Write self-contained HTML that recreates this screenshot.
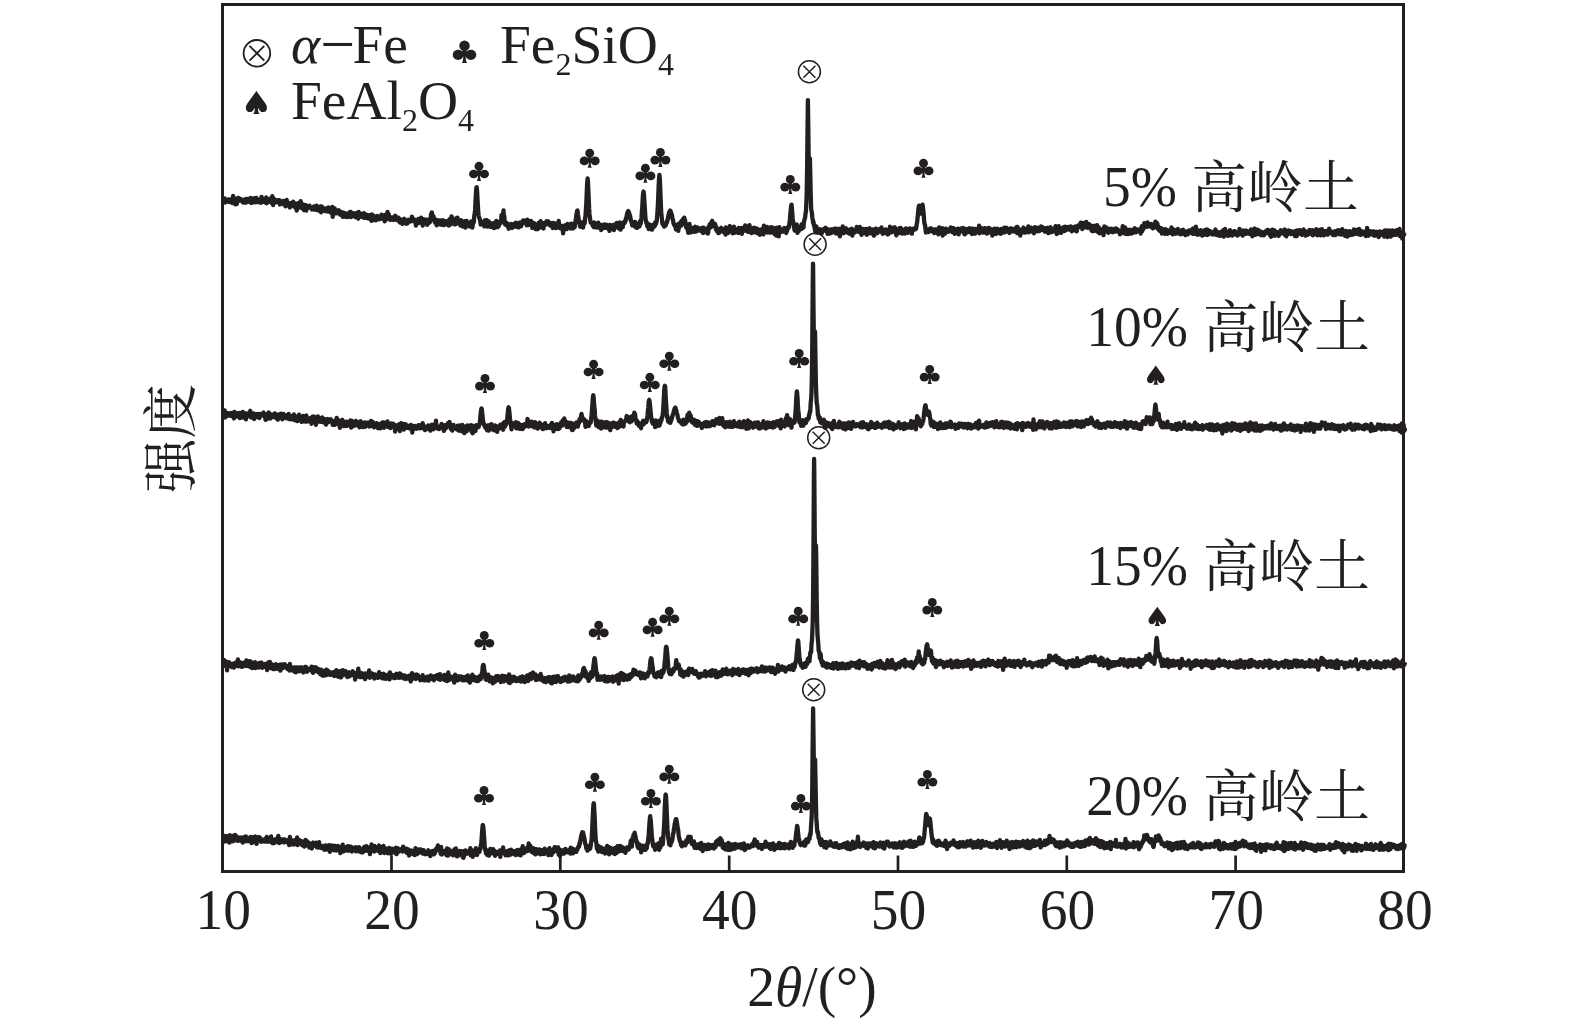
<!DOCTYPE html><html><head><meta charset="utf-8"><style>html,body{margin:0;padding:0;background:#fff;}svg{display:block;will-change:transform;}text{font-family:"Liberation Serif", "Noto Serif CJK SC", serif;fill:#231f20;}</style></head><body>
<svg width="1575" height="1029" viewBox="0 0 1575 1029">
<rect width="1575" height="1029" fill="#fff"/>
<g fill="none" stroke="#231f20" stroke-width="4.3" stroke-linejoin="round" stroke-linecap="butt">
<polyline points="223.5,201.3 223.9,202.1 224.3,201.3 224.7,198.5 225.1,202.5 225.5,201.7 225.9,199.9 226.3,201.7 226.7,201.2 227.1,201.1 227.5,200.7 227.9,201.6 228.3,199.4 228.7,200.4 229.1,199.9 229.5,202.0 229.9,201.0 230.3,200.5 230.7,199.4 231.1,200.3 231.5,200.7 231.9,200.3 232.3,203.0 232.7,202.4 233.1,195.8 233.5,197.3 233.9,200.4 234.3,200.0 234.7,201.0 235.1,201.1 235.5,204.4 235.9,198.8 236.3,200.0 236.7,204.2 237.1,201.6 237.5,201.8 237.9,199.7 238.3,197.8 238.7,200.9 239.1,200.6 239.5,198.3 239.9,199.3 240.3,200.5 240.7,199.0 241.1,200.5 241.5,200.6 241.9,200.7 242.3,199.9 242.7,202.0 243.1,202.6 243.5,201.6 243.9,199.6 244.3,202.4 244.7,200.3 245.1,202.7 245.5,199.2 245.9,202.7 246.3,201.0 246.7,198.8 247.1,200.4 247.5,201.0 247.9,201.4 248.3,199.0 248.7,198.9 249.1,201.1 249.5,199.9 249.9,201.1 250.3,202.3 250.7,197.9 251.1,201.2 251.5,203.0 251.9,200.3 252.3,199.5 252.7,202.1 253.1,201.3 253.5,202.4 253.9,200.1 254.3,198.2 254.7,200.7 255.1,200.1 255.5,202.2 255.9,201.1 256.3,197.9 256.7,198.5 257.1,202.2 257.5,201.9 257.9,199.3 258.3,200.4 258.7,201.3 259.1,201.5 259.5,202.2 259.9,201.2 260.3,200.6 260.7,200.3 261.1,202.8 261.5,196.9 261.9,200.5 262.3,200.9 262.7,198.3 263.1,201.2 263.5,199.3 263.9,201.8 264.3,199.9 264.7,201.4 265.1,202.4 265.5,200.7 265.9,198.5 266.3,197.5 266.7,203.3 267.1,200.1 267.5,199.2 267.9,200.7 268.3,200.0 268.7,201.7 269.1,200.4 269.5,200.2 269.9,198.9 270.3,200.9 270.7,198.3 271.1,201.4 271.5,203.1 271.9,197.8 272.3,196.1 272.7,201.6 273.1,205.0 273.5,199.0 273.9,198.7 274.3,201.9 274.7,199.4 275.1,200.1 275.5,200.6 275.9,202.3 276.3,201.0 276.7,202.2 277.1,201.4 277.5,200.4 277.9,201.4 278.3,200.4 278.7,202.2 279.1,200.2 279.5,200.2 279.9,204.5 280.3,202.1 280.7,202.2 281.1,203.2 281.5,201.6 281.9,202.1 282.3,203.3 282.7,203.1 283.1,200.8 283.5,204.3 283.9,201.9 284.3,201.3 284.7,201.7 285.1,202.6 285.5,206.3 285.9,201.3 286.3,203.7 286.7,199.9 287.1,203.8 287.5,205.2 287.9,203.3 288.3,202.6 288.7,204.3 289.1,205.2 289.5,205.3 289.9,207.5 290.3,204.4 290.7,203.2 291.1,204.1 291.5,204.4 291.9,204.6 292.3,204.4 292.7,204.7 293.1,201.6 293.5,206.2 293.9,203.7 294.3,202.9 294.7,206.1 295.1,207.4 295.5,206.2 295.9,205.8 296.3,204.0 296.7,210.7 297.1,207.2 297.5,203.5 297.9,204.2 298.3,205.8 298.7,202.8 299.1,205.7 299.5,204.6 299.9,207.5 300.3,207.2 300.7,201.2 301.1,206.0 301.5,203.3 301.9,208.1 302.3,206.6 302.7,207.4 303.1,204.7 303.5,209.7 303.9,210.1 304.3,204.8 304.7,207.4 305.1,205.8 305.5,207.1 305.9,205.1 306.3,210.6 306.7,205.8 307.1,206.9 307.5,208.4 307.9,206.3 308.3,207.2 308.7,206.6 309.1,207.3 309.5,205.7 309.9,207.0 310.3,207.6 310.7,207.4 311.1,208.2 311.5,207.6 311.9,209.5 312.3,207.8 312.7,208.1 313.1,207.3 313.5,207.6 313.9,206.4 314.3,209.7 314.7,206.9 315.1,207.7 315.5,209.5 315.9,209.7 316.3,208.2 316.7,205.6 317.1,210.0 317.5,209.6 317.9,206.6 318.3,210.5 318.7,208.0 319.1,207.3 319.5,209.5 319.9,208.8 320.3,209.5 320.7,206.4 321.1,212.4 321.5,208.1 321.9,206.5 322.3,210.4 322.7,208.7 323.1,209.9 323.5,208.9 323.9,209.4 324.3,210.1 324.7,208.5 325.1,211.2 325.5,209.2 325.9,208.6 326.3,210.3 326.7,211.0 327.1,210.0 327.5,208.9 327.9,211.5 328.3,207.3 328.7,208.8 329.1,210.7 329.5,208.2 329.9,210.7 330.3,210.7 330.7,212.5 331.1,209.4 331.5,210.2 331.9,211.9 332.3,207.0 332.7,216.8 333.1,210.2 333.5,210.2 333.9,213.0 334.3,211.5 334.7,208.5 335.1,212.8 335.5,213.3 335.9,211.4 336.3,211.9 336.7,213.3 337.1,210.8 337.5,213.1 337.9,212.7 338.3,211.3 338.7,210.2 339.1,212.2 339.5,211.1 339.9,214.5 340.3,213.2 340.7,214.4 341.1,213.4 341.5,213.8 341.9,212.1 342.3,214.7 342.7,216.9 343.1,213.5 343.5,213.1 343.9,214.0 344.3,213.4 344.7,213.1 345.1,214.7 345.5,214.1 345.9,216.9 346.3,214.3 346.7,215.1 347.1,216.3 347.5,214.0 347.9,217.0 348.3,213.3 348.7,213.0 349.1,213.9 349.5,214.4 349.9,212.0 350.3,214.5 350.7,211.9 351.1,217.2 351.5,214.8 351.9,213.9 352.3,213.3 352.7,214.4 353.1,214.9 353.5,213.2 353.9,213.4 354.3,214.8 354.7,214.2 355.1,216.8 355.5,217.2 355.9,215.2 356.3,215.9 356.7,213.0 357.1,216.6 357.5,215.7 357.9,216.6 358.3,218.7 358.7,212.0 359.1,216.4 359.5,213.9 359.9,216.9 360.3,213.5 360.7,214.7 361.1,215.9 361.5,216.6 361.9,215.7 362.3,214.4 362.7,215.0 363.1,217.5 363.5,216.0 363.9,213.2 364.3,217.7 364.7,217.1 365.1,217.8 365.5,215.7 365.9,217.8 366.3,214.6 366.7,217.4 367.1,215.6 367.5,217.7 367.9,218.3 368.3,215.3 368.7,216.7 369.1,216.9 369.5,218.9 369.9,218.2 370.3,214.8 370.7,217.9 371.1,218.4 371.5,220.9 371.9,214.4 372.3,216.6 372.7,219.8 373.1,215.3 373.5,215.7 373.9,218.7 374.3,220.0 374.7,216.9 375.1,219.0 375.5,218.0 375.9,220.3 376.3,217.6 376.7,219.3 377.1,216.0 377.5,217.1 377.9,217.1 378.3,219.3 378.7,218.5 379.1,216.5 379.5,219.0 379.9,219.1 380.3,217.5 380.7,217.2 381.1,217.4 381.5,214.7 381.9,218.1 382.3,218.0 382.7,216.0 383.1,218.9 383.5,215.3 383.9,216.8 384.3,217.0 384.7,221.4 385.1,214.9 385.5,218.7 385.9,219.4 386.3,218.3 386.7,219.3 387.1,214.9 387.5,211.9 387.9,216.7 388.1,213.3 388.3,215.1 388.7,214.0 389.1,218.7 389.5,219.1 389.9,216.7 390.3,219.9 390.7,218.8 391.1,218.4 391.5,218.6 391.9,218.3 392.3,219.5 392.7,219.0 393.1,217.8 393.5,220.0 393.9,216.8 394.3,217.6 394.7,217.4 395.1,218.9 395.2,215.6 395.5,219.7 395.9,217.7 396.3,217.7 396.7,217.4 397.1,220.1 397.5,219.3 397.9,217.5 398.3,217.6 398.7,218.7 399.1,218.6 399.5,221.9 399.9,222.4 400.3,221.6 400.7,220.8 401.1,219.6 401.5,220.4 401.9,221.7 402.3,224.0 402.7,221.7 403.1,219.7 403.5,220.1 403.9,219.3 404.3,218.9 404.7,220.0 405.1,220.7 405.5,223.4 405.9,220.3 406.3,222.5 406.7,223.7 407.1,220.7 407.5,223.4 407.9,221.8 408.3,219.8 408.7,221.3 409.1,220.9 409.5,220.6 409.9,220.5 410.3,221.0 410.7,221.4 411.1,218.8 411.5,219.9 411.9,216.6 412.3,219.4 412.4,220.0 412.7,219.2 413.1,219.9 413.5,220.8 413.9,219.0 414.3,220.0 414.7,221.6 415.1,222.5 415.5,221.6 415.9,225.5 416.3,220.9 416.7,223.1 417.1,223.5 417.5,221.0 417.9,219.7 418.3,218.9 418.7,221.2 419.1,223.0 419.5,221.6 419.9,221.5 420.3,220.6 420.7,222.4 421.1,217.7 421.5,222.0 421.9,221.8 422.3,219.4 422.7,225.5 423.1,219.1 423.5,219.6 423.9,219.4 424.3,223.5 424.7,220.1 425.1,222.8 425.5,222.6 425.9,222.0 426.3,219.7 426.7,220.8 427.1,224.8 427.5,219.8 427.9,220.5 428.3,221.6 428.7,223.1 429.1,222.1 429.5,222.4 429.9,218.9 430.3,221.5 430.7,219.4 431.1,213.8 431.5,217.2 431.9,217.9 431.9,212.5 432.3,214.9 432.7,219.0 433.1,215.9 433.5,216.3 433.9,218.4 434.3,220.3 434.7,220.4 435.1,222.8 435.5,222.3 435.9,219.6 436.3,222.9 436.7,225.3 437.1,224.2 437.5,223.9 437.9,222.0 438.3,223.7 438.7,220.5 439.1,223.7 439.5,222.2 439.9,224.4 440.3,223.3 440.7,220.5 441.1,223.0 441.5,224.9 441.9,220.8 442.3,221.8 442.7,221.6 443.1,220.2 443.5,224.4 443.9,225.1 444.3,224.1 444.7,223.0 445.1,222.5 445.5,223.0 445.9,221.2 446.3,224.0 446.7,224.4 447.1,224.2 447.5,221.8 447.9,222.8 448.3,222.3 448.7,225.6 449.1,222.7 449.5,219.1 449.9,222.8 450.3,224.7 450.7,221.8 451.1,221.5 451.4,219.9 451.5,216.3 451.9,217.1 452.3,218.8 452.7,221.4 453.1,222.7 453.5,223.4 453.9,221.9 454.3,224.3 454.7,222.3 455.1,221.6 455.5,224.3 455.9,221.2 456.3,218.2 456.7,221.2 457.1,223.3 457.5,217.7 457.9,222.5 458.3,222.6 458.7,220.7 459.1,220.7 459.5,222.5 459.9,222.3 460.3,225.4 460.7,223.8 461.1,220.2 461.5,221.4 461.9,224.2 462.3,226.4 462.7,223.7 463.1,223.8 463.5,226.6 463.9,223.5 464.3,223.2 464.7,221.2 465.1,222.9 465.5,227.6 465.9,221.3 466.3,223.7 466.7,221.0 467.1,223.7 467.5,225.0 467.9,223.1 468.3,224.6 468.7,224.6 469.1,224.0 469.5,226.5 469.9,224.8 470.3,222.9 470.7,222.2 471.1,221.6 471.5,224.0 471.9,222.3 472.3,227.5 472.7,225.4 473.1,221.5 473.5,220.6 473.9,222.1 474.3,215.4 474.7,213.6 475.1,209.7 475.5,201.4 475.9,194.2 476.3,188.3 476.6,187.1 476.7,187.1 477.1,191.3 477.5,198.7 477.9,205.9 478.3,213.0 478.7,215.6 479.1,217.4 479.5,218.3 479.9,219.4 480.3,221.5 480.7,224.5 481.1,223.3 481.5,222.4 481.9,221.7 482.3,222.9 482.7,223.2 483.1,223.1 483.5,221.8 483.9,223.7 484.3,226.3 484.7,220.5 485.1,223.8 485.5,220.4 485.9,224.3 486.3,222.6 486.7,220.0 487.1,223.6 487.1,226.7 487.5,224.0 487.9,226.3 488.3,224.7 488.7,221.3 489.1,225.9 489.5,224.5 489.9,222.8 490.3,226.8 490.7,225.8 491.1,224.4 491.5,226.8 491.9,223.6 492.3,226.3 492.7,223.5 493.1,226.1 493.5,223.2 493.9,228.0 494.3,225.9 494.7,227.9 495.1,224.0 495.5,224.5 495.9,226.8 496.3,220.8 496.7,223.8 497.1,227.1 497.5,226.0 497.9,227.0 498.3,224.9 498.7,226.2 499.1,223.9 499.5,222.6 499.9,221.6 500.3,223.5 500.7,223.0 501.1,221.9 501.5,215.2 501.9,216.3 502.3,216.7 502.7,216.1 503.1,213.3 503.3,212.6 503.5,210.4 503.9,219.2 504.3,215.9 504.7,222.8 505.1,224.5 505.5,223.6 505.9,222.9 506.3,224.7 506.7,222.8 507.1,225.6 507.5,225.3 507.9,226.5 508.3,227.2 508.7,228.7 509.1,225.0 509.5,227.6 509.9,224.4 510.3,224.2 510.7,224.7 511.1,224.0 511.5,227.4 511.9,227.3 512.3,228.0 512.7,225.7 513.1,226.4 513.5,224.9 513.9,223.9 514.3,226.5 514.7,226.2 515.1,223.8 515.5,226.6 515.9,222.6 516.3,225.2 516.7,224.4 517.1,224.5 517.5,223.6 517.9,227.2 518.3,226.6 518.7,227.4 519.1,225.4 519.5,222.6 519.9,224.0 520.3,222.5 520.7,225.1 521.1,226.2 521.5,224.4 521.9,222.6 522.3,222.8 522.7,223.6 523.1,220.3 523.5,222.9 523.9,222.6 524.3,221.2 524.7,221.1 525.1,222.2 525.4,220.5 525.5,220.5 525.9,223.4 526.3,222.5 526.7,225.3 527.1,220.8 527.5,219.7 527.9,224.7 528.3,225.0 528.7,222.3 529.1,221.5 529.5,224.2 529.9,221.4 530.3,224.1 530.7,221.0 531.1,224.7 531.5,221.5 531.9,224.9 532.3,227.9 532.7,224.9 533.1,226.8 533.5,224.5 533.9,224.3 534.3,223.2 534.7,227.7 535.1,225.9 535.5,229.1 535.9,224.3 536.3,225.9 536.7,226.4 537.1,228.7 537.5,229.3 537.9,225.1 538.3,224.1 538.7,222.8 539.1,228.1 539.5,225.7 539.9,224.7 540.3,225.7 540.7,221.1 541.1,222.5 541.5,227.1 541.9,226.3 542.3,226.0 542.7,223.7 543.1,226.4 543.5,228.5 543.9,223.2 544.3,225.0 544.7,224.0 545.1,225.0 545.5,223.9 545.9,223.2 546.3,221.5 546.7,222.6 547.1,221.3 547.5,222.0 547.9,222.1 548.0,223.5 548.3,221.3 548.7,222.1 549.1,224.7 549.5,222.8 549.9,223.2 550.3,225.6 550.7,224.9 551.1,224.9 551.5,225.4 551.9,223.2 552.3,226.5 552.7,228.1 553.1,226.8 553.5,223.0 553.9,226.2 554.3,224.1 554.7,225.3 555.1,225.9 555.5,223.6 555.9,228.1 556.3,225.6 556.7,227.2 557.1,226.6 557.5,227.5 557.9,227.0 558.3,222.2 558.4,224.8 558.7,221.0 559.1,224.3 559.5,226.6 559.9,227.3 560.3,228.4 560.7,225.7 561.1,227.0 561.5,226.8 561.9,228.9 562.3,229.4 562.7,226.0 563.1,233.3 563.5,226.5 563.9,226.0 564.3,227.5 564.7,227.8 565.1,227.3 565.5,225.3 565.9,229.0 566.3,226.4 566.7,229.0 567.1,228.8 567.5,224.0 567.9,224.5 568.3,224.5 568.7,226.5 569.1,226.0 569.5,226.4 569.9,224.7 570.3,226.6 570.7,228.5 571.1,223.6 571.5,225.5 571.9,226.3 572.3,225.5 572.7,225.4 573.1,228.4 573.5,227.4 573.9,226.4 574.3,223.6 574.7,227.2 575.1,223.6 575.5,220.8 575.9,218.6 576.3,215.4 576.7,213.5 577.1,210.8 577.2,210.7 577.5,210.5 577.9,214.3 578.3,216.5 578.7,219.2 579.1,222.9 579.5,222.6 579.9,225.7 580.3,226.8 580.7,222.4 581.1,225.1 581.5,222.5 581.9,224.8 582.3,226.4 582.7,222.3 583.1,227.5 583.5,223.4 583.9,221.8 584.3,222.8 584.7,223.1 585.1,218.1 585.5,216.2 585.9,209.5 586.3,203.8 586.7,193.6 587.1,184.2 587.5,179.5 587.6,178.5 587.9,180.9 588.3,189.6 588.7,198.3 589.1,208.2 589.5,213.9 589.9,217.4 590.3,220.6 590.7,222.7 591.1,222.9 591.5,222.8 591.9,223.2 592.3,222.4 592.7,225.5 593.1,226.1 593.5,226.9 593.9,222.5 594.3,227.1 594.7,225.8 595.1,223.2 595.5,226.1 595.9,227.4 596.3,226.9 596.7,227.1 597.1,227.5 597.5,227.6 597.9,226.0 598.3,222.7 598.7,224.9 599.1,227.0 599.5,225.7 599.9,227.8 600.3,228.2 600.7,226.8 601.1,230.1 601.5,224.9 601.9,228.2 602.3,225.8 602.7,225.2 603.1,227.5 603.5,225.4 603.9,228.0 604.3,224.5 604.7,226.6 605.1,225.1 605.5,226.1 605.9,226.0 606.3,224.7 606.7,228.0 607.1,224.8 607.5,225.3 607.9,228.6 608.3,228.8 608.7,228.2 609.1,227.6 609.5,230.9 609.9,224.9 610.3,225.6 610.7,225.2 611.1,228.6 611.5,227.5 611.9,228.8 612.3,228.4 612.7,226.2 613.1,225.1 613.5,224.7 613.9,230.1 614.3,228.1 614.7,227.4 615.1,225.9 615.5,226.3 615.9,226.3 616.3,226.3 616.7,222.8 617.1,226.8 617.5,226.3 617.9,227.6 618.3,227.5 618.7,228.4 619.1,226.8 619.5,228.1 619.9,222.4 620.3,225.0 620.7,229.7 621.1,224.7 621.5,226.0 621.9,227.5 622.3,224.9 622.7,227.2 623.1,223.7 623.5,222.6 623.9,222.8 624.3,221.9 624.7,222.9 625.1,221.6 625.5,220.9 625.9,218.2 626.3,218.8 626.7,215.6 627.1,214.0 627.5,212.8 627.9,211.5 628.3,211.1 628.3,211.3 628.7,212.0 629.1,212.8 629.5,214.4 629.9,215.3 630.3,216.8 630.7,220.4 631.1,220.3 631.5,222.2 631.9,223.7 632.3,225.5 632.7,223.0 633.1,224.7 633.5,225.2 633.9,225.6 634.3,222.5 634.7,226.3 635.1,221.9 635.5,227.1 635.9,227.5 636.3,227.5 636.7,224.3 637.1,227.9 637.5,224.7 637.9,223.9 638.3,224.1 638.7,224.2 639.1,225.6 639.5,226.4 639.9,221.3 640.3,223.0 640.7,223.8 641.1,220.6 641.5,217.7 641.9,211.2 642.3,207.0 642.7,198.7 643.1,193.5 643.5,191.5 643.5,191.7 643.9,193.7 644.3,200.0 644.7,206.2 645.1,212.3 645.5,218.6 645.9,220.8 646.3,222.8 646.7,222.1 647.1,225.2 647.5,226.6 647.9,224.5 648.3,225.2 648.7,229.0 649.1,226.6 649.5,225.8 649.9,224.5 650.3,225.4 650.7,226.1 651.1,229.0 651.5,225.6 651.9,229.7 652.3,225.1 652.7,226.0 653.1,227.9 653.5,226.0 653.9,224.8 654.3,225.7 654.7,226.4 655.1,222.5 655.5,224.4 655.9,223.9 656.3,222.3 656.7,221.7 657.1,216.6 657.5,211.6 657.9,204.5 658.3,195.4 658.7,184.8 659.1,177.7 659.4,174.8 659.5,175.8 659.9,180.2 660.3,189.8 660.7,200.1 661.1,210.3 661.5,215.8 661.9,218.7 662.3,223.6 662.7,223.1 663.1,223.1 663.5,225.7 663.9,225.1 664.3,226.6 664.7,224.3 665.1,225.5 665.5,225.6 665.9,224.6 666.3,223.5 666.7,221.8 667.1,222.1 667.5,220.0 667.9,218.6 668.3,216.3 668.7,214.6 669.1,212.5 669.5,211.6 669.9,211.0 670.2,210.6 670.3,210.9 670.7,211.3 671.1,213.0 671.5,213.9 671.9,214.9 672.3,218.0 672.7,219.4 673.1,220.4 673.5,223.4 673.9,224.2 674.3,225.3 674.7,225.1 675.1,226.4 675.5,227.0 675.9,229.5 676.3,226.1 676.7,227.1 677.1,227.9 677.5,224.4 677.9,224.6 678.3,230.9 678.7,224.1 679.1,227.9 679.5,225.1 679.9,224.9 680.3,222.3 680.7,223.6 681.1,225.7 681.5,220.9 681.9,223.2 682.3,222.0 682.7,224.0 683.1,218.9 683.5,221.8 683.5,221.0 683.9,219.3 684.3,217.6 684.7,224.2 685.1,220.1 685.5,222.8 685.9,226.3 686.3,227.7 686.7,225.2 687.1,227.3 687.5,227.4 687.9,230.4 688.3,232.9 688.7,225.7 689.1,230.7 689.5,224.0 689.9,229.1 690.3,227.1 690.7,232.5 691.1,229.1 691.5,227.7 691.9,228.0 692.3,228.0 692.7,229.4 693.1,228.8 693.5,230.3 693.9,231.9 694.3,230.6 694.7,227.2 695.1,226.8 695.5,228.4 695.9,231.7 696.3,229.2 696.7,228.7 697.1,230.2 697.5,227.4 697.9,227.9 698.3,230.6 698.7,229.1 699.1,228.8 699.5,230.2 699.9,228.8 700.3,228.7 700.7,229.2 701.1,231.0 701.5,230.0 701.9,227.8 702.3,229.4 702.7,231.1 703.1,233.0 703.5,227.7 703.9,230.3 704.3,229.1 704.7,231.0 705.1,230.5 705.5,232.2 705.9,230.5 706.3,228.7 706.7,228.7 707.1,230.3 707.5,230.2 707.9,233.6 708.3,231.9 708.7,226.6 709.1,228.8 709.5,225.2 709.9,224.2 710.3,227.6 710.7,226.5 711.1,222.9 711.5,226.8 711.9,221.6 712.3,220.8 712.6,224.0 712.7,223.2 713.1,222.9 713.5,223.6 713.9,224.9 714.3,225.2 714.7,226.1 715.1,223.9 715.5,225.6 715.9,229.4 716.3,227.4 716.7,230.0 717.1,231.4 717.5,228.6 717.9,229.8 718.3,233.1 718.7,230.7 719.1,232.8 719.5,232.3 719.9,231.1 720.3,229.4 720.7,228.3 721.1,227.9 721.5,230.6 721.9,230.6 722.3,229.5 722.7,231.4 723.1,229.0 723.5,232.0 723.9,230.2 724.3,230.0 724.7,230.2 725.1,230.0 725.5,234.6 725.9,227.3 726.3,230.2 726.7,232.2 727.1,231.3 727.5,229.6 727.9,233.2 728.3,228.2 728.7,227.8 729.1,231.1 729.5,227.6 729.9,226.0 730.3,231.7 730.7,231.4 731.1,231.4 731.5,229.3 731.9,230.5 732.3,228.6 732.7,233.3 733.1,231.6 733.5,231.5 733.9,226.7 734.3,231.5 734.7,232.7 735.1,232.2 735.5,231.4 735.9,230.1 736.3,229.4 736.7,231.1 737.1,230.8 737.5,230.6 737.9,229.5 738.3,233.0 738.7,227.9 739.1,229.9 739.5,228.9 739.9,231.9 740.3,232.5 740.7,232.1 741.1,231.5 741.5,227.8 741.9,233.9 742.3,231.2 742.7,230.0 743.1,230.1 743.5,229.5 743.9,230.8 744.3,230.4 744.7,229.2 745.1,225.4 745.5,229.8 745.9,230.7 746.3,230.8 746.7,229.5 747.1,230.5 747.5,231.4 747.9,228.7 748.3,231.9 748.7,225.8 749.0,227.1 749.1,227.7 749.5,225.2 749.9,227.9 750.3,232.0 750.7,232.0 751.1,230.1 751.5,233.1 751.9,230.5 752.3,229.2 752.7,230.5 753.1,229.9 753.5,231.5 753.9,227.7 754.3,232.3 754.7,229.9 755.1,232.3 755.5,228.2 755.9,230.0 756.3,230.9 756.7,232.2 757.1,228.6 757.5,233.4 757.9,231.3 758.3,229.4 758.7,232.5 759.1,230.7 759.5,232.6 759.9,234.8 760.3,231.9 760.7,229.6 761.1,229.8 761.5,231.4 761.9,231.0 762.3,228.9 762.7,229.0 763.1,231.4 763.5,234.3 763.9,225.6 764.3,231.3 764.7,229.8 765.1,231.5 765.5,231.7 765.9,230.4 766.3,228.4 766.7,227.9 767.1,226.9 767.5,232.5 767.9,229.8 768.3,229.2 768.7,229.6 769.1,227.7 769.5,230.7 769.9,232.5 770.3,232.2 770.7,227.5 771.1,232.7 771.5,229.1 771.9,227.3 772.3,228.5 772.7,229.0 773.1,230.7 773.5,228.9 773.9,228.1 774.3,230.6 774.7,234.3 775.1,229.6 775.5,231.6 775.9,231.0 776.3,235.5 776.7,227.6 777.1,232.6 777.5,228.4 777.9,229.6 778.3,230.4 778.7,236.3 779.1,229.2 779.5,227.2 779.9,232.8 780.3,229.1 780.7,230.1 781.1,230.5 781.5,230.7 781.9,230.0 782.3,230.7 782.7,230.9 783.1,231.6 783.5,229.4 783.9,228.9 784.3,228.1 784.7,231.2 785.1,230.1 785.5,231.1 785.9,231.0 786.3,233.0 786.7,230.2 787.1,230.8 787.5,227.3 787.9,227.2 788.3,228.0 788.7,225.9 789.1,227.1 789.5,222.4 789.9,220.5 790.3,214.2 790.7,210.1 791.1,206.2 791.4,205.1 791.5,204.6 791.9,208.2 792.3,213.6 792.7,218.5 793.1,221.4 793.5,224.2 793.9,225.1 794.3,228.7 794.7,230.5 795.1,227.7 795.5,225.9 795.9,229.3 796.3,230.5 796.7,224.5 797.1,229.5 797.5,232.9 797.9,230.8 798.3,230.1 798.7,229.8 799.1,230.8 799.5,227.0 799.9,227.1 800.3,229.3 800.7,227.3 801.1,228.6 801.5,224.4 801.9,228.7 802.3,228.4 802.7,226.4 803.1,225.9 803.5,227.5 803.9,221.8 804.3,220.6 804.7,218.7 805.1,217.7 805.5,213.8 805.9,211.7 806.3,204.6 806.7,192.8 807.1,170.7 807.5,132.3 807.9,100.2 807.9,100.1 808.3,127.4 808.7,161.6 809.1,174.2 809.5,166.7 809.9,158.4 809.9,158.4 810.3,174.6 810.7,193.7 811.1,208.1 811.5,210.9 811.9,212.7 812.3,217.3 812.7,219.3 813.1,222.8 813.5,221.8 813.9,225.5 814.3,226.0 814.7,228.3 815.1,230.5 815.5,232.2 815.9,230.2 816.3,226.3 816.7,228.1 817.1,229.3 817.5,232.7 817.9,230.5 818.3,231.6 818.7,229.4 819.1,230.9 819.5,231.1 819.9,229.1 820.3,231.5 820.7,232.0 821.1,229.9 821.5,232.0 821.9,233.2 822.3,230.3 822.7,230.2 823.1,229.7 823.5,229.2 823.9,230.6 824.3,229.5 824.7,229.8 825.1,229.0 825.5,227.7 825.9,228.8 826.3,231.0 826.7,228.5 827.1,229.7 827.5,233.8 827.9,232.9 828.3,229.5 828.7,231.8 829.1,229.7 829.5,233.7 829.9,229.9 830.3,230.9 830.7,233.1 831.1,229.3 831.5,233.1 831.9,229.3 832.3,231.0 832.7,229.9 833.1,230.3 833.5,230.8 833.9,230.4 834.3,228.7 834.7,232.1 835.1,231.9 835.5,233.1 835.9,233.5 836.3,228.6 836.7,233.3 837.1,233.3 837.5,230.3 837.9,232.9 838.3,233.7 838.7,230.2 839.1,228.8 839.5,230.7 839.9,236.4 840.3,231.9 840.7,229.2 841.1,230.8 841.5,229.6 841.9,230.4 842.3,231.3 842.7,226.4 843.1,231.4 843.5,233.2 843.9,230.3 844.3,230.1 844.7,232.5 845.1,228.5 845.5,228.4 845.9,228.3 846.3,230.6 846.7,231.6 847.1,231.0 847.5,232.2 847.9,232.8 848.3,232.2 848.7,230.1 849.1,231.0 849.5,233.7 849.9,229.5 850.3,230.8 850.7,230.3 851.1,230.8 851.5,229.3 851.9,228.7 852.3,235.6 852.7,232.7 853.1,229.9 853.5,231.0 853.9,232.5 854.3,230.8 854.7,232.5 855.1,230.4 855.5,230.8 855.9,231.1 856.3,230.3 856.7,227.0 857.1,231.2 857.5,231.5 857.9,231.7 858.3,228.9 858.7,231.3 859.1,231.2 859.5,227.7 859.9,226.9 860.3,231.8 860.7,229.4 861.1,232.9 861.5,234.8 861.9,230.1 862.3,230.1 862.7,231.3 863.1,232.4 863.5,228.9 863.9,233.1 864.3,232.7 864.7,232.1 865.1,230.0 865.5,232.4 865.9,232.3 866.3,228.9 866.7,234.9 867.1,230.6 867.5,231.7 867.9,230.2 868.3,231.9 868.7,233.4 869.1,229.9 869.5,228.3 869.9,230.5 870.3,229.0 870.7,230.0 871.1,231.1 871.5,231.2 871.9,233.6 872.3,229.5 872.7,232.0 873.1,230.5 873.5,233.7 873.9,235.7 874.3,232.0 874.7,234.5 875.1,230.6 875.5,228.8 875.9,229.3 876.3,228.7 876.7,229.7 877.1,230.9 877.5,233.1 877.9,232.2 878.3,231.6 878.7,229.9 879.1,229.4 879.5,230.8 879.9,231.0 880.3,231.3 880.7,231.6 881.1,230.5 881.5,227.5 881.9,228.9 882.3,229.4 882.7,233.8 883.1,230.2 883.5,232.1 883.9,233.3 884.3,231.6 884.7,230.3 885.1,230.6 885.5,229.4 885.9,231.8 886.3,233.1 886.7,232.0 887.1,232.5 887.5,232.3 887.9,234.5 888.3,229.8 888.7,231.2 889.1,232.1 889.5,233.0 889.9,226.7 890.3,230.1 890.7,230.5 891.1,229.2 891.5,232.4 891.9,231.2 892.3,230.1 892.7,227.9 893.1,228.3 893.5,229.0 893.9,231.5 894.3,228.6 894.7,227.2 895.1,228.3 895.5,229.8 895.9,233.8 896.3,235.3 896.7,230.0 897.1,232.7 897.5,233.6 897.9,233.4 898.3,231.0 898.7,229.0 899.1,230.3 899.5,228.1 899.9,232.0 900.3,232.9 900.7,228.0 901.1,231.3 901.5,231.9 901.9,233.5 902.3,233.6 902.7,232.5 903.1,229.7 903.5,230.2 903.9,233.0 904.3,229.8 904.7,230.7 905.1,233.5 905.5,231.0 905.9,228.3 906.3,230.2 906.7,231.7 907.1,230.3 907.5,232.6 907.9,232.8 908.3,229.3 908.7,229.8 909.1,230.4 909.5,228.4 909.9,231.3 910.3,230.3 910.7,232.1 911.1,229.6 911.5,229.1 911.9,233.7 912.3,229.1 912.7,229.5 913.1,229.0 913.5,229.7 913.9,228.4 914.3,229.8 914.7,228.4 915.1,228.6 915.5,229.2 915.9,228.9 916.3,227.4 916.7,224.2 917.1,222.8 917.5,218.8 917.9,214.7 918.3,209.5 918.7,207.0 919.0,205.6 919.1,206.2 919.5,207.1 919.9,208.9 920.3,210.9 920.7,213.6 921.1,211.3 921.5,210.0 921.9,206.5 922.3,205.4 922.5,204.6 922.7,205.8 923.1,208.9 923.5,212.6 923.9,217.2 924.3,222.6 924.7,224.4 925.1,225.4 925.5,229.5 925.9,232.5 926.3,229.0 926.7,231.6 927.1,229.3 927.5,232.0 927.9,229.3 928.3,232.2 928.7,231.0 929.1,229.8 929.5,230.6 929.9,229.3 930.3,228.4 930.7,228.5 931.1,230.2 931.5,228.5 931.9,231.2 932.3,231.5 932.7,231.5 933.1,229.8 933.5,230.7 933.9,230.6 934.3,233.1 934.7,229.3 935.1,230.0 935.5,230.2 935.9,230.4 936.3,229.4 936.7,229.7 937.1,232.7 937.5,229.7 937.9,232.4 938.3,234.4 938.7,233.2 939.1,227.5 939.5,232.1 939.9,231.5 940.3,231.6 940.7,227.9 941.1,232.0 941.5,228.9 941.9,233.0 942.3,232.9 942.7,235.6 943.1,230.6 943.5,228.5 943.9,233.0 944.3,232.8 944.7,230.5 945.1,233.5 945.5,232.3 945.9,228.7 946.3,230.3 946.7,230.1 947.1,230.6 947.5,231.2 947.9,229.6 948.3,230.4 948.7,231.7 949.1,230.5 949.5,230.1 949.9,230.2 950.3,230.7 950.7,227.4 951.1,231.1 951.5,229.0 951.9,230.9 952.3,228.2 952.7,232.3 953.1,231.0 953.5,228.2 953.9,231.0 954.3,229.3 954.7,233.8 955.1,231.5 955.5,229.3 955.9,231.2 956.3,230.6 956.7,232.9 957.1,231.4 957.5,231.6 957.9,228.7 958.3,232.1 958.7,234.4 959.1,231.9 959.5,230.7 959.9,231.0 960.3,229.0 960.7,230.9 961.1,228.5 961.5,230.5 961.9,229.9 962.3,229.1 962.7,231.6 963.1,228.0 963.5,230.5 963.9,228.4 964.3,234.1 964.7,234.3 965.1,232.2 965.5,233.9 965.9,231.7 966.3,231.6 966.7,229.9 967.1,229.1 967.5,230.8 967.9,229.8 968.3,230.0 968.7,232.2 969.1,230.6 969.5,228.2 969.9,230.6 970.3,229.5 970.7,230.4 971.1,228.9 971.5,233.1 971.9,234.0 972.3,228.6 972.7,231.7 973.1,231.6 973.5,228.8 973.9,230.9 974.3,233.2 974.7,232.0 975.1,233.7 975.5,229.0 975.9,229.9 976.3,231.6 976.7,231.8 977.1,231.1 977.5,230.3 977.9,230.4 978.3,229.9 978.7,231.6 979.1,225.7 979.5,233.4 979.9,229.5 980.3,227.9 980.7,231.3 981.1,227.9 981.5,231.0 981.9,229.7 982.3,231.5 982.7,231.8 983.1,232.6 983.5,229.5 983.9,230.3 984.3,230.6 984.7,228.1 985.1,231.7 985.5,231.0 985.9,228.6 986.3,233.2 986.7,233.5 987.1,228.5 987.5,231.8 987.9,233.1 988.3,232.1 988.7,228.9 989.1,227.9 989.5,230.0 989.9,229.3 990.3,230.1 990.7,230.2 991.1,231.2 991.5,229.4 991.9,229.9 992.3,235.7 992.7,230.3 993.1,231.9 993.5,231.1 993.9,230.7 994.3,228.7 994.7,231.2 995.1,230.3 995.5,231.6 995.9,234.0 996.3,230.6 996.7,231.7 997.1,228.7 997.5,230.7 997.9,233.1 998.3,230.3 998.7,229.4 999.1,230.8 999.5,230.1 999.9,229.9 1000.3,229.6 1000.7,233.8 1001.1,228.8 1001.5,229.6 1001.9,229.2 1002.3,232.4 1002.7,229.8 1003.1,232.5 1003.5,230.6 1003.9,230.2 1004.3,227.6 1004.7,232.3 1005.1,231.1 1005.5,230.9 1005.9,230.0 1006.3,229.4 1006.7,227.8 1007.1,231.6 1007.5,230.5 1007.9,229.5 1008.3,229.1 1008.7,230.3 1009.1,230.0 1009.5,233.0 1009.9,231.6 1010.3,229.2 1010.7,228.4 1011.1,229.7 1011.5,228.5 1011.9,230.3 1012.3,230.8 1012.7,231.3 1013.1,230.9 1013.5,229.8 1013.9,231.2 1014.3,228.8 1014.7,230.2 1015.1,231.6 1015.5,230.6 1015.9,227.8 1016.3,228.0 1016.7,227.1 1017.1,233.0 1017.5,227.0 1017.9,229.5 1018.3,233.0 1018.7,231.8 1019.1,232.3 1019.5,229.3 1019.9,231.4 1020.3,235.6 1020.7,230.2 1021.1,231.0 1021.5,229.6 1021.9,230.0 1022.3,230.6 1022.7,232.5 1023.1,228.4 1023.5,227.6 1023.9,230.0 1024.3,230.4 1024.7,232.7 1025.1,231.5 1025.5,229.1 1025.9,230.9 1026.3,232.1 1026.7,230.6 1027.1,229.6 1027.5,231.4 1027.9,229.2 1028.3,226.5 1028.7,232.3 1029.1,227.7 1029.5,229.2 1029.9,229.2 1030.3,229.3 1030.7,229.4 1031.1,227.6 1031.5,231.1 1031.9,230.2 1032.3,230.4 1032.7,232.1 1033.1,232.1 1033.5,232.3 1033.9,233.3 1034.3,230.8 1034.7,227.2 1035.1,230.0 1035.5,229.5 1035.9,229.6 1036.3,228.6 1036.7,228.0 1037.1,230.9 1037.5,231.2 1037.9,227.6 1038.3,230.8 1038.7,229.7 1039.1,229.3 1039.5,231.0 1039.9,229.8 1040.3,229.0 1040.7,230.0 1041.1,226.3 1041.5,228.7 1041.9,228.9 1042.3,227.1 1042.7,229.9 1043.1,230.0 1043.5,228.5 1043.9,229.3 1044.3,230.9 1044.7,231.5 1045.1,228.2 1045.5,230.2 1045.9,231.6 1046.3,229.9 1046.7,228.5 1047.1,228.3 1047.5,229.1 1047.9,227.8 1048.3,233.2 1048.7,228.8 1049.1,230.2 1049.5,229.7 1049.9,230.6 1050.3,228.9 1050.7,227.3 1051.1,232.4 1051.5,229.4 1051.9,229.7 1052.3,229.9 1052.7,231.7 1053.1,230.9 1053.5,231.4 1053.9,231.0 1054.3,229.7 1054.7,229.8 1055.1,228.1 1055.5,226.2 1055.9,229.2 1056.3,227.5 1056.7,234.0 1057.1,231.9 1057.5,231.2 1057.9,228.3 1058.3,232.8 1058.7,226.2 1059.1,227.0 1059.5,228.0 1059.9,227.7 1060.3,229.7 1060.7,230.0 1061.1,232.9 1061.5,231.4 1061.9,231.8 1062.3,230.4 1062.7,229.4 1063.1,228.6 1063.5,227.3 1063.9,228.4 1064.3,229.2 1064.7,231.0 1065.1,226.7 1065.5,227.2 1065.9,229.9 1066.3,227.5 1066.7,229.8 1067.1,228.6 1067.5,227.9 1067.9,227.0 1068.3,229.2 1068.7,228.0 1069.1,228.2 1069.5,228.2 1069.9,229.7 1070.3,229.5 1070.7,226.5 1071.1,229.0 1071.5,230.0 1071.9,231.2 1072.3,230.7 1072.7,229.6 1073.1,227.1 1073.5,227.5 1073.9,230.2 1074.3,227.2 1074.7,230.1 1075.1,230.4 1075.5,226.3 1075.9,228.8 1076.3,227.7 1076.7,231.4 1077.1,229.1 1077.5,226.6 1077.9,228.0 1078.3,225.4 1078.7,226.6 1079.1,227.0 1079.5,226.6 1079.9,226.8 1080.3,224.5 1080.7,222.6 1081.1,225.0 1081.5,224.0 1081.9,224.2 1082.3,229.1 1082.7,227.5 1083.1,225.0 1083.5,222.9 1083.9,223.2 1084.3,226.2 1084.4,227.3 1084.7,224.9 1085.1,225.7 1085.5,225.8 1085.9,227.3 1086.3,222.0 1086.7,225.7 1087.1,226.3 1087.5,227.7 1087.9,226.8 1088.3,224.4 1088.7,225.5 1089.1,224.1 1089.5,227.5 1089.9,227.7 1090.3,228.4 1090.7,225.8 1091.1,225.7 1091.5,230.4 1091.9,228.2 1092.3,231.1 1092.7,229.0 1093.1,225.9 1093.5,230.0 1093.9,231.1 1094.3,228.3 1094.7,225.9 1095.1,230.6 1095.5,229.4 1095.9,230.2 1096.3,225.3 1096.7,231.0 1097.1,225.2 1097.5,228.6 1097.9,232.0 1098.3,227.3 1098.7,227.2 1099.1,229.6 1099.5,233.3 1099.9,233.0 1100.3,229.3 1100.7,232.1 1101.1,231.2 1101.5,230.6 1101.9,230.8 1102.3,229.1 1102.7,231.7 1103.1,232.3 1103.5,235.1 1103.9,232.2 1104.3,226.3 1104.7,228.6 1105.1,231.4 1105.5,230.8 1105.9,227.2 1106.3,230.3 1106.7,229.9 1107.1,230.3 1107.5,230.1 1107.9,231.8 1108.3,232.7 1108.7,231.6 1109.1,228.6 1109.5,228.8 1109.9,229.3 1110.3,230.4 1110.7,229.8 1111.1,229.9 1111.5,228.7 1111.9,232.1 1112.3,231.9 1112.7,232.3 1113.1,230.5 1113.5,231.4 1113.9,229.0 1114.3,228.9 1114.7,229.8 1115.1,231.6 1115.5,230.2 1115.9,228.4 1116.3,230.8 1116.7,231.3 1117.1,230.8 1117.5,229.4 1117.9,230.7 1118.3,230.0 1118.7,230.4 1119.1,231.0 1119.5,232.3 1119.9,234.3 1120.3,233.9 1120.7,232.3 1121.1,230.6 1121.5,230.7 1121.9,230.6 1122.3,233.0 1122.7,226.2 1123.1,231.4 1123.5,227.6 1123.9,231.1 1124.3,233.4 1124.7,229.7 1125.1,227.4 1125.5,233.5 1125.9,233.9 1126.3,231.9 1126.7,233.2 1127.1,229.6 1127.5,233.1 1127.9,234.0 1128.3,232.0 1128.7,231.4 1129.1,233.1 1129.5,233.0 1129.9,229.7 1130.3,233.5 1130.7,232.4 1131.1,231.2 1131.5,233.6 1131.9,232.8 1132.3,232.5 1132.7,230.5 1133.1,232.9 1133.5,229.5 1133.9,231.2 1134.3,228.5 1134.7,228.3 1135.1,232.2 1135.5,231.4 1135.9,231.5 1136.3,232.2 1136.7,231.7 1137.1,229.5 1137.5,231.1 1137.9,230.8 1138.3,229.8 1138.7,230.4 1139.1,229.9 1139.5,229.4 1139.9,229.7 1140.3,230.5 1140.7,233.5 1141.1,228.0 1141.5,230.1 1141.9,226.1 1142.3,231.0 1142.7,227.0 1143.1,227.3 1143.5,228.7 1143.9,227.9 1144.3,223.2 1144.7,226.2 1145.1,224.5 1145.5,225.7 1145.9,224.8 1146.0,225.9 1146.3,225.1 1146.7,224.4 1147.1,226.8 1147.5,222.5 1147.9,224.8 1148.3,224.1 1148.7,225.9 1149.1,225.7 1149.5,226.3 1149.9,225.8 1150.3,226.0 1150.7,223.9 1151.1,226.6 1151.5,227.1 1151.9,225.4 1152.3,224.9 1152.7,224.6 1153.1,228.4 1153.5,225.5 1153.9,225.5 1154.3,224.1 1154.7,223.6 1155.0,222.9 1155.1,227.2 1155.5,221.6 1155.9,225.3 1156.3,225.0 1156.7,225.0 1157.1,223.1 1157.5,224.3 1157.9,228.8 1158.3,226.5 1158.7,229.9 1159.1,230.1 1159.5,230.4 1159.9,231.0 1160.3,228.0 1160.7,229.4 1161.1,231.6 1161.5,228.3 1161.9,233.6 1162.3,229.7 1162.7,230.8 1163.1,229.3 1163.5,231.8 1163.9,230.2 1164.3,231.1 1164.7,229.7 1165.1,233.9 1165.5,229.2 1165.9,232.9 1166.3,232.6 1166.7,232.8 1167.1,230.1 1167.5,233.8 1167.9,233.5 1168.3,232.0 1168.7,232.2 1169.1,231.5 1169.5,232.8 1169.9,230.5 1170.3,232.9 1170.7,232.7 1171.1,229.6 1171.5,227.4 1171.9,231.8 1172.3,231.8 1172.7,234.3 1173.1,232.2 1173.5,231.2 1173.9,229.6 1174.3,231.9 1174.7,231.0 1175.1,230.1 1175.5,231.8 1175.9,233.7 1176.3,232.0 1176.7,230.1 1177.1,232.4 1177.5,229.9 1177.9,229.0 1178.3,232.6 1178.7,230.7 1179.1,233.6 1179.5,232.4 1179.9,230.5 1180.3,232.4 1180.7,234.4 1181.1,231.9 1181.5,230.5 1181.9,231.2 1182.3,230.9 1182.7,230.1 1183.1,229.8 1183.5,232.9 1183.9,234.0 1184.3,231.4 1184.7,233.4 1185.1,233.6 1185.5,235.1 1185.9,231.7 1186.3,231.5 1186.7,232.8 1187.1,232.3 1187.5,232.7 1187.9,234.3 1188.3,231.4 1188.7,232.6 1189.1,230.4 1189.5,231.8 1189.9,230.7 1190.3,230.4 1190.7,231.3 1191.1,231.2 1191.5,232.6 1191.9,233.3 1192.3,229.4 1192.7,233.9 1193.1,228.4 1193.5,232.9 1193.9,233.7 1194.3,231.2 1194.7,231.9 1195.1,230.8 1195.5,233.8 1195.9,226.7 1196.3,230.6 1196.7,229.0 1197.1,232.8 1197.5,234.7 1197.9,234.5 1198.3,233.7 1198.7,232.9 1199.1,231.1 1199.5,234.4 1199.9,233.4 1200.3,230.9 1200.7,230.2 1201.1,231.5 1201.5,234.5 1201.9,234.9 1202.3,235.6 1202.7,231.5 1203.1,232.2 1203.5,235.2 1203.9,233.1 1204.3,234.0 1204.7,230.2 1205.1,231.7 1205.5,232.3 1205.9,231.7 1206.3,231.6 1206.7,229.4 1207.1,235.2 1207.5,232.7 1207.9,230.0 1208.3,234.4 1208.7,232.7 1209.1,233.7 1209.5,232.2 1209.9,231.2 1210.3,231.1 1210.7,232.9 1211.1,233.6 1211.5,233.3 1211.9,233.5 1212.3,234.4 1212.7,232.8 1213.1,234.0 1213.5,234.2 1213.9,232.9 1214.3,232.2 1214.7,231.4 1215.1,230.3 1215.5,229.6 1215.9,234.7 1216.3,232.5 1216.7,231.5 1217.1,235.2 1217.5,234.2 1217.9,232.9 1218.3,234.5 1218.7,232.4 1219.1,233.4 1219.5,235.8 1219.9,234.5 1220.3,232.2 1220.7,233.7 1221.1,234.5 1221.5,232.2 1221.9,231.6 1222.3,235.7 1222.7,232.0 1223.1,230.3 1223.5,232.8 1223.9,236.7 1224.3,233.7 1224.7,234.3 1225.1,228.9 1225.5,231.7 1225.9,234.9 1226.3,232.1 1226.7,235.1 1227.1,233.7 1227.5,233.7 1227.9,235.9 1228.3,232.2 1228.7,232.2 1229.1,233.0 1229.5,233.4 1229.9,230.1 1230.3,235.2 1230.7,233.4 1231.1,232.9 1231.5,234.2 1231.9,232.6 1232.3,235.5 1232.7,233.3 1233.1,234.3 1233.5,231.5 1233.9,232.5 1234.3,233.4 1234.7,231.1 1235.1,231.5 1235.5,232.6 1235.9,234.7 1236.3,234.1 1236.7,234.3 1237.1,233.1 1237.5,234.2 1237.9,235.5 1238.3,233.1 1238.7,233.5 1239.1,233.7 1239.5,229.0 1239.9,232.6 1240.3,233.6 1240.7,234.0 1241.1,232.0 1241.5,234.3 1241.9,231.7 1242.3,232.3 1242.7,235.7 1243.1,230.3 1243.5,232.6 1243.9,232.6 1244.3,232.7 1244.7,232.0 1245.1,233.8 1245.5,230.9 1245.9,230.6 1246.3,233.8 1246.7,230.9 1247.1,233.4 1247.5,232.9 1247.9,231.5 1248.3,232.2 1248.7,232.6 1249.1,233.7 1249.5,231.7 1249.9,232.5 1250.3,230.6 1250.7,232.5 1251.1,229.4 1251.5,232.6 1251.9,231.9 1252.3,236.3 1252.7,235.0 1253.1,232.3 1253.5,234.1 1253.9,232.9 1254.3,230.7 1254.7,228.5 1255.1,234.8 1255.5,233.4 1255.9,229.4 1256.3,233.9 1256.7,234.3 1257.1,231.7 1257.5,234.2 1257.9,229.7 1258.3,232.3 1258.7,232.7 1259.1,233.8 1259.5,233.2 1259.9,233.0 1260.3,233.4 1260.7,231.4 1261.1,235.3 1261.5,232.1 1261.9,234.2 1262.3,232.8 1262.7,232.5 1263.1,234.0 1263.5,233.8 1263.9,235.4 1264.3,234.8 1264.7,232.0 1265.1,233.8 1265.5,233.0 1265.9,231.3 1266.3,230.7 1266.7,233.0 1267.1,231.4 1267.5,229.9 1267.9,232.1 1268.3,232.8 1268.7,232.6 1269.1,230.3 1269.5,231.5 1269.9,235.1 1270.3,231.5 1270.7,232.3 1271.1,236.8 1271.5,233.5 1271.9,232.0 1272.3,229.7 1272.7,233.5 1273.1,230.5 1273.5,232.9 1273.9,231.4 1274.3,230.2 1274.7,235.9 1275.1,232.9 1275.5,234.5 1275.9,234.2 1276.3,231.6 1276.7,233.0 1277.1,232.2 1277.5,234.6 1277.9,233.8 1278.3,232.4 1278.7,235.9 1279.1,234.0 1279.5,233.8 1279.9,231.6 1280.3,233.5 1280.7,230.2 1281.1,233.5 1281.5,231.0 1281.9,233.1 1282.3,232.3 1282.7,233.2 1283.1,233.4 1283.5,232.8 1283.9,232.8 1284.3,230.3 1284.7,229.6 1285.1,235.1 1285.5,233.9 1285.9,230.4 1286.3,236.3 1286.7,231.7 1287.1,233.9 1287.5,233.7 1287.9,233.2 1288.3,234.1 1288.7,230.5 1289.1,232.8 1289.5,232.5 1289.9,233.0 1290.3,232.3 1290.7,231.6 1291.1,231.3 1291.5,234.1 1291.9,231.3 1292.3,233.4 1292.7,233.3 1293.1,232.4 1293.5,233.6 1293.9,233.7 1294.3,231.9 1294.7,233.4 1295.1,236.1 1295.5,230.9 1295.9,232.2 1296.3,231.5 1296.7,236.2 1297.1,230.5 1297.5,232.9 1297.9,234.5 1298.3,231.1 1298.7,232.3 1299.1,231.3 1299.5,230.1 1299.9,232.4 1300.3,233.2 1300.7,231.8 1301.1,232.8 1301.5,233.9 1301.9,234.9 1302.3,230.6 1302.7,233.8 1303.1,231.5 1303.5,229.4 1303.9,231.3 1304.3,233.8 1304.7,233.2 1305.1,230.9 1305.5,235.7 1305.9,233.6 1306.3,232.9 1306.7,232.0 1307.1,233.7 1307.5,232.3 1307.9,234.8 1308.3,233.3 1308.7,233.9 1309.1,232.2 1309.5,229.9 1309.9,233.5 1310.3,230.8 1310.7,232.4 1311.1,232.7 1311.5,231.3 1311.9,234.1 1312.3,230.1 1312.7,235.4 1313.1,231.8 1313.5,234.4 1313.9,234.8 1314.3,230.8 1314.7,231.1 1315.1,234.1 1315.5,232.7 1315.9,232.4 1316.3,229.2 1316.7,229.4 1317.1,233.5 1317.5,235.3 1317.9,231.6 1318.3,231.4 1318.7,233.4 1319.1,234.0 1319.5,234.2 1319.9,232.5 1320.3,229.6 1320.7,235.3 1321.1,231.9 1321.5,235.0 1321.9,229.2 1322.3,233.3 1322.7,231.7 1323.1,230.8 1323.5,234.6 1323.9,235.3 1324.3,232.0 1324.7,234.1 1325.1,231.2 1325.5,232.0 1325.9,232.7 1326.3,232.4 1326.7,234.1 1327.1,230.9 1327.5,234.7 1327.9,234.6 1328.3,232.5 1328.7,230.8 1329.1,228.7 1329.5,232.8 1329.9,231.6 1330.3,233.1 1330.7,231.2 1331.1,233.3 1331.5,233.2 1331.9,233.4 1332.3,233.9 1332.7,233.8 1333.1,235.0 1333.5,231.8 1333.9,234.2 1334.3,233.2 1334.7,232.2 1335.1,231.2 1335.5,235.2 1335.9,233.1 1336.3,231.9 1336.7,232.9 1337.1,232.9 1337.5,231.8 1337.9,230.2 1338.3,232.8 1338.7,232.3 1339.1,232.2 1339.5,234.4 1339.9,230.4 1340.3,231.1 1340.7,233.2 1341.1,234.4 1341.5,234.1 1341.9,234.4 1342.3,229.2 1342.7,233.9 1343.1,233.7 1343.5,234.1 1343.9,231.8 1344.3,233.8 1344.7,234.7 1345.1,235.9 1345.5,233.6 1345.9,230.9 1346.3,233.3 1346.7,234.4 1347.1,234.1 1347.5,236.6 1347.9,232.9 1348.3,231.4 1348.7,232.0 1349.1,234.2 1349.5,231.6 1349.9,231.2 1350.3,231.5 1350.7,235.0 1351.1,233.4 1351.5,232.3 1351.9,234.4 1352.3,234.1 1352.7,231.5 1353.1,234.5 1353.5,233.5 1353.9,229.5 1354.3,231.0 1354.7,233.5 1355.1,233.8 1355.5,232.6 1355.9,231.1 1356.3,233.4 1356.7,229.9 1357.1,233.9 1357.5,232.8 1357.9,233.1 1358.3,232.0 1358.7,234.4 1359.1,228.9 1359.5,231.4 1359.9,233.7 1360.3,231.3 1360.7,234.9 1361.1,233.1 1361.5,231.0 1361.9,234.3 1362.3,232.5 1362.7,233.6 1363.1,231.9 1363.5,232.0 1363.9,234.3 1364.3,233.2 1364.7,231.8 1365.1,231.6 1365.5,234.1 1365.9,236.1 1366.3,231.4 1366.7,234.0 1367.1,227.8 1367.5,230.4 1367.9,234.0 1368.3,235.7 1368.7,233.1 1369.1,233.8 1369.5,233.4 1369.9,234.8 1370.3,231.2 1370.7,234.2 1371.1,232.4 1371.5,232.4 1371.9,232.9 1372.3,232.7 1372.7,231.7 1373.1,232.6 1373.5,231.4 1373.9,235.6 1374.3,234.1 1374.7,232.2 1375.1,235.6 1375.5,234.9 1375.9,233.5 1376.3,231.8 1376.7,233.3 1377.1,234.0 1377.5,235.3 1377.9,232.6 1378.3,232.0 1378.7,237.0 1379.1,235.5 1379.5,233.5 1379.9,231.3 1380.3,233.6 1380.7,234.8 1381.1,234.2 1381.5,234.4 1381.9,233.1 1382.3,234.9 1382.7,232.0 1383.1,232.3 1383.5,232.3 1383.9,232.2 1384.3,236.7 1384.7,230.3 1385.1,233.7 1385.5,231.7 1385.9,231.2 1386.3,233.5 1386.7,230.5 1387.1,233.0 1387.5,237.0 1387.9,232.8 1388.3,233.9 1388.7,231.6 1389.1,233.9 1389.5,230.5 1389.9,233.3 1390.3,232.7 1390.7,236.7 1391.1,232.7 1391.5,232.0 1391.9,231.6 1392.3,230.4 1392.7,233.8 1393.1,235.1 1393.5,232.0 1393.9,234.0 1394.3,232.2 1394.7,233.8 1395.1,233.8 1395.5,230.6 1395.9,231.8 1396.3,234.9 1396.7,230.1 1397.1,233.4 1397.5,232.8 1397.9,231.8 1398.3,233.6 1398.7,234.0 1399.1,234.4 1399.5,228.9 1399.9,236.2 1400.3,232.4 1400.7,235.0 1401.1,232.9 1401.5,232.1 1401.9,232.9 1402.3,238.6 1402.7,235.7 1403.1,232.4 1403.5,233.4 1403.9,234.9 1404.3,233.9 1404.7,233.0 1405.1,232.7"/>
<polyline points="223.5,415.1 223.9,413.9 224.3,414.1 224.7,410.3 225.1,417.7 225.5,416.4 225.9,413.7 226.3,415.6 226.7,414.7 227.1,413.1 227.5,415.9 227.9,414.0 228.3,413.9 228.7,413.3 229.1,415.6 229.5,414.5 229.9,415.6 230.3,413.7 230.7,414.8 231.1,413.0 231.5,416.0 231.9,414.8 232.3,414.9 232.7,415.3 233.1,413.0 233.5,416.1 233.9,418.5 234.3,412.0 234.7,412.0 235.1,412.4 235.5,416.4 235.9,415.1 236.3,416.6 236.7,415.9 237.1,415.0 237.5,415.1 237.9,414.3 238.3,416.1 238.7,412.8 239.1,414.0 239.5,415.2 239.9,418.1 240.3,413.7 240.7,413.2 241.1,414.0 241.5,416.9 241.9,414.8 242.3,417.7 242.7,412.0 243.1,417.3 243.5,417.2 243.9,413.0 244.3,415.8 244.7,417.5 245.1,415.5 245.5,417.0 245.9,419.4 246.3,415.6 246.7,414.5 247.1,413.4 247.5,415.9 247.9,414.4 248.3,414.5 248.7,414.7 249.1,416.0 249.5,413.0 249.9,412.3 250.3,410.8 250.7,417.2 251.1,415.2 251.5,417.7 251.9,415.2 252.3,414.0 252.7,416.3 253.1,415.5 253.5,413.4 253.9,414.1 254.3,419.0 254.7,416.5 255.1,416.5 255.5,415.3 255.9,414.4 256.3,417.0 256.7,415.3 257.1,414.2 257.5,415.2 257.9,413.9 258.3,415.9 258.7,417.4 259.1,414.1 259.5,418.0 259.9,414.2 260.3,415.6 260.7,414.0 261.1,415.0 261.5,415.4 261.9,414.7 262.3,414.1 262.7,414.2 263.1,414.0 263.5,412.5 263.9,414.8 264.3,416.0 264.7,416.9 265.1,416.6 265.5,419.8 265.9,416.2 266.3,415.0 266.7,419.3 267.1,414.0 267.5,417.6 267.9,414.2 268.3,416.3 268.7,412.3 269.1,417.3 269.5,415.5 269.9,414.0 270.3,418.5 270.7,416.9 271.1,415.7 271.5,414.5 271.9,415.6 272.3,415.4 272.7,416.8 273.1,417.1 273.5,414.7 273.9,414.9 274.3,414.9 274.7,413.4 275.1,414.9 275.5,415.9 275.9,417.3 276.3,418.3 276.7,414.6 277.1,416.9 277.5,415.2 277.9,419.7 278.3,416.1 278.7,417.0 279.1,414.4 279.5,414.7 279.9,416.4 280.3,415.5 280.7,417.0 281.1,413.7 281.5,417.6 281.9,414.7 282.3,419.4 282.7,415.9 283.1,418.3 283.5,413.9 283.9,417.2 284.3,414.8 284.7,415.6 285.1,416.6 285.5,416.1 285.9,417.2 286.3,418.3 286.7,418.3 287.1,417.1 287.5,414.9 287.9,415.9 288.3,417.2 288.7,413.9 289.1,419.0 289.5,417.3 289.9,417.3 290.3,419.4 290.7,419.1 291.1,418.3 291.5,416.2 291.9,418.5 292.3,418.5 292.7,416.3 293.1,419.6 293.5,418.7 293.9,414.4 294.3,418.3 294.7,416.0 295.1,420.3 295.5,419.7 295.9,416.5 296.3,417.0 296.7,418.7 297.1,418.1 297.5,421.1 297.9,419.6 298.3,417.8 298.7,419.4 299.1,414.7 299.5,418.8 299.9,419.7 300.3,418.1 300.7,417.2 301.1,419.6 301.5,422.0 301.9,419.1 302.3,416.9 302.7,421.7 303.1,416.0 303.5,420.0 303.9,418.2 304.3,420.8 304.7,417.9 305.1,421.5 305.5,419.7 305.9,416.0 306.3,415.6 306.7,418.8 307.1,421.6 307.5,419.6 307.9,419.5 308.3,419.3 308.7,421.0 309.1,420.5 309.5,420.3 309.9,418.1 310.3,421.7 310.7,422.2 311.1,417.6 311.5,423.8 311.9,421.1 312.3,418.9 312.7,416.5 313.1,421.0 313.5,420.8 313.9,418.6 314.3,416.6 314.7,421.6 315.1,418.6 315.5,418.9 315.9,424.8 316.3,423.5 316.7,421.6 317.1,419.3 317.5,421.3 317.9,416.5 318.3,420.7 318.7,419.4 319.1,418.5 319.5,418.1 319.9,421.7 320.3,420.8 320.7,420.8 321.1,421.9 321.5,419.0 321.9,418.3 322.3,417.4 322.7,420.0 323.1,422.3 323.5,420.8 323.9,422.2 324.3,419.2 324.7,420.5 325.1,420.0 325.5,419.3 325.9,424.7 326.3,422.9 326.7,420.1 327.1,420.2 327.5,421.4 327.9,419.0 328.3,422.3 328.7,419.3 329.1,421.0 329.5,420.0 329.9,421.1 330.3,419.7 330.7,419.2 331.1,420.4 331.5,421.0 331.9,421.8 332.3,422.3 332.7,424.8 333.1,423.6 333.5,421.8 333.9,423.7 334.3,421.2 334.7,424.9 335.1,423.4 335.5,420.1 335.9,423.9 336.3,424.1 336.7,417.8 337.1,421.3 337.5,421.9 337.9,419.5 338.3,421.1 338.7,421.5 339.1,424.0 339.5,423.5 339.9,427.8 340.3,422.5 340.7,425.2 341.1,423.2 341.5,423.5 341.9,421.1 342.3,419.8 342.7,421.9 343.1,424.5 343.5,426.0 343.9,424.3 344.3,424.1 344.7,421.9 345.1,426.0 345.5,425.7 345.9,422.3 346.3,423.2 346.7,421.6 347.1,425.9 347.5,424.1 347.9,423.2 348.3,424.2 348.7,424.4 349.1,422.9 349.5,421.6 349.9,421.4 350.3,420.6 350.7,424.4 351.1,427.5 351.5,420.7 351.9,423.8 352.3,424.3 352.7,421.9 353.1,423.9 353.5,421.8 353.9,426.0 354.3,422.8 354.7,424.0 355.1,425.0 355.5,423.2 355.9,420.9 356.3,423.2 356.7,425.2 357.1,423.6 357.5,424.4 357.9,422.2 358.3,424.4 358.7,425.4 359.1,424.1 359.5,427.4 359.9,423.7 360.3,422.3 360.7,421.2 361.1,426.1 361.5,423.9 361.9,426.0 362.3,425.2 362.7,427.1 363.1,426.6 363.5,423.9 363.9,425.1 364.3,426.5 364.7,422.3 365.1,426.9 365.5,426.4 365.9,426.2 366.3,424.4 366.7,425.2 367.1,422.7 367.5,424.7 367.9,423.7 368.3,424.7 368.7,423.9 369.1,425.2 369.5,426.5 369.9,422.3 370.3,426.1 370.7,421.0 371.1,420.9 371.5,424.6 371.9,424.7 372.3,425.6 372.7,422.0 373.1,424.8 373.5,425.4 373.9,427.3 374.3,424.9 374.7,426.0 375.1,423.5 375.5,424.8 375.9,424.4 376.3,426.3 376.7,423.1 377.1,423.5 377.5,425.9 377.9,428.1 378.3,425.7 378.7,425.6 379.1,424.5 379.5,427.0 379.9,426.2 380.3,428.3 380.7,425.9 381.1,423.5 381.5,423.9 381.9,423.1 382.3,422.6 382.7,427.0 383.1,426.1 383.5,422.5 383.9,427.9 384.3,425.3 384.7,423.5 385.1,426.0 385.5,425.4 385.9,424.3 386.3,422.4 386.7,426.0 387.1,426.4 387.5,421.4 387.9,426.9 388.3,427.1 388.7,425.1 389.1,426.1 389.5,425.4 389.9,424.4 390.3,425.2 390.7,428.2 391.1,423.3 391.5,426.3 391.9,426.3 392.3,424.9 392.7,425.4 393.1,423.7 393.5,424.6 393.9,426.3 394.3,427.0 394.7,424.8 395.1,431.7 395.5,425.2 395.9,426.5 396.3,425.9 396.7,425.7 397.1,428.8 397.5,425.5 397.9,428.7 398.3,428.1 398.7,424.4 399.1,428.0 399.5,425.1 399.9,431.1 400.3,425.6 400.7,424.7 401.1,423.1 401.5,424.5 401.9,425.9 402.3,425.3 402.7,425.0 403.1,426.0 403.5,426.7 403.9,429.6 404.3,424.0 404.7,425.9 405.1,425.1 405.5,424.2 405.9,424.5 406.3,424.9 406.7,427.8 407.1,426.4 407.5,425.9 407.9,427.9 408.3,427.5 408.7,426.5 409.1,427.7 409.5,425.8 409.9,428.4 410.3,427.9 410.7,426.4 411.1,424.9 411.5,429.7 411.9,427.2 412.3,432.5 412.7,425.9 413.1,428.6 413.5,426.6 413.9,427.7 414.3,428.8 414.7,425.9 415.1,427.0 415.5,427.4 415.9,427.3 416.3,428.2 416.7,428.8 417.1,428.4 417.5,427.4 417.9,426.4 418.3,425.1 418.7,425.8 419.1,426.2 419.5,428.3 419.9,426.5 420.3,425.1 420.7,428.2 421.1,425.7 421.5,425.8 421.9,426.8 422.3,428.1 422.7,423.1 423.1,425.6 423.5,427.9 423.9,427.2 424.3,426.2 424.7,426.7 425.1,430.2 425.5,426.8 425.9,428.8 426.3,428.8 426.7,426.7 427.1,428.2 427.5,426.6 427.9,426.3 428.3,425.4 428.7,429.0 429.1,426.8 429.5,426.6 429.9,425.6 430.3,430.7 430.7,428.8 431.1,427.3 431.5,426.3 431.9,424.8 432.3,427.9 432.7,427.8 433.1,424.7 433.5,429.3 433.9,428.5 434.3,425.2 434.7,425.2 435.1,424.6 435.5,424.7 435.9,423.4 436.0,420.7 436.3,426.2 436.7,425.1 437.1,427.8 437.5,428.5 437.9,426.5 438.3,427.9 438.7,428.8 439.1,429.0 439.5,427.5 439.9,426.7 440.3,427.8 440.7,426.5 441.1,426.8 441.5,424.0 441.9,427.8 442.3,425.7 442.7,426.5 443.1,427.5 443.5,428.2 443.9,430.9 444.3,427.9 444.7,425.1 445.1,427.9 445.5,426.7 445.9,428.4 446.3,426.5 446.7,426.2 447.1,426.4 447.5,425.9 447.9,423.2 448.3,424.3 448.7,424.2 449.1,425.1 449.5,422.0 449.5,421.9 449.9,424.2 450.3,425.6 450.7,428.8 451.1,427.8 451.5,427.3 451.9,430.0 452.3,430.6 452.7,427.2 453.1,428.3 453.5,425.0 453.9,427.3 454.3,426.6 454.7,427.9 455.1,427.4 455.5,427.9 455.9,428.0 456.3,429.1 456.7,428.5 457.1,427.1 457.5,425.7 457.9,430.1 458.3,430.4 458.7,427.1 459.1,428.9 459.5,425.4 459.9,425.5 460.3,427.7 460.7,430.8 461.1,426.5 461.5,426.9 461.9,431.3 462.3,425.0 462.7,429.4 463.1,429.2 463.5,428.1 463.9,428.8 464.3,433.0 464.7,426.6 465.1,428.1 465.5,428.3 465.9,427.5 466.3,426.3 466.7,431.3 467.1,428.8 467.5,425.4 467.9,427.2 468.3,429.1 468.7,429.1 469.1,425.8 469.5,428.1 469.9,428.8 470.3,429.1 470.7,429.2 471.1,425.1 471.5,431.5 471.9,428.7 472.3,431.4 472.7,433.4 473.1,428.0 473.5,425.9 473.9,429.6 474.3,427.9 474.7,427.2 475.1,426.2 475.5,431.0 475.9,427.0 476.3,425.3 476.7,427.0 477.1,425.5 477.5,427.5 477.9,426.4 478.3,425.1 478.7,426.9 479.1,424.4 479.5,424.5 479.9,422.4 480.3,417.5 480.7,413.3 481.1,410.0 481.5,408.7 481.5,408.4 481.9,409.9 482.3,413.5 482.7,417.7 483.1,421.5 483.5,422.6 483.9,424.3 484.3,425.8 484.7,425.2 485.1,426.9 485.5,427.8 485.9,427.0 486.3,426.0 486.7,425.8 487.1,430.3 487.5,428.8 487.9,425.4 488.3,425.8 488.7,430.6 489.1,429.9 489.5,427.5 489.9,429.4 490.3,424.7 490.7,427.4 491.1,428.7 491.5,424.2 491.9,426.2 492.3,429.0 492.7,429.6 493.1,426.7 493.5,428.2 493.9,430.4 494.3,427.0 494.7,425.4 495.1,427.7 495.5,427.0 495.9,430.0 496.3,427.9 496.7,426.3 497.1,431.9 497.5,426.7 497.9,428.4 498.3,428.5 498.7,428.7 499.1,427.5 499.5,428.2 499.9,427.0 500.3,424.6 500.7,426.6 501.1,426.6 501.5,426.7 501.9,427.3 502.3,426.0 502.7,429.3 503.1,429.7 503.5,423.0 503.9,426.8 504.3,425.5 504.7,422.0 505.1,426.7 505.5,424.6 505.9,424.5 506.3,423.2 506.7,423.3 507.1,420.5 507.5,415.9 507.9,412.0 508.3,408.3 508.6,407.5 508.7,407.3 509.1,409.8 509.5,413.3 509.9,417.9 510.3,421.7 510.7,423.5 511.1,426.1 511.5,429.3 511.9,422.6 512.3,426.2 512.7,425.3 513.1,425.3 513.5,423.8 513.9,426.2 514.3,425.7 514.7,424.9 515.1,425.6 515.5,425.2 515.9,422.2 516.3,428.4 516.7,426.0 517.1,425.0 517.5,427.5 517.9,425.9 518.3,423.2 518.7,428.5 519.1,423.8 519.5,426.4 519.9,427.1 520.3,429.0 520.7,428.5 521.1,426.8 521.5,425.1 521.9,425.5 522.3,428.1 522.7,429.1 523.1,426.8 523.5,424.6 523.9,427.4 524.3,424.6 524.7,424.1 525.1,424.2 525.5,425.5 525.9,424.6 526.3,425.6 526.7,426.0 527.1,424.2 527.5,418.9 527.9,420.0 528.3,423.0 528.7,422.4 529.0,426.5 529.1,422.6 529.5,422.3 529.9,424.4 530.3,424.9 530.7,422.7 531.1,424.1 531.5,421.7 531.9,422.2 532.3,426.4 532.7,422.2 533.1,426.6 533.5,426.3 533.9,426.8 534.3,427.3 534.7,426.8 535.1,422.2 535.5,424.3 535.9,425.1 536.3,427.7 536.7,424.2 537.1,425.0 537.5,425.7 537.9,428.7 538.3,424.0 538.7,424.1 539.1,427.4 539.5,422.7 539.9,427.0 540.3,425.8 540.7,423.8 541.1,425.9 541.5,424.7 541.9,426.8 542.3,427.3 542.7,429.1 543.1,426.6 543.5,426.7 543.9,425.6 544.3,426.4 544.7,428.4 545.1,423.2 545.5,427.8 545.9,425.8 546.3,426.8 546.7,427.2 547.1,428.1 547.5,427.0 547.9,425.9 548.3,427.1 548.7,426.6 549.1,426.1 549.5,426.9 549.9,428.0 550.3,426.6 550.7,426.7 551.1,424.2 551.5,426.2 551.9,423.0 552.3,427.6 552.7,424.5 553.1,428.4 553.5,431.3 553.9,425.3 554.3,428.5 554.7,426.9 555.1,425.3 555.5,424.7 555.9,427.4 556.3,428.9 556.7,427.2 557.1,424.1 557.5,424.8 557.9,426.2 558.3,429.0 558.7,427.0 559.1,427.0 559.5,428.4 559.9,425.8 560.3,425.9 560.7,425.5 561.1,422.3 561.5,425.9 561.9,425.3 562.3,425.4 562.7,420.5 563.1,420.1 563.5,422.0 563.9,420.4 564.0,422.3 564.3,418.5 564.7,421.2 565.1,420.8 565.5,423.7 565.9,423.1 566.3,425.5 566.7,426.8 567.1,426.5 567.5,422.3 567.9,427.1 568.3,426.4 568.7,423.8 569.1,424.2 569.5,425.8 569.9,426.8 570.3,424.9 570.7,422.8 571.1,426.4 571.5,425.9 571.9,429.9 572.3,423.4 572.7,430.1 573.1,428.7 573.5,426.1 573.9,428.5 574.3,425.6 574.7,427.3 575.1,424.4 575.5,425.7 575.9,423.6 576.3,422.4 576.7,424.6 577.1,423.8 577.5,425.7 577.9,426.5 578.3,423.5 578.7,423.3 579.1,423.0 579.5,419.1 579.9,421.6 580.3,420.2 580.7,418.9 581.1,416.2 581.5,413.9 581.9,416.5 582.3,417.3 582.3,418.9 582.7,418.7 583.1,419.6 583.5,418.8 583.9,420.9 584.3,419.3 584.7,421.6 585.1,423.0 585.5,426.9 585.9,423.2 586.3,421.2 586.7,426.0 587.1,422.4 587.5,423.8 587.9,423.4 588.3,422.4 588.7,426.1 589.1,424.7 589.5,422.5 589.9,423.3 590.3,422.0 590.7,422.4 591.1,419.3 591.5,415.8 591.9,411.4 592.3,406.0 592.7,400.2 593.1,395.6 593.3,395.3 593.5,396.1 593.9,401.1 594.3,406.6 594.7,409.6 595.1,415.9 595.5,419.3 595.9,422.3 596.3,425.5 596.7,425.0 597.1,420.4 597.5,424.9 597.9,424.8 598.3,425.6 598.7,427.1 599.1,422.9 599.5,426.6 599.9,421.7 600.3,424.8 600.7,425.4 601.1,428.6 601.5,423.4 601.9,421.7 602.3,425.9 602.7,423.5 603.1,427.4 603.5,423.4 603.9,423.1 604.3,427.0 604.7,425.0 605.1,426.6 605.5,422.2 605.9,427.7 606.3,423.9 606.7,426.4 607.1,423.3 607.5,422.2 607.9,424.5 608.3,425.3 608.7,427.8 609.1,425.6 609.5,426.1 609.9,426.1 610.3,430.2 610.7,423.5 611.1,427.0 611.5,424.6 611.9,425.2 612.3,423.7 612.7,426.8 613.1,422.6 613.5,422.6 613.9,424.5 614.3,422.8 614.7,426.1 615.1,426.6 615.5,423.7 615.9,426.4 616.3,423.7 616.7,424.9 617.1,425.0 617.5,428.1 617.9,424.8 618.3,423.1 618.7,423.2 619.1,426.8 619.5,421.8 619.9,423.5 620.3,423.6 620.7,420.0 621.1,423.5 621.5,425.8 621.9,424.4 622.3,422.2 622.7,424.7 623.1,424.4 623.5,426.7 623.9,421.3 624.3,421.3 624.7,421.7 625.1,420.8 625.5,420.5 625.9,419.6 626.3,417.9 626.7,416.0 627.0,417.7 627.1,416.3 627.5,416.7 627.9,417.9 628.3,420.2 628.7,421.4 629.1,418.6 629.5,421.3 629.9,422.2 630.3,420.8 630.7,418.0 631.1,416.7 631.5,421.3 631.9,420.8 632.3,419.0 632.7,415.8 633.1,419.6 633.5,418.5 633.9,416.1 634.0,415.8 634.3,412.7 634.7,417.7 635.1,414.2 635.5,419.2 635.9,420.1 636.3,420.0 636.7,423.4 637.1,420.8 637.5,423.3 637.9,424.2 638.3,423.8 638.7,422.8 639.1,425.9 639.5,424.7 639.9,423.9 640.3,424.1 640.7,424.5 641.1,428.3 641.5,424.3 641.9,423.8 642.3,422.4 642.7,422.1 643.1,420.8 643.5,424.3 643.9,423.8 644.3,421.9 644.7,420.9 645.1,422.7 645.5,422.2 645.9,420.5 646.3,422.1 646.7,420.7 647.1,418.3 647.5,416.0 647.9,410.9 648.3,407.4 648.7,401.8 649.1,400.0 649.2,399.9 649.5,400.5 649.9,404.4 650.3,408.2 650.7,412.3 651.1,416.7 651.5,418.5 651.9,421.8 652.3,422.0 652.7,423.5 653.1,423.3 653.5,423.3 653.9,423.3 654.3,422.7 654.7,422.7 655.1,427.1 655.5,420.5 655.9,423.4 656.3,425.4 656.7,424.4 657.1,426.1 657.5,424.4 657.9,421.2 658.3,422.9 658.7,421.0 659.1,424.8 659.5,425.6 659.9,422.1 660.3,423.4 660.7,421.6 661.1,419.5 661.5,420.3 661.9,417.5 662.3,417.1 662.7,414.9 663.1,410.7 663.5,404.7 663.9,396.3 664.3,389.7 664.7,385.9 664.8,385.8 665.1,386.0 665.5,392.4 665.9,400.5 666.3,406.1 666.7,412.7 667.1,417.3 667.5,416.4 667.9,420.1 668.3,421.7 668.7,422.1 669.1,419.8 669.5,422.5 669.9,421.1 670.3,422.8 670.7,421.7 671.1,419.8 671.5,419.8 671.9,417.8 672.3,416.7 672.7,414.8 673.1,414.1 673.5,413.0 673.9,411.0 674.3,409.6 674.7,408.3 675.1,407.8 675.2,408.2 675.5,407.6 675.9,409.8 676.3,410.2 676.7,412.9 677.1,414.2 677.5,415.0 677.9,417.4 678.3,418.5 678.7,419.9 679.1,421.2 679.5,420.4 679.9,421.0 680.3,421.7 680.7,420.7 681.1,422.5 681.5,423.5 681.9,423.7 682.3,423.7 682.7,422.7 683.1,424.5 683.5,419.6 683.9,422.3 684.3,422.3 684.7,424.1 685.1,423.5 685.5,423.5 685.9,421.6 686.3,422.8 686.7,418.6 687.1,419.6 687.5,414.9 687.9,420.8 688.3,419.9 688.7,415.5 689.1,415.0 689.2,412.7 689.5,413.7 689.9,417.1 690.3,417.2 690.7,415.6 691.1,418.3 691.5,418.9 691.9,421.4 692.3,422.5 692.7,421.6 693.1,422.7 693.5,422.9 693.9,419.7 694.3,423.8 694.7,423.4 695.1,425.0 695.5,420.6 695.9,425.1 696.3,422.7 696.7,424.2 697.1,425.9 697.5,421.2 697.9,421.5 698.3,425.5 698.7,421.9 699.1,422.4 699.5,425.2 699.9,423.8 700.3,425.5 700.7,424.6 701.1,424.1 701.5,425.9 701.9,428.0 702.3,423.9 702.7,426.6 703.1,426.1 703.5,424.4 703.9,425.0 704.3,422.7 704.7,423.1 705.1,424.6 705.5,424.2 705.9,426.5 706.3,422.0 706.7,423.6 707.1,423.1 707.5,424.0 707.9,426.3 708.3,422.3 708.7,425.7 709.1,423.3 709.5,423.8 709.9,426.2 710.3,424.0 710.7,425.6 711.1,424.6 711.5,424.2 711.9,423.6 712.3,421.2 712.7,422.8 713.1,424.3 713.5,424.2 713.9,421.1 714.3,425.3 714.7,424.2 715.1,420.8 715.5,420.9 715.9,423.4 716.3,419.1 716.7,420.5 717.1,421.3 717.5,420.8 717.9,420.7 718.3,421.2 718.7,419.0 719.1,419.3 719.3,423.8 719.5,417.8 719.9,419.9 720.3,421.1 720.7,420.0 721.1,423.6 721.5,422.0 721.9,423.6 722.3,418.1 722.7,425.0 723.1,425.1 723.5,422.1 723.9,425.9 724.3,424.3 724.7,425.6 725.1,427.3 725.5,424.3 725.9,422.5 726.3,424.3 726.7,422.1 727.1,423.0 727.5,423.1 727.9,423.2 728.3,426.5 728.7,425.9 729.1,422.9 729.5,426.5 729.9,421.7 730.3,423.5 730.7,424.5 731.1,426.9 731.5,426.0 731.9,425.4 732.3,426.8 732.7,425.7 733.1,426.7 733.5,422.9 733.9,421.1 734.3,423.3 734.7,425.6 735.1,424.7 735.5,425.9 735.9,425.6 736.3,425.5 736.7,425.9 737.1,423.3 737.5,426.4 737.9,422.8 738.3,424.4 738.7,422.2 739.1,425.4 739.5,421.7 739.9,427.1 740.3,422.3 740.7,425.2 741.1,424.5 741.5,423.2 741.9,426.8 742.3,424.1 742.7,427.3 743.1,422.8 743.5,423.2 743.9,421.1 744.3,425.5 744.7,426.0 745.1,424.8 745.5,424.2 745.9,423.0 746.3,428.8 746.7,426.3 747.1,421.8 747.5,424.4 747.9,420.5 748.3,427.8 748.7,428.3 749.1,427.4 749.5,424.6 749.9,423.4 750.3,422.1 750.7,425.5 751.1,423.2 751.5,424.0 751.9,423.8 752.3,424.2 752.7,426.3 753.1,427.7 753.5,425.0 753.9,424.8 754.3,423.0 754.7,422.6 755.1,422.7 755.5,426.4 755.9,425.2 756.3,426.6 756.7,425.6 757.1,424.1 757.5,422.5 757.9,424.2 758.3,422.4 758.7,428.3 759.1,425.5 759.5,424.2 759.9,428.5 760.3,424.3 760.7,426.1 761.1,424.8 761.5,425.6 761.9,424.5 762.3,425.9 762.7,427.5 763.1,422.7 763.5,421.1 763.9,427.4 764.3,425.3 764.7,426.7 765.1,424.6 765.5,427.9 765.9,428.5 766.3,423.3 766.7,426.5 767.1,424.2 767.5,422.4 767.9,424.6 768.3,426.0 768.7,422.7 769.1,422.8 769.5,427.2 769.9,425.0 770.3,425.6 770.7,423.0 771.1,423.7 771.5,425.2 771.9,425.3 772.3,425.3 772.7,427.6 773.1,425.1 773.5,422.1 773.9,423.2 774.3,424.6 774.7,426.9 775.1,423.3 775.5,423.6 775.9,424.1 776.3,422.5 776.7,421.4 777.1,421.6 777.5,423.3 777.5,422.3 777.9,421.3 778.3,423.6 778.7,421.4 779.1,426.0 779.5,425.8 779.9,425.0 780.3,421.7 780.7,428.4 781.1,419.6 781.5,422.9 781.9,423.0 782.3,425.7 782.7,421.8 783.1,424.8 783.5,424.0 783.9,423.6 784.3,425.6 784.7,426.4 785.1,424.1 785.5,422.3 785.9,418.1 786.3,423.4 786.7,419.1 787.1,415.2 787.4,418.6 787.5,420.8 787.9,418.8 788.3,418.0 788.7,425.1 789.1,423.2 789.5,423.3 789.9,424.9 790.3,419.4 790.7,423.3 791.1,423.1 791.5,427.7 791.9,422.7 792.3,422.7 792.7,421.2 793.1,422.1 793.5,422.8 793.9,422.9 794.3,421.2 794.7,422.2 795.1,417.0 795.5,412.1 795.9,405.9 796.3,398.2 796.7,392.5 796.9,391.4 797.1,392.8 797.5,397.5 797.9,405.8 798.3,410.7 798.7,413.7 799.1,419.2 799.5,422.4 799.9,421.4 800.3,422.5 800.7,422.8 801.1,425.8 801.5,423.5 801.9,423.1 802.3,422.0 802.7,420.2 803.1,425.7 803.5,425.1 803.9,421.1 804.3,423.8 804.7,423.1 805.1,421.6 805.5,421.5 805.9,423.0 806.3,419.1 806.7,419.9 807.1,420.4 807.5,419.9 807.9,418.8 808.3,418.7 808.7,418.2 809.1,414.4 809.5,414.4 809.9,411.1 810.3,411.6 810.7,402.7 811.1,399.5 811.5,392.5 811.9,374.7 812.3,341.6 812.7,288.2 813.0,263.6 813.1,265.4 813.5,309.1 813.9,344.5 814.3,350.4 814.7,338.0 815.0,331.4 815.1,334.3 815.5,360.8 815.9,383.5 816.3,394.4 816.7,403.2 817.1,404.1 817.5,408.7 817.9,415.4 818.3,414.5 818.7,418.7 819.1,417.2 819.5,418.6 819.9,417.5 820.3,422.2 820.7,420.7 821.1,422.8 821.5,422.8 821.9,423.4 822.3,423.3 822.7,422.8 823.1,423.2 823.5,422.0 823.9,419.7 824.3,424.4 824.7,427.4 825.1,425.7 825.5,428.0 825.9,424.8 826.3,422.3 826.7,422.3 827.1,425.5 827.5,424.9 827.9,424.1 828.3,425.9 828.7,423.2 829.1,425.8 829.5,424.5 829.9,425.4 830.3,427.1 830.7,424.8 831.1,427.5 831.5,427.5 831.9,423.6 832.3,429.0 832.7,422.6 833.1,424.5 833.5,426.0 833.9,420.8 834.3,426.6 834.7,426.8 835.1,424.6 835.5,425.3 835.9,425.3 836.3,424.7 836.7,427.1 837.1,424.6 837.5,425.2 837.9,425.9 838.3,426.8 838.7,427.3 839.1,422.8 839.5,421.7 839.9,424.9 840.3,425.1 840.7,423.3 841.1,425.8 841.5,426.3 841.9,425.7 842.3,428.0 842.7,423.5 843.1,425.3 843.5,428.7 843.9,426.4 844.3,423.3 844.7,425.8 845.1,427.8 845.5,429.4 845.9,426.9 846.3,427.8 846.7,423.5 847.1,425.1 847.5,427.8 847.9,423.9 848.3,425.5 848.7,422.3 849.1,428.1 849.5,425.3 849.9,426.7 850.3,422.9 850.7,423.3 851.1,428.8 851.5,424.9 851.9,424.6 852.3,426.4 852.7,426.4 853.1,422.0 853.5,423.9 853.9,425.7 854.3,425.7 854.7,426.3 855.1,424.9 855.5,425.3 855.9,426.2 856.3,424.4 856.7,424.2 857.1,424.6 857.5,425.5 857.9,425.4 858.3,424.7 858.7,425.0 859.1,425.5 859.5,426.3 859.9,426.3 860.3,423.4 860.7,427.4 861.1,422.6 861.5,426.4 861.9,424.3 862.3,426.5 862.7,427.3 863.1,422.2 863.5,426.6 863.9,426.1 864.3,425.0 864.7,426.7 865.1,425.1 865.5,426.1 865.9,424.2 866.3,427.3 866.7,426.8 867.1,427.1 867.5,424.6 867.9,429.0 868.3,429.2 868.7,425.5 869.1,424.8 869.5,424.8 869.9,427.0 870.3,427.5 870.7,424.3 871.1,422.0 871.5,426.4 871.9,425.5 872.3,426.1 872.7,426.8 873.1,423.6 873.5,425.7 873.9,425.1 874.3,426.4 874.7,427.8 875.1,425.8 875.5,424.1 875.9,427.9 876.3,427.1 876.7,425.6 877.1,422.6 877.5,424.2 877.9,426.0 878.3,426.6 878.7,424.8 879.1,426.5 879.5,424.6 879.9,424.8 880.3,426.6 880.7,425.3 881.1,426.0 881.5,427.4 881.9,427.7 882.3,424.6 882.7,425.3 883.1,423.5 883.5,423.6 883.9,426.4 884.3,424.9 884.7,422.5 885.1,426.7 885.5,424.5 885.9,425.2 886.3,426.6 886.7,426.4 887.1,425.6 887.5,422.1 887.9,426.8 888.3,424.7 888.7,423.2 889.1,421.8 889.5,428.1 889.9,426.0 890.3,426.1 890.7,427.1 891.1,425.9 891.5,423.4 891.9,427.1 892.3,427.7 892.7,426.9 893.1,428.8 893.5,429.3 893.9,424.5 894.3,425.1 894.7,427.6 895.1,426.5 895.5,426.7 895.9,428.0 896.3,427.7 896.7,425.6 897.1,426.5 897.5,425.0 897.9,425.8 898.3,424.0 898.7,422.3 899.1,424.6 899.5,424.3 899.9,426.9 900.3,428.2 900.7,425.5 901.1,426.4 901.5,424.5 901.9,424.3 902.3,425.7 902.7,425.8 903.1,426.7 903.5,426.4 903.9,429.1 904.3,425.9 904.7,423.3 905.1,426.2 905.5,424.8 905.9,426.4 906.3,428.1 906.7,425.0 907.1,425.9 907.5,426.8 907.9,424.3 908.3,426.4 908.7,426.9 909.1,427.2 909.5,427.6 909.9,426.7 910.3,426.4 910.7,423.4 911.1,421.0 911.5,423.9 911.9,428.0 912.3,425.7 912.7,421.6 913.1,424.8 913.5,426.2 913.9,422.2 914.3,426.3 914.7,423.2 915.1,426.9 915.5,424.8 915.9,429.4 916.3,420.3 916.7,421.3 917.1,416.1 917.5,419.1 917.7,417.2 917.9,418.8 918.3,419.0 918.7,418.6 919.1,421.3 919.5,421.5 919.9,422.4 920.3,424.7 920.7,426.3 921.1,425.9 921.5,425.1 921.9,423.0 922.3,424.0 922.7,421.2 923.1,421.0 923.5,419.1 923.9,415.3 924.3,411.6 924.7,408.2 925.1,406.2 925.3,405.5 925.5,405.2 925.9,407.4 926.3,409.8 926.7,413.9 927.1,414.5 927.5,413.5 927.9,414.9 928.3,414.3 928.7,412.9 929.0,411.5 929.1,412.4 929.5,414.1 929.9,417.4 930.3,418.7 930.7,424.1 931.1,421.4 931.5,425.7 931.9,424.0 932.3,421.4 932.7,422.6 933.1,421.7 933.5,421.9 933.9,427.1 934.3,423.9 934.7,426.2 935.1,423.8 935.5,425.3 935.9,423.5 936.3,426.9 936.7,425.0 937.1,424.7 937.5,425.2 937.9,429.1 938.3,425.9 938.7,426.8 939.1,423.4 939.5,424.6 939.9,426.1 940.3,422.4 940.7,428.0 941.1,426.5 941.5,426.0 941.9,425.7 942.3,425.4 942.7,424.9 943.1,428.2 943.5,426.9 943.9,427.9 944.3,425.0 944.7,424.1 945.1,427.9 945.5,423.5 945.9,424.5 946.3,426.8 946.7,427.5 947.1,423.3 947.5,425.0 947.9,425.4 948.3,425.1 948.7,423.9 949.1,426.5 949.5,424.6 949.9,425.1 950.3,421.7 950.7,425.6 951.1,422.5 951.5,427.2 951.9,426.7 952.3,425.0 952.7,426.1 953.1,426.0 953.5,425.5 953.9,426.4 954.3,425.7 954.7,425.0 955.1,424.5 955.5,428.8 955.9,426.3 956.3,426.0 956.7,427.4 957.1,425.6 957.5,425.5 957.9,427.3 958.3,427.9 958.7,427.3 959.1,423.4 959.5,426.1 959.9,425.8 960.3,426.5 960.7,424.1 961.1,423.8 961.5,425.5 961.9,424.1 962.3,423.9 962.7,425.5 963.1,427.3 963.5,425.9 963.9,427.6 964.3,424.0 964.7,426.8 965.1,425.7 965.5,424.2 965.9,425.1 966.3,424.5 966.7,425.7 967.1,424.8 967.5,428.3 967.9,425.5 968.3,423.8 968.7,425.8 969.1,426.7 969.5,425.3 969.9,427.3 970.3,424.4 970.7,424.5 971.1,428.6 971.5,425.7 971.9,426.7 972.3,426.6 972.7,426.7 973.1,425.8 973.5,425.2 973.9,427.3 974.3,424.8 974.7,425.8 975.1,426.7 975.5,425.0 975.9,422.9 976.3,426.4 976.7,427.3 977.1,426.0 977.5,422.5 977.9,426.5 978.3,428.7 978.7,422.5 979.1,420.6 979.5,424.8 979.9,425.6 980.3,426.7 980.7,426.8 981.1,425.5 981.5,426.2 981.9,426.1 982.3,425.9 982.7,425.5 983.1,425.1 983.5,426.7 983.9,426.4 984.3,424.9 984.7,427.6 985.1,424.4 985.5,425.2 985.9,425.8 986.3,422.4 986.7,424.9 987.1,427.0 987.5,426.9 987.9,423.5 988.3,424.0 988.7,423.5 989.1,425.1 989.5,425.4 989.9,422.8 990.3,426.0 990.7,425.6 991.1,425.3 991.5,424.4 991.9,425.1 992.3,422.2 992.7,425.5 993.1,425.5 993.5,425.0 993.9,423.2 994.3,427.3 994.7,427.0 995.1,422.0 995.5,426.0 995.9,425.6 996.3,421.2 996.7,426.3 997.1,426.6 997.5,426.8 997.9,425.8 998.3,424.3 998.7,424.5 999.1,426.4 999.5,427.4 999.9,424.8 1000.3,425.1 1000.7,426.7 1001.1,422.0 1001.5,426.5 1001.9,425.4 1002.3,422.0 1002.7,427.0 1003.1,424.1 1003.5,427.0 1003.9,427.9 1004.3,423.5 1004.7,423.5 1005.1,425.4 1005.5,422.3 1005.9,426.6 1006.3,425.7 1006.7,427.2 1007.1,422.6 1007.5,426.0 1007.9,426.6 1008.3,422.8 1008.7,427.5 1009.1,423.5 1009.5,426.2 1009.9,423.5 1010.3,427.0 1010.7,428.5 1011.1,425.7 1011.5,425.7 1011.9,427.8 1012.3,424.9 1012.7,425.7 1013.1,427.2 1013.5,426.4 1013.9,428.3 1014.3,427.6 1014.7,428.8 1015.1,425.5 1015.5,427.4 1015.9,423.9 1016.3,426.8 1016.7,428.4 1017.1,429.3 1017.5,423.2 1017.9,425.1 1018.3,426.7 1018.7,423.9 1019.1,426.4 1019.5,426.4 1019.9,424.6 1020.3,424.5 1020.7,423.9 1021.1,425.9 1021.5,427.5 1021.9,426.0 1022.3,430.2 1022.7,422.9 1023.1,424.5 1023.5,426.7 1023.9,423.5 1024.3,426.0 1024.7,426.8 1025.1,425.6 1025.5,424.9 1025.9,426.8 1026.3,425.7 1026.7,426.2 1027.1,425.8 1027.5,423.7 1027.9,422.9 1028.3,424.2 1028.7,425.1 1029.1,424.5 1029.5,426.6 1029.9,425.3 1030.3,426.7 1030.7,425.2 1031.1,423.8 1031.5,426.5 1031.9,426.0 1032.3,423.7 1032.7,424.4 1033.1,429.9 1033.5,419.3 1033.9,427.2 1034.3,425.4 1034.7,425.1 1035.1,424.8 1035.5,424.3 1035.9,429.4 1036.3,424.7 1036.7,424.9 1037.1,426.7 1037.5,426.0 1037.9,425.2 1038.3,424.9 1038.7,423.2 1039.1,427.3 1039.5,423.5 1039.9,421.1 1040.3,427.1 1040.7,426.5 1041.1,425.7 1041.5,424.3 1041.9,427.3 1042.3,423.3 1042.7,421.4 1043.1,425.5 1043.5,426.5 1043.9,426.1 1044.3,428.5 1044.7,426.3 1045.1,424.5 1045.5,424.6 1045.9,426.3 1046.3,424.8 1046.7,424.6 1047.1,421.9 1047.5,424.6 1047.9,422.9 1048.3,425.4 1048.7,425.3 1049.1,426.5 1049.5,428.3 1049.9,425.1 1050.3,427.8 1050.7,423.2 1051.1,425.4 1051.5,426.9 1051.9,428.5 1052.3,423.2 1052.7,424.5 1053.1,425.0 1053.5,424.5 1053.9,423.0 1054.3,421.8 1054.7,422.5 1055.1,424.5 1055.5,422.2 1055.9,427.8 1056.3,426.9 1056.7,421.4 1057.1,423.8 1057.5,427.1 1057.9,427.3 1058.3,426.6 1058.7,422.2 1059.1,424.1 1059.5,426.9 1059.9,425.0 1060.3,424.2 1060.7,425.9 1061.1,426.8 1061.5,425.2 1061.9,425.3 1062.3,426.6 1062.7,423.8 1063.1,423.2 1063.5,426.0 1063.9,422.5 1064.3,425.7 1064.7,423.6 1065.1,426.5 1065.5,423.0 1065.9,427.0 1066.3,425.4 1066.7,424.3 1067.1,423.4 1067.5,424.4 1067.9,423.3 1068.3,422.6 1068.7,426.7 1069.1,425.9 1069.5,427.1 1069.9,422.5 1070.3,421.4 1070.7,422.0 1071.1,425.7 1071.5,426.1 1071.9,421.3 1072.3,426.4 1072.7,423.7 1073.1,422.4 1073.5,424.2 1073.9,425.3 1074.3,423.7 1074.7,423.6 1075.1,422.5 1075.5,421.6 1075.9,423.4 1076.3,421.1 1076.7,424.9 1077.1,422.4 1077.5,426.3 1077.9,421.3 1078.3,426.3 1078.7,422.0 1079.1,421.9 1079.5,424.1 1079.9,425.2 1080.3,423.5 1080.7,422.8 1081.1,427.1 1081.5,424.4 1081.9,421.3 1082.3,422.8 1082.7,425.9 1083.1,423.4 1083.5,424.2 1083.9,426.3 1084.3,421.6 1084.7,423.2 1085.1,421.4 1085.5,422.6 1085.9,423.6 1086.3,420.2 1086.7,422.8 1087.1,422.6 1087.5,424.1 1087.9,421.3 1088.3,420.1 1088.7,423.1 1089.0,420.4 1089.1,422.7 1089.5,423.4 1089.9,421.1 1090.3,422.4 1090.7,420.7 1091.1,417.7 1091.5,420.2 1091.9,419.2 1092.3,423.0 1092.7,421.1 1093.1,422.8 1093.5,423.1 1093.9,425.1 1094.3,422.7 1094.7,422.7 1095.1,424.5 1095.5,426.6 1095.9,423.8 1096.3,424.5 1096.7,423.6 1097.1,422.8 1097.5,421.3 1097.9,424.0 1098.3,423.8 1098.7,423.8 1099.1,427.8 1099.5,423.8 1099.9,425.1 1100.3,424.0 1100.7,426.9 1101.1,424.2 1101.5,428.1 1101.9,424.3 1102.3,426.2 1102.7,426.7 1103.1,424.5 1103.5,426.4 1103.9,424.9 1104.3,423.5 1104.7,423.6 1105.1,425.4 1105.5,427.8 1105.9,423.8 1106.3,425.7 1106.7,423.3 1107.1,425.2 1107.5,422.5 1107.9,423.3 1108.3,424.7 1108.7,423.5 1109.1,424.2 1109.5,426.4 1109.9,424.4 1110.3,423.5 1110.7,422.6 1111.1,423.9 1111.5,426.9 1111.9,424.5 1112.3,424.8 1112.7,426.3 1113.1,426.5 1113.5,426.8 1113.9,424.5 1114.3,423.5 1114.7,422.1 1115.1,424.0 1115.5,424.3 1115.9,426.3 1116.3,425.6 1116.7,424.1 1117.1,426.8 1117.5,423.1 1117.9,423.7 1118.3,423.5 1118.7,423.6 1119.1,425.3 1119.5,424.3 1119.9,424.4 1120.3,428.0 1120.7,422.9 1121.1,423.7 1121.5,425.1 1121.9,426.4 1122.3,426.3 1122.7,424.8 1123.1,424.7 1123.5,424.8 1123.9,426.7 1124.3,423.6 1124.7,421.2 1125.1,425.8 1125.5,423.3 1125.9,425.3 1126.3,427.8 1126.7,425.5 1127.1,428.7 1127.5,422.5 1127.9,425.6 1128.3,425.5 1128.7,426.5 1129.1,423.7 1129.5,425.3 1129.9,425.2 1130.3,425.0 1130.7,422.9 1131.1,422.1 1131.5,426.1 1131.9,425.7 1132.3,425.2 1132.7,426.4 1133.1,427.2 1133.5,423.2 1133.9,426.5 1134.3,427.8 1134.7,427.0 1135.1,426.3 1135.5,426.5 1135.9,422.6 1136.3,424.3 1136.7,427.0 1137.1,427.8 1137.5,426.1 1137.9,424.4 1138.3,425.0 1138.7,426.7 1139.1,428.9 1139.5,426.6 1139.9,424.3 1140.3,426.1 1140.7,425.7 1141.1,429.1 1141.5,425.6 1141.9,424.3 1142.3,423.7 1142.7,421.4 1143.1,421.5 1143.5,422.3 1143.9,421.3 1144.3,422.7 1144.7,422.3 1145.1,423.5 1145.5,424.1 1145.9,421.3 1146.3,420.4 1146.7,417.2 1147.1,420.8 1147.5,421.0 1147.9,418.1 1148.3,418.8 1148.7,418.2 1149.0,421.1 1149.1,420.2 1149.5,421.3 1149.9,417.3 1150.3,424.2 1150.7,418.3 1151.1,418.3 1151.5,420.8 1151.9,420.0 1152.3,424.2 1152.7,420.5 1153.1,419.9 1153.5,421.6 1153.9,420.2 1154.3,415.2 1154.7,411.2 1155.1,406.6 1155.5,404.5 1155.5,405.2 1155.9,407.5 1156.3,412.3 1156.7,416.8 1157.1,418.0 1157.5,419.5 1157.9,417.4 1158.3,415.3 1158.5,419.4 1158.7,414.0 1159.1,418.8 1159.5,419.9 1159.9,419.9 1160.3,423.3 1160.7,424.9 1161.1,426.1 1161.5,424.1 1161.9,427.1 1162.3,426.3 1162.7,427.4 1163.1,422.6 1163.5,425.4 1163.9,425.0 1164.3,427.2 1164.7,424.8 1165.1,425.1 1165.5,423.9 1165.9,423.7 1166.3,424.2 1166.7,427.4 1167.1,424.1 1167.5,421.7 1167.9,426.5 1168.3,425.3 1168.7,427.2 1169.1,427.2 1169.5,425.8 1169.9,425.5 1170.3,425.3 1170.7,426.3 1171.1,425.0 1171.5,426.9 1171.9,429.0 1172.3,425.3 1172.7,425.3 1173.1,425.5 1173.5,427.5 1173.9,427.5 1174.3,428.7 1174.7,427.4 1175.1,426.4 1175.5,427.0 1175.9,424.0 1176.3,427.1 1176.7,426.6 1177.1,429.9 1177.5,428.7 1177.9,424.9 1178.3,425.5 1178.7,428.2 1179.1,423.1 1179.5,425.2 1179.9,427.5 1180.3,428.0 1180.7,427.2 1181.1,428.9 1181.5,426.2 1181.9,426.8 1182.3,426.3 1182.7,424.7 1183.1,426.7 1183.5,425.6 1183.9,426.8 1184.3,422.2 1184.7,427.1 1185.1,425.9 1185.5,425.7 1185.9,426.8 1186.3,425.7 1186.7,428.1 1187.1,428.6 1187.5,427.8 1187.9,428.0 1188.3,427.1 1188.7,426.6 1189.1,424.4 1189.5,426.1 1189.9,428.8 1190.3,428.1 1190.7,426.1 1191.1,427.1 1191.5,428.5 1191.9,426.4 1192.3,429.4 1192.7,425.4 1193.1,428.2 1193.5,428.1 1193.9,427.0 1194.3,427.2 1194.7,427.5 1195.1,422.6 1195.5,427.4 1195.9,428.6 1196.3,427.3 1196.7,428.5 1197.1,424.4 1197.5,426.5 1197.9,427.5 1198.3,426.5 1198.7,429.1 1199.1,427.9 1199.5,426.2 1199.9,428.5 1200.3,428.7 1200.7,426.5 1201.1,428.4 1201.5,427.9 1201.9,428.0 1202.3,425.2 1202.7,429.7 1203.1,428.5 1203.5,427.2 1203.9,427.9 1204.3,427.8 1204.7,426.6 1205.1,426.0 1205.5,427.0 1205.9,425.8 1206.3,426.0 1206.7,424.9 1207.1,426.4 1207.5,428.7 1207.9,427.4 1208.3,427.1 1208.7,426.5 1209.1,426.3 1209.5,424.4 1209.9,429.9 1210.3,425.7 1210.7,424.4 1211.1,427.8 1211.5,427.6 1211.9,426.2 1212.3,424.5 1212.7,424.8 1213.1,430.0 1213.5,427.0 1213.9,426.0 1214.3,430.4 1214.7,426.2 1215.1,425.7 1215.5,428.3 1215.9,427.8 1216.3,430.0 1216.7,424.8 1217.1,427.9 1217.5,424.4 1217.9,428.0 1218.3,426.0 1218.7,426.2 1219.1,425.8 1219.5,428.4 1219.9,429.5 1220.3,426.7 1220.7,426.5 1221.1,426.2 1221.5,428.0 1221.9,425.4 1222.3,433.5 1222.7,426.9 1223.1,430.5 1223.5,427.7 1223.9,425.1 1224.3,424.7 1224.7,426.6 1225.1,426.0 1225.5,426.7 1225.9,425.1 1226.3,431.2 1226.7,430.7 1227.1,423.6 1227.5,427.5 1227.9,428.8 1228.3,426.1 1228.7,426.5 1229.1,428.9 1229.5,427.9 1229.9,424.9 1230.3,429.4 1230.7,426.4 1231.1,430.5 1231.5,425.6 1231.9,423.2 1232.3,427.3 1232.7,429.3 1233.1,428.0 1233.5,427.2 1233.9,425.3 1234.3,428.6 1234.7,423.6 1235.1,428.3 1235.5,424.8 1235.9,425.9 1236.3,424.7 1236.7,425.5 1237.1,429.9 1237.5,425.2 1237.9,427.6 1238.3,425.8 1238.7,428.9 1239.1,424.6 1239.5,427.1 1239.9,428.5 1240.3,430.8 1240.7,424.7 1241.1,425.3 1241.5,426.8 1241.9,429.7 1242.3,425.4 1242.7,428.8 1243.1,426.3 1243.5,425.4 1243.9,424.5 1244.3,427.5 1244.7,428.9 1245.1,427.0 1245.5,423.4 1245.9,426.0 1246.3,428.4 1246.7,428.3 1247.1,427.3 1247.5,429.5 1247.9,424.5 1248.3,424.6 1248.7,431.0 1249.1,428.1 1249.5,426.5 1249.9,426.1 1250.3,422.4 1250.7,428.4 1251.1,423.3 1251.5,423.4 1251.9,426.7 1252.3,429.3 1252.7,425.9 1253.1,427.3 1253.5,425.9 1253.9,427.3 1254.3,423.7 1254.7,430.5 1255.1,425.0 1255.5,427.9 1255.9,423.4 1256.3,430.1 1256.7,427.7 1257.1,430.7 1257.5,425.9 1257.9,429.0 1258.3,426.9 1258.7,427.2 1259.1,429.6 1259.5,425.6 1259.9,428.7 1260.3,430.8 1260.7,430.5 1261.1,429.2 1261.5,427.8 1261.9,425.4 1262.3,429.7 1262.7,426.0 1263.1,429.3 1263.5,426.5 1263.9,427.2 1264.3,427.1 1264.7,428.2 1265.1,426.3 1265.5,427.6 1265.9,426.4 1266.3,428.3 1266.7,427.8 1267.1,428.1 1267.5,425.7 1267.9,427.9 1268.3,427.4 1268.7,428.2 1269.1,427.2 1269.5,425.3 1269.9,428.5 1270.3,426.0 1270.7,427.7 1271.1,423.4 1271.5,428.0 1271.9,428.3 1272.3,425.3 1272.7,428.2 1273.1,426.4 1273.5,429.5 1273.9,428.4 1274.3,424.9 1274.7,426.8 1275.1,423.9 1275.5,426.7 1275.9,428.2 1276.3,428.8 1276.7,427.1 1277.1,426.8 1277.5,427.6 1277.9,426.1 1278.3,427.8 1278.7,429.1 1279.1,427.3 1279.5,428.5 1279.9,425.7 1280.3,426.2 1280.7,427.7 1281.1,430.7 1281.5,429.0 1281.9,430.3 1282.3,427.4 1282.7,429.5 1283.1,424.4 1283.5,428.2 1283.9,423.5 1284.3,429.3 1284.7,428.0 1285.1,429.1 1285.5,427.8 1285.9,426.3 1286.3,425.7 1286.7,427.5 1287.1,429.7 1287.5,428.3 1287.9,426.3 1288.3,426.3 1288.7,426.0 1289.1,426.6 1289.5,426.9 1289.9,426.2 1290.3,427.1 1290.7,424.4 1291.1,429.7 1291.5,427.5 1291.9,429.8 1292.3,427.6 1292.7,426.6 1293.1,427.0 1293.5,427.3 1293.9,425.8 1294.3,426.4 1294.7,430.5 1295.1,428.8 1295.5,426.3 1295.9,428.3 1296.3,426.0 1296.7,429.9 1297.1,425.5 1297.5,428.9 1297.9,427.3 1298.3,427.4 1298.7,425.9 1299.1,426.8 1299.5,426.0 1299.9,425.9 1300.3,428.4 1300.7,431.9 1301.1,426.8 1301.5,429.1 1301.9,427.4 1302.3,426.2 1302.7,429.6 1303.1,428.3 1303.5,429.1 1303.9,427.4 1304.3,427.5 1304.7,426.0 1305.1,426.9 1305.5,430.4 1305.9,423.6 1306.3,428.4 1306.7,430.3 1307.1,429.2 1307.5,429.2 1307.9,427.2 1308.3,429.7 1308.7,429.9 1309.1,427.7 1309.5,430.5 1309.9,426.7 1310.3,423.2 1310.7,427.8 1311.1,427.4 1311.5,426.1 1311.9,426.6 1312.3,426.3 1312.7,424.0 1313.1,429.5 1313.5,427.3 1313.9,431.8 1314.3,427.1 1314.7,427.8 1315.1,424.3 1315.5,429.0 1315.9,425.3 1316.3,428.0 1316.7,428.5 1317.1,428.3 1317.5,425.3 1317.9,425.1 1318.3,427.8 1318.7,428.3 1319.1,428.6 1319.5,425.9 1319.9,425.6 1320.3,428.7 1320.7,424.4 1321.1,426.5 1321.5,424.4 1321.9,422.3 1322.3,422.7 1322.7,425.4 1323.0,425.0 1323.1,425.2 1323.5,423.9 1323.9,423.9 1324.3,425.6 1324.7,425.0 1325.1,422.8 1325.5,425.2 1325.9,429.1 1326.3,425.2 1326.7,427.5 1327.1,426.5 1327.5,428.1 1327.9,425.4 1328.3,424.7 1328.7,427.7 1329.1,425.7 1329.5,426.9 1329.9,426.4 1330.3,428.7 1330.7,427.5 1331.1,427.3 1331.5,425.4 1331.9,424.3 1332.3,425.5 1332.7,428.5 1333.1,428.3 1333.5,428.1 1333.9,426.3 1334.3,425.2 1334.7,429.1 1335.1,427.5 1335.5,428.4 1335.9,425.9 1336.3,426.5 1336.7,428.9 1337.1,429.1 1337.5,425.9 1337.9,428.1 1338.3,425.6 1338.7,429.7 1339.1,428.6 1339.5,431.1 1339.9,429.8 1340.3,426.0 1340.7,427.6 1341.1,426.4 1341.5,427.3 1341.9,428.5 1342.3,427.2 1342.7,427.5 1343.1,425.1 1343.5,428.5 1343.9,427.5 1344.3,428.6 1344.7,429.5 1345.1,427.5 1345.5,428.7 1345.9,426.4 1346.3,429.1 1346.7,427.3 1347.1,426.2 1347.5,426.7 1347.9,424.6 1348.3,426.1 1348.7,426.4 1349.1,427.3 1349.5,427.1 1349.9,426.2 1350.3,426.9 1350.7,423.7 1351.1,427.9 1351.5,428.7 1351.9,429.1 1352.3,429.6 1352.7,427.2 1353.1,427.5 1353.5,426.7 1353.9,426.7 1354.3,427.5 1354.7,429.7 1355.1,424.5 1355.5,426.5 1355.9,427.9 1356.3,425.7 1356.7,428.3 1357.1,425.2 1357.5,426.9 1357.9,424.7 1358.3,427.9 1358.7,426.1 1359.1,428.5 1359.5,426.8 1359.9,425.5 1360.3,426.5 1360.7,427.4 1361.1,427.1 1361.5,426.7 1361.9,426.6 1362.3,427.4 1362.7,428.9 1363.1,426.6 1363.5,428.3 1363.9,425.4 1364.3,429.3 1364.7,428.5 1365.1,427.2 1365.5,427.2 1365.9,424.7 1366.3,428.0 1366.7,427.4 1367.1,425.2 1367.5,426.9 1367.9,428.4 1368.3,427.7 1368.7,427.8 1369.1,426.4 1369.5,428.7 1369.9,427.1 1370.3,428.6 1370.7,431.1 1371.1,423.8 1371.5,426.2 1371.9,427.1 1372.3,425.9 1372.7,429.1 1373.1,426.8 1373.5,430.4 1373.9,428.6 1374.3,428.2 1374.7,427.6 1375.1,429.1 1375.5,428.2 1375.9,429.8 1376.3,428.0 1376.7,428.9 1377.1,427.9 1377.5,427.8 1377.9,424.4 1378.3,427.2 1378.7,428.0 1379.1,425.3 1379.5,425.0 1379.9,427.0 1380.3,428.2 1380.7,424.8 1381.1,428.3 1381.5,429.4 1381.9,427.3 1382.3,428.1 1382.7,428.4 1383.1,426.3 1383.5,428.4 1383.9,428.1 1384.3,425.1 1384.7,428.2 1385.1,429.1 1385.5,425.8 1385.9,429.2 1386.3,427.4 1386.7,425.6 1387.1,426.2 1387.5,426.4 1387.9,428.7 1388.3,426.9 1388.7,427.1 1389.1,425.6 1389.5,427.6 1389.9,425.5 1390.3,426.5 1390.7,428.8 1391.1,428.9 1391.5,426.7 1391.9,427.4 1392.3,428.4 1392.7,427.8 1393.1,429.7 1393.5,429.7 1393.9,427.1 1394.3,425.3 1394.7,427.0 1395.1,429.7 1395.5,429.2 1395.9,429.1 1396.3,429.0 1396.7,426.1 1397.1,427.7 1397.5,429.1 1397.9,427.7 1398.3,429.0 1398.7,425.7 1399.1,425.5 1399.5,431.2 1399.9,429.1 1400.3,428.7 1400.7,430.1 1401.1,431.6 1401.5,432.5 1401.9,423.3 1402.3,428.0 1402.7,429.2 1403.1,424.1 1403.5,424.3 1403.9,427.2 1404.3,430.7 1404.7,429.1 1405.1,431.2"/>
<polyline points="223.5,667.9 223.9,659.9 224.3,665.2 224.7,663.5 225.1,663.8 225.5,664.4 225.9,661.3 226.3,664.4 226.7,663.1 227.1,670.3 227.5,664.8 227.9,663.9 228.3,663.8 228.7,663.0 229.1,662.2 229.5,663.4 229.9,665.0 230.3,664.0 230.7,666.1 231.1,664.0 231.5,664.5 231.9,667.2 232.3,665.5 232.7,663.6 233.1,664.3 233.5,665.3 233.9,667.7 234.3,663.9 234.7,664.0 235.1,665.9 235.5,662.6 235.9,663.7 236.3,665.7 236.7,665.1 237.1,664.5 237.5,665.6 237.9,659.5 238.3,666.4 238.7,663.0 239.1,661.6 239.5,665.1 239.9,665.9 240.3,663.8 240.7,662.6 241.1,664.4 241.5,664.2 241.9,666.8 242.3,665.6 242.7,664.5 243.1,666.3 243.5,664.0 243.9,662.7 244.3,665.5 244.7,665.6 245.1,664.4 245.5,663.4 245.9,665.4 246.3,660.5 246.7,666.1 247.1,665.7 247.5,661.9 247.9,664.8 248.3,662.9 248.7,666.1 249.1,661.1 249.5,663.2 249.9,666.1 250.3,667.1 250.7,661.4 251.1,664.5 251.5,665.9 251.9,664.2 252.3,668.2 252.7,663.1 253.1,665.8 253.5,663.3 253.9,667.6 254.3,664.9 254.7,664.4 255.1,662.1 255.5,668.0 255.9,666.5 256.3,666.5 256.7,667.1 257.1,665.9 257.5,664.2 257.9,663.9 258.3,663.9 258.7,667.7 259.1,662.8 259.5,664.4 259.9,664.8 260.3,665.8 260.7,666.3 261.1,663.2 261.5,662.5 261.9,665.6 262.3,667.9 262.7,667.1 263.1,666.3 263.5,665.2 263.9,666.4 264.3,665.2 264.7,666.8 265.1,664.0 265.5,665.5 265.9,665.3 266.3,666.5 266.7,666.1 267.1,670.1 267.5,668.4 267.9,668.6 268.3,662.5 268.7,665.4 269.1,664.8 269.5,666.7 269.9,661.8 270.3,668.0 270.7,667.8 271.1,663.6 271.5,664.1 271.9,664.3 272.3,665.8 272.7,666.9 273.1,669.2 273.5,665.2 273.9,667.0 274.3,666.2 274.7,669.0 275.1,667.5 275.5,668.5 275.9,664.2 276.3,665.9 276.7,664.9 277.1,668.9 277.5,667.2 277.9,665.7 278.3,665.4 278.7,667.0 279.1,665.2 279.5,664.7 279.9,667.2 280.3,670.7 280.7,666.1 281.1,665.6 281.5,664.5 281.9,664.5 282.3,667.6 282.7,668.2 283.1,666.7 283.5,667.3 283.9,666.9 284.3,667.0 284.7,664.2 285.1,665.9 285.5,667.1 285.9,665.7 286.3,666.4 286.7,665.9 287.1,666.9 287.5,669.0 287.9,666.7 288.3,667.3 288.7,669.0 289.1,668.7 289.5,670.6 289.9,663.9 290.3,669.1 290.7,666.7 291.1,667.9 291.5,669.2 291.9,669.7 292.3,669.6 292.7,668.1 293.1,670.8 293.5,667.6 293.9,668.0 294.3,669.7 294.7,667.3 295.1,672.1 295.5,670.3 295.9,672.3 296.3,668.4 296.7,667.6 297.1,668.5 297.5,669.5 297.9,667.3 298.3,669.1 298.7,668.4 299.1,671.3 299.5,667.6 299.9,670.8 300.3,668.0 300.7,667.5 301.1,668.0 301.5,667.3 301.9,669.7 302.3,671.4 302.7,669.7 303.1,670.6 303.5,672.5 303.9,670.2 304.3,670.1 304.7,669.2 305.1,666.8 305.5,671.0 305.9,666.8 306.3,671.0 306.7,669.8 307.1,671.7 307.5,669.6 307.9,668.5 308.3,670.7 308.7,669.1 309.1,669.7 309.5,670.1 309.9,669.8 310.3,669.8 310.7,668.9 311.1,669.9 311.5,666.6 311.9,670.1 312.3,668.4 312.7,672.5 313.1,672.8 313.5,667.2 313.9,670.6 314.3,670.2 314.7,668.5 315.1,671.2 315.5,669.4 315.9,667.3 316.3,669.9 316.7,670.3 317.1,670.9 317.5,668.6 317.9,671.9 318.3,672.3 318.7,669.1 319.1,669.9 319.5,671.0 319.9,670.2 320.3,674.2 320.7,671.6 321.1,669.6 321.5,670.2 321.9,671.4 322.3,675.5 322.7,671.2 323.1,671.8 323.5,672.6 323.9,671.6 324.3,675.7 324.7,670.7 325.1,673.1 325.5,672.1 325.9,673.0 326.3,669.7 326.7,675.1 327.1,671.9 327.5,672.2 327.9,670.6 328.3,671.0 328.7,673.5 329.1,674.3 329.5,674.1 329.9,674.8 330.3,674.0 330.7,672.9 331.1,674.2 331.5,673.8 331.9,672.5 332.3,674.0 332.7,675.1 333.1,673.2 333.5,672.2 333.9,674.1 334.3,676.1 334.7,672.5 335.1,672.9 335.5,672.9 335.9,675.3 336.3,670.2 336.7,674.1 337.1,675.7 337.5,672.3 337.9,676.5 338.3,674.9 338.7,672.8 339.1,674.1 339.5,671.2 339.9,673.0 340.3,677.3 340.7,672.6 341.1,677.4 341.5,674.0 341.9,676.1 342.3,674.4 342.7,670.2 343.1,672.9 343.5,674.2 343.9,671.9 344.3,671.6 344.7,674.6 345.1,672.7 345.5,671.0 345.9,672.8 346.3,675.6 346.7,673.3 347.1,675.8 347.5,677.0 347.9,674.5 348.3,672.5 348.7,672.3 349.1,674.7 349.5,676.3 349.9,675.3 350.3,675.7 350.7,673.9 351.1,675.1 351.5,673.6 351.9,673.8 352.3,671.9 352.7,671.3 353.1,673.2 353.5,672.2 353.9,672.5 354.3,675.4 354.7,674.3 355.1,679.7 355.5,676.3 355.9,673.5 356.3,675.9 356.7,675.1 357.1,673.2 357.5,676.2 357.9,672.7 358.3,668.6 358.7,675.5 359.1,673.3 359.5,677.0 359.9,673.3 360.3,672.4 360.7,677.2 361.1,672.8 361.5,675.1 361.9,677.1 362.3,674.7 362.7,674.5 363.1,674.9 363.5,676.3 363.9,673.6 364.3,676.1 364.7,676.0 365.1,679.2 365.5,674.4 365.9,673.4 366.3,676.2 366.7,674.3 367.1,675.4 367.5,675.1 367.9,676.9 368.3,673.6 368.7,674.7 369.1,670.5 369.5,673.5 369.9,677.8 370.3,674.0 370.7,674.1 371.1,673.2 371.5,676.6 371.9,675.8 372.3,673.5 372.7,676.8 373.1,676.1 373.5,676.9 373.9,674.3 374.3,678.6 374.7,676.1 375.1,675.4 375.5,674.6 375.9,675.1 376.3,677.1 376.7,675.1 377.1,677.5 377.5,676.7 377.9,677.9 378.3,676.9 378.7,675.5 379.1,672.2 379.5,676.1 379.9,677.0 380.3,675.9 380.7,676.6 381.1,675.0 381.5,675.3 381.9,674.2 382.3,678.3 382.7,676.1 383.1,675.0 383.5,673.7 383.9,675.7 384.3,678.5 384.7,676.8 385.1,674.9 385.5,678.7 385.9,678.8 386.3,677.9 386.7,677.5 387.1,678.2 387.5,677.1 387.9,677.3 388.3,674.5 388.7,678.4 389.1,676.3 389.5,679.4 389.9,672.3 390.3,677.0 390.7,677.6 391.1,675.5 391.5,676.7 391.9,677.3 392.3,676.9 392.7,675.0 393.1,675.7 393.5,677.7 393.9,678.1 394.3,676.1 394.7,676.1 395.1,676.5 395.5,678.0 395.9,674.4 396.3,673.9 396.7,676.5 397.1,674.2 397.5,675.1 397.9,676.6 398.3,677.4 398.7,674.6 399.1,677.9 399.5,673.5 399.9,677.5 400.3,673.7 400.7,674.3 401.1,677.7 401.5,675.7 401.9,675.1 402.3,675.7 402.7,677.2 403.1,676.5 403.5,676.6 403.9,678.5 404.3,675.3 404.7,675.8 405.1,675.7 405.5,678.7 405.9,678.4 406.3,679.0 406.7,676.7 407.1,676.6 407.5,678.4 407.9,676.2 408.3,678.4 408.7,678.3 409.1,675.7 409.5,676.8 409.9,676.9 410.3,680.0 410.7,681.5 411.1,676.8 411.5,677.1 411.9,673.2 412.3,677.6 412.7,677.2 413.1,675.3 413.5,678.6 413.9,674.6 414.3,676.9 414.7,677.4 415.1,674.8 415.5,678.5 415.9,678.9 416.3,674.6 416.7,674.5 417.1,677.9 417.5,676.9 417.9,675.0 418.3,676.6 418.7,677.2 419.1,677.0 419.5,678.9 419.9,678.1 420.3,680.4 420.7,679.8 421.1,678.4 421.5,679.2 421.9,679.7 422.3,678.8 422.7,675.2 423.1,678.7 423.5,677.5 423.9,680.3 424.3,677.7 424.7,678.5 425.1,678.1 425.5,680.4 425.9,677.8 426.3,677.2 426.7,678.1 427.1,676.6 427.5,677.8 427.9,677.5 428.3,677.9 428.7,680.7 429.1,676.6 429.5,677.3 429.9,677.0 430.3,678.7 430.7,675.4 431.1,676.3 431.5,677.5 431.9,678.7 432.3,677.8 432.7,677.0 433.1,676.4 433.5,678.8 433.9,680.3 434.3,678.4 434.7,678.2 435.1,678.5 435.5,676.0 435.9,677.2 436.3,677.3 436.7,678.0 437.1,677.3 437.5,674.8 437.9,678.5 438.3,679.1 438.7,675.4 438.7,676.4 439.1,676.3 439.5,677.7 439.9,674.1 440.3,679.8 440.7,676.3 441.1,679.4 441.5,677.5 441.9,676.7 442.3,677.1 442.7,679.0 443.1,676.0 443.5,677.0 443.9,677.0 444.3,674.9 444.7,680.2 445.1,679.1 445.5,678.0 445.9,680.1 446.3,676.4 446.7,678.0 447.1,681.1 447.5,679.9 447.9,674.3 448.3,672.4 448.7,676.4 449.1,680.0 449.5,677.2 449.9,677.7 450.3,679.3 450.7,676.5 451.1,678.4 451.5,679.1 451.9,678.8 452.3,678.8 452.7,677.1 453.1,679.0 453.5,677.3 453.9,680.4 454.3,682.7 454.7,677.3 455.1,674.7 455.5,677.6 455.9,679.0 456.3,680.3 456.7,680.3 457.1,677.0 457.5,676.9 457.9,680.3 458.3,676.1 458.7,679.9 459.1,677.6 459.5,679.3 459.9,679.3 460.3,679.4 460.7,679.4 461.1,676.3 461.5,678.5 461.9,678.2 462.3,678.9 462.7,680.4 463.1,677.7 463.5,677.1 463.9,677.1 464.3,678.0 464.7,679.9 465.1,677.1 465.5,680.4 465.9,679.0 466.3,678.0 466.7,676.1 467.1,678.9 467.5,679.6 467.9,675.3 468.3,680.5 468.7,681.2 469.1,678.9 469.5,679.4 469.9,682.7 470.3,680.7 470.7,676.9 471.1,678.6 471.5,678.3 471.9,678.5 472.3,674.6 472.7,680.1 473.1,677.7 473.5,678.9 473.9,678.4 474.3,680.1 474.7,678.1 475.1,677.0 475.5,679.3 475.9,680.8 476.3,677.9 476.7,681.0 477.1,679.2 477.5,677.8 477.9,681.2 478.3,677.2 478.7,680.4 479.1,677.7 479.5,679.1 479.9,675.9 480.3,676.1 480.7,679.2 481.1,676.9 481.5,675.5 481.9,673.0 482.3,672.3 482.7,666.5 483.1,664.9 483.4,666.1 483.5,664.9 483.9,666.8 484.3,670.4 484.7,672.6 485.1,674.3 485.5,679.2 485.9,678.9 486.3,679.8 486.7,677.8 487.1,677.0 487.5,675.4 487.9,677.6 488.3,674.7 488.7,677.4 489.1,679.8 489.5,681.3 489.9,680.3 490.3,677.3 490.7,679.7 491.1,677.4 491.5,680.4 491.9,678.7 492.3,680.3 492.7,683.3 493.1,680.5 493.5,682.8 493.9,679.1 494.3,678.0 494.7,680.9 495.1,681.7 495.5,677.7 495.9,679.0 496.3,676.2 496.7,678.4 497.1,680.2 497.5,678.9 497.9,677.8 498.3,676.2 498.7,679.3 499.1,680.0 499.5,680.0 499.9,679.4 500.3,676.8 500.7,682.1 501.1,679.1 501.5,679.0 501.9,680.8 502.3,675.6 502.7,679.1 503.1,679.1 503.5,680.0 503.9,681.5 504.3,680.0 504.7,676.1 505.1,678.6 505.5,679.7 505.9,679.7 506.3,677.0 506.7,676.5 507.1,680.5 507.5,680.2 507.9,679.5 508.3,676.5 508.7,682.6 509.1,674.4 509.5,678.9 509.9,683.1 510.3,679.2 510.7,679.7 511.1,677.2 511.5,681.6 511.9,676.9 512.3,679.5 512.7,679.3 513.1,677.3 513.5,680.6 513.9,676.6 514.3,678.0 514.7,679.1 515.1,678.6 515.5,680.2 515.9,681.0 516.3,678.8 516.7,678.3 517.1,678.5 517.5,678.7 517.9,680.9 518.3,678.9 518.7,679.8 519.1,679.0 519.5,677.6 519.9,680.6 520.3,677.2 520.7,679.0 521.1,681.7 521.5,677.2 521.9,679.2 522.3,676.5 522.7,678.6 523.1,676.9 523.5,679.0 523.9,678.7 524.3,679.8 524.7,682.1 525.1,679.8 525.5,680.5 525.9,679.0 526.3,678.7 526.7,677.4 527.1,675.4 527.5,678.6 527.9,681.1 528.3,678.7 528.7,676.6 529.1,680.1 529.5,676.0 529.9,675.4 530.3,673.9 530.7,674.0 531.1,675.2 531.5,678.8 531.9,674.9 532.3,673.3 532.4,673.9 532.7,674.7 533.1,672.5 533.5,675.9 533.9,677.0 534.3,676.9 534.7,677.8 535.1,674.8 535.5,674.6 535.9,680.0 536.3,679.9 536.7,675.6 537.1,678.9 537.5,678.7 537.9,679.6 538.3,679.2 538.7,677.9 539.1,679.3 539.5,679.4 539.9,679.0 540.3,675.9 540.7,673.9 541.1,677.8 541.5,676.3 541.9,679.6 542.3,680.5 542.7,679.7 543.1,678.6 543.5,679.5 543.9,681.5 544.3,678.2 544.7,681.3 545.1,680.9 545.5,680.1 545.9,682.2 546.3,678.3 546.7,681.0 547.1,677.7 547.5,678.0 547.9,677.4 548.3,680.0 548.7,677.5 549.1,679.1 549.5,677.0 549.9,681.1 550.3,682.4 550.7,679.7 551.1,682.3 551.5,680.5 551.9,683.4 552.3,679.9 552.7,677.0 553.1,682.3 553.5,679.5 553.9,677.9 554.3,678.5 554.7,676.7 555.1,679.3 555.5,677.7 555.9,682.1 556.3,680.6 556.7,676.4 557.1,676.7 557.5,678.4 557.9,676.1 558.3,679.2 558.7,679.2 559.1,678.0 559.5,678.4 559.9,680.3 560.3,681.9 560.7,682.0 561.1,679.4 561.5,680.9 561.9,678.1 562.3,680.3 562.7,677.9 563.1,680.8 563.5,677.3 563.9,677.7 564.3,679.3 564.7,680.3 565.1,676.7 565.5,678.2 565.9,679.3 566.3,679.4 566.7,677.7 567.1,679.4 567.5,678.8 567.9,681.7 568.3,680.2 568.7,676.8 569.1,675.4 569.5,679.5 569.9,681.3 570.3,679.6 570.7,680.8 571.1,678.2 571.5,676.6 571.9,680.3 572.3,679.2 572.7,680.2 573.1,676.5 573.5,679.1 573.9,677.6 574.3,680.2 574.7,677.9 575.1,677.8 575.5,677.8 575.9,681.1 576.3,679.1 576.7,677.7 577.1,677.2 577.5,677.2 577.9,681.3 578.3,675.3 578.7,676.8 579.1,679.2 579.5,679.7 579.9,677.1 580.3,678.2 580.7,677.6 581.1,677.2 581.5,674.7 581.9,676.6 582.3,673.1 582.7,674.5 583.1,669.1 583.5,672.3 583.8,668.2 583.9,667.9 584.3,671.6 584.7,669.9 585.1,672.9 585.5,671.1 585.9,676.6 586.3,674.5 586.7,673.5 587.1,676.6 587.5,678.2 587.9,675.7 588.3,678.2 588.7,680.9 589.1,679.0 589.5,677.6 589.9,676.5 590.3,678.3 590.7,674.8 591.1,672.2 591.5,675.6 591.9,674.5 592.3,676.7 592.7,672.7 593.1,668.9 593.5,665.3 593.9,662.4 594.3,658.9 594.6,658.2 594.7,658.5 595.1,660.6 595.5,664.2 595.9,668.0 596.3,672.3 596.7,675.5 597.1,673.2 597.5,679.9 597.9,677.1 598.3,679.3 598.7,676.5 599.1,678.4 599.5,678.3 599.9,678.4 600.3,679.8 600.7,679.3 601.1,676.4 601.5,677.9 601.9,679.3 602.3,679.3 602.7,677.5 603.1,677.6 603.5,677.9 603.9,676.4 604.3,676.1 604.7,681.2 605.1,677.8 605.5,678.6 605.9,677.1 606.3,680.6 606.7,681.4 607.1,678.0 607.5,679.2 607.9,676.9 608.3,681.3 608.7,679.9 609.1,677.0 609.5,680.6 609.9,679.0 610.3,678.9 610.7,678.9 611.1,677.1 611.5,677.3 611.9,679.3 612.3,678.0 612.7,676.5 613.1,681.8 613.5,678.1 613.9,677.4 614.3,677.2 614.7,679.7 615.1,680.2 615.5,679.0 615.9,680.2 616.3,676.0 616.7,677.8 617.1,677.5 617.5,678.3 617.9,679.1 618.3,674.7 618.7,683.7 619.1,676.6 619.5,678.7 619.9,679.6 620.3,679.5 620.7,678.5 621.1,673.0 621.5,676.3 621.9,679.4 622.3,676.6 622.7,676.2 623.1,673.9 623.5,680.1 623.9,678.6 624.3,676.0 624.7,677.2 625.1,677.4 625.5,675.3 625.9,676.8 626.3,677.8 626.7,678.4 627.1,679.7 627.5,677.6 627.9,676.8 628.3,678.1 628.7,676.3 629.1,675.0 629.5,679.0 629.9,676.1 630.3,676.8 630.7,677.5 631.1,674.0 631.5,676.8 631.9,676.1 632.3,674.8 632.7,675.2 633.1,672.6 633.5,669.6 633.9,672.5 634.3,670.9 634.7,673.7 635.1,672.2 635.5,670.7 635.6,671.8 635.9,674.1 636.3,673.9 636.7,672.7 637.1,673.3 637.5,672.4 637.9,673.2 638.3,674.9 638.7,674.1 639.1,675.3 639.5,673.1 639.9,672.4 640.3,672.5 640.7,675.0 641.1,678.4 641.5,678.1 641.9,674.4 642.3,673.5 642.7,677.5 643.1,677.1 643.5,673.6 643.9,677.8 644.3,676.4 644.7,678.4 645.1,676.4 645.5,677.4 645.9,676.5 646.3,674.2 646.7,675.4 647.1,674.4 647.5,676.4 647.9,673.2 648.3,672.0 648.7,673.6 649.1,672.0 649.5,669.6 649.9,666.2 650.3,661.6 650.7,659.3 651.1,658.2 651.1,658.4 651.5,658.6 651.9,662.1 652.3,665.5 652.7,667.5 653.1,670.7 653.5,673.7 653.9,673.6 654.3,675.8 654.7,676.3 655.1,675.8 655.5,675.8 655.9,674.6 656.3,677.3 656.7,674.1 657.1,673.4 657.5,675.4 657.9,672.5 658.0,674.3 658.3,675.5 658.7,674.0 659.1,674.4 659.5,676.1 659.9,675.9 660.3,671.9 660.7,672.3 661.1,677.0 661.5,675.2 661.9,670.7 662.3,671.6 662.7,673.4 663.1,671.2 663.5,672.1 663.9,669.7 664.3,667.3 664.7,661.9 665.1,658.3 665.5,653.5 665.9,647.8 666.3,646.7 666.3,646.6 666.7,648.2 667.1,652.3 667.5,656.8 667.9,661.7 668.3,667.0 668.7,670.1 669.1,672.4 669.5,673.3 669.9,674.0 670.3,672.3 670.7,671.2 671.1,673.6 671.5,674.1 671.9,673.2 672.3,670.0 672.7,671.4 673.1,669.4 673.5,671.5 673.9,668.5 674.3,669.1 674.7,668.9 675.1,667.4 675.5,668.5 675.9,662.9 676.3,660.2 676.7,665.0 676.9,665.8 677.1,665.8 677.5,664.1 677.9,665.2 678.3,665.6 678.7,664.6 679.1,666.9 679.5,669.9 679.9,669.2 680.3,674.5 680.7,669.4 681.1,672.2 681.5,675.3 681.9,672.6 682.3,672.0 682.7,671.8 683.1,672.8 683.5,676.7 683.9,674.8 684.3,674.7 684.7,672.8 685.1,674.9 685.5,673.4 685.9,671.6 686.3,672.3 686.7,673.2 687.1,674.6 687.5,672.2 687.9,672.7 688.3,675.1 688.7,669.7 689.1,668.5 689.5,672.1 689.9,671.0 690.3,669.8 690.5,670.4 690.7,669.4 691.1,670.9 691.5,669.8 691.9,672.0 692.3,668.9 692.7,670.0 693.1,672.0 693.5,671.3 693.9,673.7 694.3,672.8 694.7,672.2 695.1,673.9 695.5,672.8 695.9,671.2 696.3,672.1 696.7,673.0 697.1,673.7 697.5,674.7 697.9,676.1 698.3,675.4 698.7,677.7 699.1,676.9 699.5,674.1 699.9,677.3 700.3,676.5 700.7,673.7 701.1,674.9 701.5,676.3 701.9,674.6 702.3,675.9 702.7,674.8 703.1,675.3 703.5,673.4 703.9,674.6 704.3,673.3 704.7,675.1 705.1,671.1 705.5,674.7 705.9,676.3 706.3,675.1 706.7,673.9 707.1,674.8 707.5,672.6 707.9,672.5 708.3,673.2 708.7,673.4 709.1,675.4 709.5,672.0 709.9,675.6 710.3,671.1 710.7,672.4 711.1,673.7 711.5,675.9 711.9,672.8 712.3,670.1 712.7,674.7 713.1,673.6 713.5,671.7 713.9,671.8 714.3,672.3 714.7,673.5 715.1,674.5 715.5,670.6 715.9,677.1 716.3,673.1 716.7,672.4 717.1,674.2 717.5,673.2 717.9,677.2 718.3,675.1 718.7,672.6 719.1,672.6 719.5,672.3 719.9,672.6 720.3,674.3 720.7,672.0 721.1,675.8 721.5,672.7 721.9,672.6 722.3,674.5 722.7,669.4 723.1,671.1 723.5,674.0 723.9,672.8 724.3,672.7 724.7,673.3 725.1,671.5 725.5,672.0 725.9,669.8 726.3,668.8 726.7,674.2 727.1,670.1 727.5,670.6 727.9,674.4 728.3,673.9 728.7,671.2 729.1,671.3 729.5,672.2 729.9,670.6 730.3,673.3 730.7,672.6 731.1,672.4 731.5,673.5 731.9,673.3 732.3,675.2 732.7,674.7 733.1,669.0 733.5,673.6 733.9,670.0 734.3,669.5 734.7,673.2 735.1,670.7 735.5,671.2 735.9,673.5 736.3,670.5 736.7,670.1 737.1,672.2 737.5,673.8 737.9,672.4 738.3,668.9 738.7,670.6 739.1,671.5 739.5,675.1 739.9,673.1 740.3,673.2 740.7,673.6 741.1,671.0 741.5,672.2 741.9,672.2 742.3,669.6 742.7,671.3 743.1,672.3 743.5,669.3 743.9,672.7 744.3,672.6 744.7,673.1 745.1,670.0 745.5,671.4 745.9,673.8 746.3,672.6 746.7,669.8 747.1,671.4 747.5,673.4 747.9,670.7 748.3,671.5 748.7,675.3 749.1,670.6 749.5,670.5 749.9,668.9 750.3,669.6 750.7,673.2 751.1,670.4 751.5,668.6 751.9,668.9 752.3,670.6 752.7,671.7 753.1,669.0 753.5,671.5 753.9,669.5 754.3,670.9 754.7,671.2 755.1,671.3 755.5,669.4 755.9,670.0 756.3,671.1 756.7,668.1 757.1,670.7 757.5,671.4 757.9,672.2 758.3,670.4 758.7,670.1 759.1,670.6 759.5,669.2 759.9,669.9 760.3,671.0 760.7,670.7 761.1,668.2 761.5,669.4 761.9,666.3 762.3,671.4 762.7,669.1 763.1,670.3 763.5,667.9 763.9,669.6 764.3,670.7 764.7,671.6 765.1,667.5 765.5,671.4 765.9,669.5 766.3,668.5 766.7,670.6 767.1,669.1 767.5,668.8 767.9,668.0 768.3,669.6 768.7,669.0 769.1,668.7 769.5,667.4 769.9,668.1 770.3,669.9 770.7,671.8 771.1,669.5 771.5,672.2 771.9,669.7 772.3,667.7 772.7,670.7 773.1,667.8 773.5,670.2 773.9,671.3 774.3,669.0 774.7,669.3 775.1,673.8 775.5,669.8 775.9,669.9 776.3,670.9 776.7,669.3 777.1,669.2 777.5,669.7 777.9,664.8 778.3,671.6 778.7,667.4 779.1,667.2 779.5,670.0 779.9,669.2 780.3,667.1 780.7,669.8 781.1,667.3 781.5,668.0 781.9,666.4 782.3,667.6 782.7,669.4 783.1,668.9 783.5,669.1 783.9,670.1 784.3,668.4 784.7,667.5 785.1,668.1 785.5,671.6 785.9,669.0 786.3,669.3 786.7,668.5 787.1,668.9 787.5,669.3 787.9,668.3 788.3,667.9 788.7,666.6 789.1,666.3 789.5,668.7 789.9,669.2 790.3,669.4 790.7,667.6 791.1,666.2 791.5,668.7 791.9,668.6 792.3,664.8 792.7,668.6 793.1,668.2 793.5,670.0 793.9,665.1 794.3,664.4 794.7,667.4 795.1,662.9 795.5,663.7 795.9,661.6 796.3,658.9 796.7,654.0 797.1,649.7 797.5,644.4 797.9,640.6 798.0,640.4 798.3,641.5 798.7,647.2 799.1,652.8 799.5,658.4 799.9,659.3 800.3,663.6 800.7,662.8 801.1,665.7 801.5,665.9 801.9,663.8 802.3,666.1 802.7,667.7 803.1,666.5 803.5,666.6 803.9,664.0 804.3,664.3 804.7,663.4 805.1,665.4 805.5,666.8 805.9,665.4 806.3,664.2 806.7,661.9 807.1,664.2 807.5,662.4 807.9,658.8 808.3,658.4 808.7,660.1 809.1,658.2 809.5,661.3 809.9,656.9 810.3,653.0 810.7,651.6 811.1,652.3 811.5,643.9 811.9,641.4 812.3,633.1 812.7,621.8 813.1,595.2 813.5,544.5 813.9,475.5 814.1,459.0 814.3,471.7 814.7,531.1 815.1,567.3 815.5,562.7 815.9,545.7 816.0,545.5 816.3,564.2 816.7,599.7 817.1,622.3 817.5,635.3 817.9,639.8 818.3,643.9 818.7,650.9 819.1,651.3 819.5,652.9 819.9,658.0 820.3,658.9 820.7,654.2 821.1,659.3 821.5,662.2 821.9,662.9 822.3,661.1 822.7,665.5 823.1,661.8 823.5,663.2 823.9,664.0 824.3,664.1 824.7,665.7 825.1,666.3 825.5,664.5 825.9,667.0 826.3,663.4 826.7,664.2 827.1,667.7 827.5,664.8 827.9,666.6 828.3,664.2 828.7,664.7 829.1,665.2 829.5,665.7 829.9,664.9 830.3,665.7 830.7,666.9 831.1,667.9 831.5,666.1 831.9,666.8 832.3,667.2 832.7,663.9 833.1,663.2 833.5,668.7 833.9,668.2 834.3,666.0 834.7,666.4 835.1,664.2 835.5,663.4 835.9,666.2 836.3,663.0 836.7,667.2 837.1,664.4 837.5,666.0 837.9,668.8 838.3,668.7 838.7,664.9 839.1,667.3 839.5,663.8 839.9,664.6 840.3,666.4 840.7,668.1 841.1,664.7 841.5,666.6 841.9,665.7 842.3,663.3 842.7,665.3 843.1,668.1 843.5,665.3 843.9,666.4 844.3,667.0 844.7,664.4 845.1,667.8 845.5,668.3 845.9,668.4 846.3,667.7 846.7,664.6 847.1,664.2 847.5,664.0 847.9,663.9 848.3,664.0 848.7,667.0 849.1,667.9 849.5,664.2 849.9,666.8 850.3,663.2 850.7,664.7 851.1,663.5 851.5,662.5 851.9,665.5 852.3,665.6 852.7,664.8 853.1,664.4 853.5,663.5 853.9,664.9 854.3,664.1 854.7,665.6 855.1,663.0 855.5,665.4 855.9,666.1 856.3,667.4 856.7,667.1 857.1,665.6 857.5,664.1 857.9,661.8 858.3,665.1 858.7,667.7 859.1,668.1 859.5,660.7 859.9,663.8 860.3,664.6 860.7,663.3 861.1,665.4 861.5,664.9 861.9,663.9 862.3,664.7 862.7,662.1 863.1,663.1 863.5,663.1 863.9,666.3 864.3,662.1 864.7,664.6 865.1,666.4 865.5,664.8 865.9,666.2 866.3,663.8 866.7,665.9 867.1,666.5 867.5,668.8 867.9,666.2 868.3,667.5 868.7,665.1 869.1,665.3 869.5,667.8 869.9,666.1 870.3,667.6 870.7,666.4 871.1,669.0 871.5,669.4 871.9,663.8 872.3,668.4 872.7,665.9 873.1,666.0 873.5,665.0 873.9,666.3 874.3,663.0 874.7,663.7 875.1,663.6 875.5,665.5 875.9,666.4 876.3,666.0 876.7,665.4 877.1,663.8 877.5,661.8 877.9,665.6 878.3,665.0 878.7,665.7 879.1,667.6 879.5,664.8 879.9,664.7 880.3,660.9 880.7,666.0 881.1,665.0 881.5,663.8 881.9,665.6 882.3,663.0 882.7,663.9 883.1,668.1 883.5,666.1 883.9,666.3 884.3,666.0 884.7,665.7 885.1,664.8 885.5,668.6 885.9,664.3 886.3,665.7 886.7,664.1 887.1,663.8 887.5,660.2 887.9,661.1 888.3,667.3 888.7,667.2 889.1,664.0 889.5,664.6 889.9,665.7 890.3,662.8 890.7,667.7 891.1,662.8 891.5,663.4 891.9,659.8 892.3,667.2 892.7,664.8 893.1,667.5 893.5,663.2 893.9,665.4 894.3,665.0 894.7,665.4 895.1,668.7 895.5,669.1 895.9,667.4 896.3,664.4 896.7,666.6 897.1,667.4 897.5,666.0 897.9,665.8 898.3,665.5 898.7,663.1 899.1,665.2 899.5,667.4 899.9,662.6 900.3,664.5 900.7,665.8 901.1,661.8 901.5,663.9 901.9,661.1 902.3,663.1 902.7,661.4 903.1,662.4 903.5,663.0 903.9,663.3 904.3,663.6 904.7,659.7 905.1,666.7 905.5,663.2 905.9,661.9 906.3,662.8 906.7,664.4 907.1,662.2 907.5,663.3 907.9,663.3 908.3,665.2 908.7,662.9 909.1,665.0 909.5,664.9 909.9,664.0 910.3,666.3 910.7,664.1 911.1,661.9 911.5,664.5 911.9,664.3 912.3,664.0 912.7,664.3 913.1,668.1 913.5,664.3 913.9,664.5 914.3,663.2 914.7,665.6 915.1,663.1 915.5,661.6 915.9,660.7 916.3,663.1 916.7,662.8 917.1,657.5 917.5,657.2 917.9,657.6 918.3,656.4 918.7,651.3 918.7,652.8 919.1,655.9 919.5,655.5 919.9,657.6 920.3,659.2 920.7,659.0 921.1,662.2 921.5,663.2 921.9,660.4 922.3,662.9 922.7,664.4 923.1,662.9 923.5,663.7 923.9,661.1 924.3,662.8 924.7,658.6 925.1,659.3 925.5,654.6 925.9,651.2 926.3,647.7 926.7,645.3 927.0,644.4 927.1,644.3 927.5,645.8 927.9,648.8 928.3,651.7 928.7,652.7 929.1,655.1 929.5,652.5 929.9,651.6 930.3,650.8 930.5,653.4 930.7,650.3 931.1,651.8 931.5,658.0 931.9,660.7 932.3,661.7 932.7,658.0 933.1,661.5 933.5,663.5 933.9,662.7 934.3,659.8 934.7,662.5 935.1,660.2 935.5,661.2 935.9,667.2 936.3,664.7 936.7,660.9 937.1,660.9 937.5,664.5 937.9,662.5 938.3,664.6 938.7,662.5 939.1,663.2 939.5,664.2 939.9,662.1 940.3,660.6 940.7,661.7 941.1,662.6 941.5,663.4 941.9,663.7 942.3,663.7 942.7,664.7 943.1,662.2 943.5,666.2 943.9,667.3 944.3,664.3 944.7,664.2 945.1,666.0 945.5,664.9 945.9,664.1 946.3,663.5 946.7,662.5 947.1,661.7 947.5,665.1 947.9,665.9 948.3,662.1 948.7,663.7 949.1,664.2 949.5,663.0 949.9,662.6 950.3,663.4 950.7,660.3 951.1,663.9 951.5,663.3 951.9,667.5 952.3,665.5 952.7,663.3 953.1,663.9 953.5,666.9 953.9,666.7 954.3,664.2 954.7,663.8 955.1,661.5 955.5,663.4 955.9,663.7 956.3,662.5 956.7,666.8 957.1,660.7 957.5,663.8 957.9,664.6 958.3,664.8 958.7,667.0 959.1,661.6 959.5,662.9 959.9,664.3 960.3,664.2 960.7,663.2 961.1,662.6 961.5,665.8 961.9,661.9 962.3,662.7 962.7,666.0 963.1,666.6 963.5,665.1 963.9,661.9 964.3,662.1 964.7,661.9 965.1,661.4 965.5,662.7 965.9,665.8 966.3,663.9 966.7,662.2 967.1,662.1 967.5,661.2 967.9,665.5 968.3,660.0 968.7,664.2 969.1,661.0 969.5,661.9 969.9,661.2 970.3,665.6 970.7,663.8 971.1,668.8 971.5,662.1 971.9,661.9 972.3,665.1 972.7,665.0 973.1,663.4 973.5,660.4 973.9,666.3 974.3,664.9 974.7,664.7 975.1,663.0 975.5,665.0 975.9,662.8 976.3,663.8 976.7,663.4 977.1,665.9 977.5,662.9 977.9,663.1 978.3,665.4 978.7,663.9 979.1,663.5 979.5,663.2 979.9,665.2 980.3,662.4 980.7,664.2 981.1,666.9 981.5,664.1 981.9,662.1 982.3,661.3 982.7,663.7 983.1,661.4 983.5,660.7 983.9,662.2 984.3,661.8 984.7,665.2 985.1,661.1 985.5,666.4 985.9,662.3 986.3,663.8 986.7,664.8 987.1,664.0 987.5,664.6 987.9,661.7 988.3,659.5 988.7,663.1 989.1,660.5 989.5,662.5 989.9,665.1 990.3,663.2 990.7,662.6 991.1,661.6 991.5,663.2 991.9,663.3 992.3,660.9 992.7,663.9 993.1,661.5 993.5,663.7 993.9,662.4 994.3,665.0 994.7,664.8 995.1,663.4 995.5,663.3 995.9,664.4 996.3,666.1 996.7,665.6 997.1,664.2 997.5,664.5 997.9,666.6 998.3,660.8 998.7,664.4 999.1,661.8 999.5,665.8 999.9,662.6 1000.3,663.2 1000.7,661.4 1001.1,663.3 1001.5,664.8 1001.9,666.3 1002.3,661.1 1002.7,662.3 1003.1,669.8 1003.5,664.8 1003.9,663.1 1004.3,664.2 1004.7,658.6 1005.1,666.2 1005.5,663.7 1005.9,661.1 1006.3,665.8 1006.7,662.3 1007.1,661.6 1007.5,664.4 1007.9,664.0 1008.3,662.5 1008.7,663.3 1009.1,661.1 1009.5,660.8 1009.9,665.0 1010.3,665.7 1010.7,664.0 1011.1,663.8 1011.5,662.4 1011.9,662.8 1012.3,661.5 1012.7,666.2 1013.1,662.1 1013.5,664.0 1013.9,663.3 1014.3,661.0 1014.7,666.8 1015.1,662.8 1015.5,661.9 1015.9,663.5 1016.3,661.7 1016.7,663.1 1017.1,661.3 1017.5,663.9 1017.9,663.2 1018.3,660.6 1018.7,665.0 1019.1,663.6 1019.5,661.4 1019.9,664.2 1020.3,664.2 1020.7,667.0 1021.1,662.1 1021.5,665.1 1021.9,663.3 1022.3,664.5 1022.7,662.8 1023.1,663.2 1023.5,664.3 1023.9,661.3 1024.3,659.6 1024.7,663.3 1025.1,662.6 1025.5,663.4 1025.9,664.6 1026.3,663.0 1026.7,665.5 1027.1,663.3 1027.5,663.6 1027.9,664.9 1028.3,664.6 1028.7,663.5 1029.1,663.7 1029.5,662.1 1029.9,662.3 1030.3,663.5 1030.7,664.8 1031.1,662.7 1031.5,664.8 1031.9,666.8 1032.3,667.2 1032.7,663.5 1033.1,665.4 1033.5,664.6 1033.9,664.8 1034.3,664.8 1034.7,664.2 1035.1,664.7 1035.5,663.6 1035.9,662.8 1036.3,663.7 1036.7,664.1 1037.1,665.3 1037.5,663.9 1037.9,664.7 1038.3,665.9 1038.7,661.7 1039.1,662.9 1039.5,664.3 1039.9,663.2 1040.3,661.6 1040.7,665.0 1041.1,663.0 1041.5,661.5 1041.9,666.6 1042.3,660.8 1042.7,663.1 1043.1,662.1 1043.5,663.3 1043.9,664.1 1044.3,661.6 1044.7,662.8 1045.1,662.6 1045.5,661.0 1045.9,664.7 1046.3,662.7 1046.7,661.6 1047.1,660.6 1047.5,660.9 1047.9,661.3 1048.3,659.9 1048.7,662.7 1049.1,655.6 1049.5,656.1 1049.9,659.0 1050.3,655.9 1050.7,658.7 1051.1,657.4 1051.5,659.3 1051.9,658.8 1052.3,660.2 1052.7,659.4 1052.7,660.0 1053.1,658.9 1053.5,659.8 1053.9,659.2 1054.3,657.6 1054.7,656.6 1055.1,657.0 1055.5,660.4 1055.9,655.7 1056.3,660.4 1056.7,659.1 1057.1,662.0 1057.5,661.4 1057.9,660.0 1058.3,661.6 1058.7,657.9 1059.1,662.6 1059.5,663.2 1059.9,659.3 1060.3,664.2 1060.7,662.6 1061.1,663.2 1061.5,660.3 1061.9,663.6 1062.3,663.6 1062.7,662.5 1063.1,660.9 1063.5,663.9 1063.9,664.6 1064.3,663.3 1064.7,664.4 1065.1,661.8 1065.5,663.1 1065.9,663.7 1066.3,663.2 1066.7,667.8 1067.1,663.7 1067.5,661.9 1067.9,664.3 1068.3,661.1 1068.7,663.4 1069.1,664.0 1069.5,661.9 1069.9,662.1 1070.3,661.0 1070.7,662.9 1071.1,661.4 1071.5,665.5 1071.9,663.7 1072.3,662.3 1072.7,660.2 1073.1,666.3 1073.5,665.1 1073.9,663.7 1074.3,663.2 1074.7,663.3 1075.1,662.2 1075.5,666.3 1075.9,663.3 1076.3,660.4 1076.7,661.6 1077.1,658.1 1077.5,663.8 1077.9,663.8 1078.3,665.5 1078.7,665.9 1079.1,660.9 1079.5,663.0 1079.9,664.0 1080.3,663.5 1080.7,661.0 1081.1,663.4 1081.5,662.9 1081.9,664.3 1082.3,661.6 1082.7,661.0 1083.1,660.3 1083.5,660.6 1083.9,659.9 1084.3,660.5 1084.7,661.8 1085.1,661.6 1085.5,662.8 1085.9,662.4 1086.3,661.4 1086.7,658.1 1087.1,661.0 1087.5,661.9 1087.9,657.5 1088.3,657.6 1088.7,658.0 1089.1,657.7 1089.5,658.9 1089.9,657.7 1090.3,659.9 1090.7,656.8 1091.0,658.6 1091.1,658.1 1091.5,657.4 1091.9,661.0 1092.3,659.2 1092.7,660.2 1093.1,658.8 1093.5,660.8 1093.9,660.8 1094.3,659.2 1094.7,656.5 1095.1,661.2 1095.5,661.2 1095.9,660.6 1096.3,660.8 1096.7,660.8 1097.1,661.2 1097.5,659.4 1097.9,661.2 1098.3,662.1 1098.7,660.5 1099.1,660.0 1099.5,665.1 1099.9,663.2 1100.3,661.6 1100.7,661.3 1101.1,657.6 1101.5,659.8 1101.9,662.1 1102.3,664.6 1102.7,658.7 1103.1,661.1 1103.5,665.8 1103.9,663.8 1104.3,663.4 1104.7,664.8 1105.1,662.3 1105.5,662.5 1105.9,664.0 1106.3,664.2 1106.7,660.8 1107.1,665.4 1107.5,659.6 1107.9,661.5 1108.3,668.3 1108.7,662.0 1109.1,664.3 1109.5,661.5 1109.9,662.8 1110.3,662.2 1110.7,662.8 1111.1,664.7 1111.5,666.6 1111.9,664.8 1112.3,665.9 1112.7,662.2 1113.1,665.7 1113.5,664.0 1113.9,665.4 1114.3,662.2 1114.7,662.5 1115.1,665.6 1115.5,664.3 1115.9,663.5 1116.3,662.1 1116.7,663.1 1117.1,664.1 1117.5,664.4 1117.9,662.2 1118.3,662.5 1118.7,663.9 1119.1,661.1 1119.5,664.9 1119.9,663.2 1120.3,663.0 1120.7,659.2 1121.1,660.6 1121.5,661.4 1121.9,662.1 1122.3,661.2 1122.7,663.6 1123.1,663.2 1123.5,662.5 1123.9,659.4 1124.3,665.5 1124.7,662.6 1125.1,664.1 1125.5,662.0 1125.9,663.3 1126.3,664.7 1126.7,663.9 1127.1,665.2 1127.5,663.0 1127.9,666.9 1128.3,660.1 1128.7,662.2 1129.1,664.8 1129.5,662.5 1129.9,662.3 1130.3,659.9 1130.7,665.2 1131.1,659.9 1131.5,664.1 1131.9,663.7 1132.3,665.0 1132.7,666.0 1133.1,662.1 1133.5,661.7 1133.9,662.6 1134.3,660.1 1134.7,664.6 1135.1,662.4 1135.5,663.2 1135.9,660.9 1136.3,662.9 1136.7,662.0 1137.1,662.9 1137.5,661.2 1137.9,664.9 1138.3,662.0 1138.7,658.6 1139.1,664.1 1139.5,662.3 1139.9,661.3 1140.3,667.2 1140.7,662.4 1141.1,660.1 1141.5,661.2 1141.9,662.8 1142.3,661.6 1142.7,663.8 1143.1,663.1 1143.5,659.6 1143.9,660.8 1144.3,661.4 1144.7,659.2 1145.1,658.8 1145.5,660.6 1145.9,659.6 1146.3,655.9 1146.7,657.0 1147.1,657.0 1147.5,657.4 1147.9,656.2 1148.0,659.7 1148.3,655.8 1148.7,655.7 1149.1,658.2 1149.5,654.1 1149.9,656.5 1150.3,659.6 1150.7,656.5 1151.1,657.9 1151.5,661.6 1151.9,660.8 1152.3,660.3 1152.7,660.9 1153.1,659.5 1153.5,661.2 1153.9,660.2 1154.3,663.8 1154.7,659.7 1155.1,656.4 1155.5,652.9 1155.9,647.3 1156.3,640.6 1156.7,637.9 1156.7,638.8 1157.1,640.4 1157.5,646.4 1157.9,652.6 1158.3,656.1 1158.7,653.7 1159.1,656.8 1159.5,653.9 1159.5,657.2 1159.9,656.3 1160.3,657.0 1160.7,660.8 1161.1,662.1 1161.5,660.5 1161.9,666.1 1162.3,662.0 1162.7,664.7 1163.1,662.0 1163.5,659.7 1163.9,660.7 1164.3,662.6 1164.7,664.0 1165.1,665.9 1165.5,663.0 1165.9,662.4 1166.3,661.0 1166.7,663.0 1167.1,663.9 1167.5,659.3 1167.9,665.5 1168.3,665.1 1168.7,667.2 1169.1,661.6 1169.5,663.1 1169.9,663.2 1170.3,660.8 1170.7,661.8 1171.1,661.6 1171.5,664.3 1171.9,664.1 1172.3,665.7 1172.7,662.6 1173.1,660.7 1173.5,663.9 1173.9,663.9 1174.3,664.5 1174.7,665.6 1175.1,662.4 1175.5,664.8 1175.9,661.7 1176.3,663.8 1176.7,664.8 1177.1,663.4 1177.5,663.9 1177.9,661.2 1178.3,662.5 1178.7,664.1 1179.1,661.7 1179.5,662.3 1179.9,668.0 1180.3,664.3 1180.7,662.4 1181.1,662.0 1181.5,666.2 1181.9,658.8 1182.3,663.1 1182.7,665.0 1183.1,662.9 1183.5,664.7 1183.9,662.1 1184.3,663.8 1184.7,663.8 1185.1,663.7 1185.5,664.0 1185.9,663.6 1186.3,665.6 1186.7,663.2 1187.1,662.6 1187.5,663.3 1187.9,663.5 1188.3,661.2 1188.7,660.4 1189.1,661.6 1189.5,664.5 1189.9,662.8 1190.3,663.3 1190.7,668.8 1191.1,665.8 1191.5,663.4 1191.9,662.7 1192.3,666.3 1192.7,662.5 1193.1,666.0 1193.5,664.6 1193.9,666.1 1194.3,662.4 1194.7,665.4 1195.1,660.6 1195.5,663.3 1195.9,665.3 1196.3,664.6 1196.7,660.3 1197.1,664.6 1197.5,664.3 1197.9,663.4 1198.3,662.1 1198.7,663.0 1199.1,662.5 1199.5,665.2 1199.9,664.5 1200.3,665.4 1200.7,664.7 1201.1,661.2 1201.5,663.8 1201.9,667.2 1202.3,661.6 1202.7,664.0 1203.1,662.2 1203.5,662.0 1203.9,663.9 1204.3,665.1 1204.7,664.6 1205.1,664.1 1205.5,665.0 1205.9,660.5 1206.3,664.6 1206.7,664.0 1207.1,662.9 1207.5,663.4 1207.9,662.1 1208.3,665.7 1208.7,662.5 1209.1,661.4 1209.5,664.0 1209.9,663.1 1210.3,664.1 1210.7,666.7 1211.1,663.9 1211.5,664.3 1211.9,668.0 1212.3,661.4 1212.7,664.6 1213.1,665.9 1213.5,666.6 1213.9,667.9 1214.3,662.7 1214.7,664.9 1215.1,663.6 1215.5,663.1 1215.9,662.5 1216.3,661.4 1216.7,664.5 1217.1,665.3 1217.5,662.3 1217.9,665.5 1218.3,663.2 1218.7,662.2 1219.1,659.5 1219.5,666.0 1219.9,665.3 1220.3,663.4 1220.7,663.4 1221.1,661.7 1221.5,664.9 1221.9,663.8 1222.3,664.8 1222.7,664.2 1223.1,661.3 1223.5,661.0 1223.9,664.5 1224.3,660.8 1224.7,664.4 1225.1,665.6 1225.5,661.8 1225.9,665.3 1226.3,664.2 1226.7,665.2 1227.1,663.0 1227.5,664.3 1227.9,664.9 1228.3,667.4 1228.7,665.5 1229.1,665.0 1229.5,661.8 1229.9,664.6 1230.3,662.9 1230.7,663.9 1231.1,664.6 1231.5,665.9 1231.9,665.3 1232.3,664.6 1232.7,664.3 1233.1,666.6 1233.5,662.5 1233.9,664.2 1234.3,666.5 1234.7,663.7 1235.1,665.5 1235.5,665.7 1235.9,667.6 1236.3,666.2 1236.7,661.4 1237.1,664.4 1237.5,664.9 1237.9,665.8 1238.3,664.9 1238.7,667.5 1239.1,666.0 1239.5,662.0 1239.9,662.9 1240.3,660.2 1240.7,666.9 1241.1,663.6 1241.5,663.7 1241.9,661.3 1242.3,663.3 1242.7,664.8 1243.1,663.6 1243.5,663.7 1243.9,663.2 1244.3,667.9 1244.7,663.4 1245.1,661.7 1245.5,663.3 1245.9,663.4 1246.3,663.7 1246.7,663.5 1247.1,662.0 1247.5,663.6 1247.9,664.5 1248.3,661.3 1248.7,667.1 1249.1,666.5 1249.5,660.4 1249.9,662.7 1250.3,665.0 1250.7,665.6 1251.1,666.4 1251.5,659.9 1251.9,661.5 1252.3,662.7 1252.7,664.6 1253.1,661.8 1253.5,664.6 1253.9,664.8 1254.3,665.1 1254.7,661.7 1255.1,664.4 1255.5,664.2 1255.9,663.2 1256.3,666.4 1256.7,663.5 1257.1,666.5 1257.5,663.0 1257.9,667.0 1258.3,666.8 1258.7,662.3 1259.1,664.5 1259.5,664.4 1259.9,662.0 1260.3,665.2 1260.7,664.9 1261.1,662.4 1261.5,664.1 1261.9,665.6 1262.3,663.8 1262.7,662.9 1263.1,667.0 1263.5,662.3 1263.9,664.8 1264.3,666.1 1264.7,665.5 1265.1,660.9 1265.5,663.7 1265.9,663.9 1266.3,663.8 1266.7,665.3 1267.1,665.2 1267.5,664.5 1267.9,664.7 1268.3,665.9 1268.7,666.0 1269.1,660.4 1269.5,667.8 1269.9,663.2 1270.3,665.5 1270.7,661.2 1271.1,663.2 1271.5,662.1 1271.9,666.5 1272.3,666.3 1272.7,664.6 1273.1,664.1 1273.5,665.0 1273.9,662.8 1274.3,663.4 1274.7,663.0 1275.1,665.7 1275.5,664.3 1275.9,662.1 1276.3,664.9 1276.7,665.3 1277.1,666.6 1277.5,663.2 1277.9,665.0 1278.3,667.9 1278.7,663.6 1279.1,663.4 1279.5,665.2 1279.9,663.4 1280.3,664.3 1280.7,663.3 1281.1,662.7 1281.5,665.6 1281.9,663.3 1282.3,662.2 1282.7,663.4 1283.1,663.7 1283.5,664.4 1283.9,665.6 1284.3,667.1 1284.7,661.8 1285.1,663.5 1285.5,660.6 1285.9,664.3 1286.3,664.6 1286.7,662.6 1287.1,662.2 1287.5,662.1 1287.9,661.3 1288.3,665.2 1288.7,667.6 1289.1,662.2 1289.5,667.3 1289.9,664.2 1290.3,661.9 1290.7,665.4 1291.1,665.7 1291.5,665.0 1291.9,663.8 1292.3,667.1 1292.7,663.4 1293.1,664.9 1293.5,664.9 1293.9,662.2 1294.3,660.5 1294.7,660.7 1295.1,663.3 1295.5,664.5 1295.9,660.8 1296.3,662.5 1296.7,666.5 1297.1,660.7 1297.5,664.8 1297.9,664.6 1298.3,665.3 1298.7,661.4 1299.1,664.6 1299.5,661.7 1299.9,666.4 1300.3,662.5 1300.7,664.5 1301.1,662.5 1301.5,664.1 1301.9,661.1 1302.3,664.3 1302.7,664.8 1303.1,663.6 1303.5,666.4 1303.9,664.2 1304.3,664.8 1304.7,664.2 1305.1,666.8 1305.5,662.3 1305.9,663.2 1306.3,663.6 1306.7,665.2 1307.1,664.8 1307.5,665.9 1307.9,665.1 1308.3,663.5 1308.7,664.3 1309.1,665.1 1309.5,660.2 1309.9,666.7 1310.3,663.1 1310.7,663.3 1311.1,664.3 1311.5,663.5 1311.9,661.3 1312.3,663.4 1312.7,666.2 1313.1,665.5 1313.5,665.9 1313.9,662.8 1314.3,663.4 1314.7,665.6 1315.1,666.4 1315.5,663.9 1315.9,662.2 1316.3,660.5 1316.7,666.4 1317.1,661.1 1317.5,664.6 1317.9,665.5 1318.3,669.7 1318.7,664.0 1319.1,663.2 1319.5,663.8 1319.9,663.7 1320.3,664.9 1320.7,663.4 1321.1,660.6 1321.5,657.9 1321.9,662.0 1322.3,660.1 1322.7,663.9 1323.1,659.0 1323.3,661.8 1323.5,660.1 1323.9,660.0 1324.3,664.7 1324.7,662.2 1325.1,661.8 1325.5,663.8 1325.9,661.3 1326.3,662.3 1326.7,662.1 1327.1,667.0 1327.5,664.4 1327.9,665.0 1328.3,666.0 1328.7,663.7 1329.1,663.9 1329.5,661.3 1329.9,665.3 1330.3,664.9 1330.7,663.6 1331.1,666.8 1331.5,661.4 1331.9,665.4 1332.3,662.1 1332.7,662.5 1333.1,664.1 1333.5,666.7 1333.9,662.1 1334.3,662.3 1334.7,661.9 1335.1,667.8 1335.5,665.1 1335.9,664.9 1336.3,667.9 1336.7,664.8 1337.1,660.5 1337.5,663.4 1337.9,662.3 1338.3,668.0 1338.7,661.8 1339.1,664.8 1339.5,663.1 1339.9,663.2 1340.3,664.1 1340.7,663.9 1341.1,662.9 1341.5,662.0 1341.9,663.0 1342.3,662.3 1342.7,662.7 1343.1,664.6 1343.5,664.1 1343.9,665.2 1344.3,664.0 1344.7,667.7 1345.1,662.9 1345.5,662.7 1345.9,666.5 1346.3,663.3 1346.7,664.7 1347.1,666.3 1347.5,664.2 1347.9,664.0 1348.3,666.3 1348.7,665.0 1349.1,663.2 1349.5,662.1 1349.9,663.8 1350.3,661.3 1350.7,662.9 1351.1,662.5 1351.5,665.3 1351.9,666.2 1352.3,663.6 1352.7,663.8 1353.1,662.6 1353.5,662.1 1353.9,663.8 1354.3,665.5 1354.7,665.2 1355.1,665.2 1355.5,663.7 1355.9,659.3 1356.3,665.9 1356.7,666.4 1357.1,665.7 1357.5,665.7 1357.9,666.1 1358.3,669.1 1358.7,664.9 1359.1,667.1 1359.5,665.8 1359.9,665.7 1360.3,664.0 1360.7,663.7 1361.1,662.3 1361.5,665.4 1361.9,663.7 1362.3,662.3 1362.7,662.9 1363.1,662.1 1363.5,667.2 1363.9,663.7 1364.3,664.3 1364.7,661.9 1365.1,662.5 1365.5,666.1 1365.9,663.8 1366.3,664.8 1366.7,667.7 1367.1,668.2 1367.5,665.8 1367.9,665.3 1368.3,664.7 1368.7,663.9 1369.1,668.1 1369.5,662.2 1369.9,664.2 1370.3,661.1 1370.7,662.2 1371.1,665.3 1371.5,665.4 1371.9,665.1 1372.3,663.8 1372.7,663.2 1373.1,663.4 1373.5,663.5 1373.9,666.2 1374.3,667.0 1374.7,665.1 1375.1,663.4 1375.5,662.7 1375.9,665.1 1376.3,664.2 1376.7,661.4 1377.1,667.3 1377.5,664.9 1377.9,664.3 1378.3,663.2 1378.7,663.1 1379.1,666.2 1379.5,662.9 1379.9,664.9 1380.3,665.8 1380.7,667.9 1381.1,665.8 1381.5,664.6 1381.9,663.8 1382.3,666.0 1382.7,666.2 1383.1,663.7 1383.5,665.4 1383.9,664.1 1384.3,661.4 1384.7,662.5 1385.1,665.8 1385.5,667.1 1385.9,665.9 1386.3,664.2 1386.7,663.1 1387.1,665.2 1387.5,664.8 1387.9,661.4 1388.3,665.5 1388.7,662.9 1389.1,665.3 1389.5,664.9 1389.9,665.4 1390.3,666.2 1390.7,665.4 1391.1,662.4 1391.5,662.5 1391.9,666.2 1392.3,665.2 1392.7,661.4 1393.1,660.6 1393.5,666.0 1393.9,668.4 1394.3,665.7 1394.7,663.8 1395.1,664.7 1395.5,659.3 1395.9,662.6 1396.3,666.3 1396.7,666.0 1397.1,660.6 1397.5,666.7 1397.9,665.4 1398.3,666.2 1398.7,664.1 1399.1,664.5 1399.5,662.5 1399.9,665.0 1400.3,665.9 1400.7,662.6 1401.1,665.2 1401.5,663.7 1401.9,666.4 1402.3,666.3 1402.7,660.2 1403.1,665.2 1403.5,666.3 1403.9,663.5 1404.3,664.0 1404.7,664.1 1405.1,662.3"/>
<polyline points="223.5,837.5 223.9,838.3 224.3,841.6 224.7,839.9 225.1,835.9 225.5,838.8 225.9,837.7 226.3,839.0 226.7,836.1 227.1,839.4 227.5,839.4 227.9,841.6 228.3,839.4 228.7,839.8 229.1,836.3 229.5,842.7 229.9,835.2 230.3,840.4 230.7,838.1 231.1,837.1 231.5,837.5 231.9,837.4 232.3,839.3 232.7,838.5 233.1,841.4 233.5,835.7 233.9,838.6 234.3,837.2 234.7,840.1 235.1,835.0 235.5,838.1 235.9,839.2 236.3,836.1 236.7,840.5 237.1,839.2 237.5,840.7 237.9,840.8 238.3,837.3 238.7,837.5 239.1,838.6 239.5,840.4 239.9,840.6 240.3,837.8 240.7,838.0 241.1,837.6 241.5,838.0 241.9,838.5 242.3,838.6 242.7,842.5 243.1,837.8 243.5,838.1 243.9,839.3 244.3,836.8 244.7,838.0 245.1,838.8 245.5,840.3 245.9,836.5 246.3,841.4 246.7,838.5 247.1,839.4 247.5,840.7 247.9,840.4 248.3,841.0 248.7,839.5 249.1,839.2 249.5,839.8 249.9,837.5 250.3,841.5 250.7,838.0 251.1,837.1 251.5,843.1 251.9,839.3 252.3,837.4 252.7,842.7 253.1,839.0 253.5,841.5 253.9,838.2 254.3,839.3 254.7,836.7 255.1,836.4 255.5,838.2 255.9,839.7 256.3,841.1 256.7,843.9 257.1,837.7 257.5,841.2 257.9,838.5 258.3,839.3 258.7,837.0 259.1,837.1 259.5,838.5 259.9,837.7 260.3,839.8 260.7,838.6 261.1,841.8 261.5,839.9 261.9,839.9 262.3,841.5 262.7,840.4 263.1,839.6 263.5,839.6 263.9,839.5 264.3,841.6 264.7,840.8 265.1,840.1 265.5,841.0 265.9,838.5 266.3,840.4 266.7,837.0 267.1,841.8 267.5,839.6 267.9,839.9 268.3,840.6 268.7,839.5 269.1,839.1 269.5,841.5 269.9,839.6 270.3,837.8 270.7,840.2 271.1,836.5 271.5,842.3 271.9,839.1 272.3,839.5 272.7,843.3 273.1,843.3 273.5,839.9 273.9,840.8 274.3,841.7 274.7,842.7 275.1,839.5 275.5,840.2 275.9,842.1 276.3,840.6 276.7,841.3 277.1,841.1 277.5,838.1 277.9,838.7 278.3,835.8 278.7,839.9 279.1,843.0 279.5,838.6 279.9,842.7 280.3,842.3 280.7,840.6 281.1,840.7 281.5,840.9 281.9,839.4 282.3,840.3 282.7,840.7 283.1,842.0 283.5,842.3 283.9,839.5 284.3,842.3 284.7,839.5 285.1,840.7 285.5,841.7 285.9,841.1 286.3,841.0 286.7,841.7 287.1,840.5 287.5,840.5 287.9,841.3 288.3,843.2 288.7,841.5 289.1,845.1 289.5,842.3 289.9,836.8 290.3,841.2 290.7,844.7 291.1,841.9 291.5,841.0 291.9,840.3 292.3,844.2 292.7,843.5 293.1,843.0 293.5,842.7 293.9,844.6 294.3,843.6 294.7,840.2 295.1,843.5 295.5,842.5 295.9,842.1 296.3,843.7 296.7,842.4 297.1,837.3 297.5,845.2 297.9,844.3 298.3,842.4 298.7,842.0 299.1,843.1 299.5,840.2 299.9,842.9 300.3,842.0 300.7,841.7 301.1,840.9 301.5,841.4 301.9,844.9 302.3,845.3 302.7,844.1 303.1,843.2 303.5,842.0 303.9,844.9 304.3,846.6 304.7,841.1 305.1,845.8 305.5,839.9 305.9,843.3 306.3,844.4 306.7,841.4 307.1,841.2 307.5,844.0 307.9,845.3 308.3,843.2 308.7,846.6 309.1,843.0 309.5,847.7 309.9,844.9 310.3,845.0 310.7,845.6 311.1,845.2 311.5,847.9 311.9,848.4 312.3,845.5 312.7,844.2 313.1,842.5 313.5,843.3 313.9,845.0 314.3,844.6 314.7,844.6 315.1,844.9 315.5,845.8 315.9,842.7 316.3,843.3 316.7,847.1 317.1,846.5 317.5,844.2 317.9,847.7 318.3,844.2 318.7,845.0 319.1,842.2 319.5,847.0 319.9,845.6 320.3,847.7 320.7,847.1 321.1,846.1 321.5,846.4 321.9,848.1 322.3,845.9 322.7,846.0 323.1,846.4 323.5,847.8 323.9,848.1 324.3,849.8 324.7,846.1 325.1,848.7 325.5,845.3 325.9,847.6 326.3,846.8 326.7,849.5 327.1,847.6 327.5,845.6 327.9,847.6 328.3,847.3 328.7,846.2 329.1,846.2 329.5,845.2 329.9,851.8 330.3,847.2 330.7,848.9 331.1,845.3 331.5,845.3 331.9,847.0 332.3,847.1 332.7,848.9 333.1,845.8 333.5,848.5 333.9,850.2 334.3,845.9 334.7,849.1 335.1,845.9 335.5,848.3 335.9,848.1 336.3,850.6 336.7,846.4 337.1,848.0 337.5,849.6 337.9,846.0 338.3,848.0 338.7,846.6 339.1,847.1 339.5,849.6 339.9,849.7 340.3,853.0 340.7,851.1 341.1,850.9 341.5,848.4 341.9,848.3 342.3,848.9 342.7,844.6 343.1,851.5 343.5,847.5 343.9,846.8 344.3,847.8 344.7,850.1 345.1,850.7 345.5,847.9 345.9,849.4 346.3,848.6 346.7,846.9 347.1,848.9 347.5,848.9 347.9,846.2 348.3,850.8 348.7,846.2 349.1,849.4 349.5,847.2 349.9,847.7 350.3,847.9 350.7,850.1 351.1,846.6 351.5,848.5 351.9,851.5 352.3,847.8 352.7,848.8 353.1,850.1 353.5,848.0 353.9,850.0 354.3,847.8 354.7,850.2 355.1,849.2 355.5,847.3 355.9,851.4 356.3,848.8 356.7,848.5 357.1,847.4 357.5,848.4 357.9,849.1 358.3,849.4 358.7,851.3 359.1,847.2 359.5,848.9 359.9,851.6 360.3,849.8 360.7,850.2 361.1,852.2 361.5,850.2 361.9,850.2 362.3,849.2 362.7,852.4 363.1,851.1 363.5,847.9 363.9,850.1 364.3,847.0 364.7,851.0 365.1,850.3 365.5,849.0 365.9,848.6 366.3,846.2 366.7,850.7 367.1,849.3 367.5,849.1 367.9,850.9 368.3,848.6 368.7,848.7 369.1,848.6 369.5,847.5 369.9,854.2 370.3,849.6 370.7,849.3 371.1,851.4 371.5,844.4 371.9,849.8 372.3,849.8 372.7,848.1 373.1,850.6 373.5,846.3 373.9,849.9 374.3,851.5 374.7,846.0 375.1,847.4 375.5,849.7 375.9,850.0 376.3,848.8 376.7,850.6 377.1,850.6 377.5,847.7 377.9,849.8 378.3,847.6 378.7,846.3 379.1,845.6 379.5,851.7 379.9,849.5 380.3,853.0 380.7,847.0 381.1,849.1 381.5,850.6 381.9,849.6 382.3,850.7 382.7,850.2 383.1,848.9 383.5,846.0 383.9,848.5 384.3,853.1 384.7,851.3 385.1,852.5 385.5,849.1 385.9,849.8 386.3,848.6 386.7,850.7 387.1,850.3 387.5,851.0 387.9,853.4 388.3,848.9 388.7,851.8 389.1,848.0 389.5,852.7 389.9,850.1 390.3,850.5 390.7,851.1 391.1,853.8 391.5,850.7 391.9,849.9 392.3,848.8 392.7,851.3 393.1,849.2 393.5,849.8 393.9,850.6 394.3,851.6 394.7,849.2 395.1,851.5 395.5,853.3 395.9,847.6 396.3,852.6 396.7,854.1 397.1,849.4 397.5,851.7 397.9,848.3 398.3,851.6 398.7,850.5 399.1,851.5 399.5,849.5 399.9,849.5 400.3,850.2 400.7,849.5 401.1,849.7 401.5,850.3 401.9,848.7 402.3,850.5 402.7,851.6 403.1,846.6 403.5,851.0 403.9,849.5 404.3,848.7 404.7,848.4 405.1,849.1 405.5,849.4 405.9,851.3 406.3,848.6 406.7,852.8 407.1,849.6 407.5,852.4 407.9,853.2 408.3,849.3 408.7,853.4 409.1,855.5 409.5,851.0 409.9,852.7 410.3,851.3 410.7,851.6 411.1,851.1 411.5,850.6 411.9,852.7 412.3,853.0 412.7,851.4 413.1,854.2 413.5,853.6 413.9,853.0 414.3,850.6 414.7,855.1 415.1,854.2 415.5,848.2 415.9,850.0 416.3,851.2 416.7,853.7 417.1,854.1 417.5,851.4 417.9,852.3 418.3,853.0 418.7,849.5 419.1,852.8 419.5,851.2 419.9,851.9 420.3,851.4 420.7,849.4 421.1,849.9 421.5,851.8 421.9,852.0 422.3,851.5 422.7,853.6 423.1,851.3 423.5,850.1 423.9,851.5 424.3,851.9 424.7,852.1 425.1,854.2 425.5,852.9 425.9,854.1 426.3,853.1 426.7,851.8 427.1,854.0 427.5,851.6 427.9,852.4 428.3,850.3 428.7,852.3 429.1,851.4 429.5,852.8 429.9,855.2 430.3,856.1 430.7,853.8 431.1,851.9 431.5,853.4 431.9,852.4 432.3,851.0 432.7,851.8 433.1,851.6 433.5,851.0 433.9,854.4 434.3,851.1 434.7,851.0 435.1,852.9 435.5,850.1 435.9,849.0 436.3,848.7 436.7,850.0 437.1,848.7 437.5,847.5 437.7,846.0 437.9,845.4 438.3,849.6 438.7,846.8 439.1,850.1 439.5,848.8 439.9,850.8 440.3,851.5 440.7,854.0 441.1,847.0 441.5,854.5 441.9,850.6 442.3,852.7 442.7,853.6 443.1,851.1 443.5,852.3 443.9,853.4 444.3,852.4 444.7,851.4 445.1,853.0 445.5,853.0 445.9,850.2 446.3,855.1 446.7,853.1 447.1,848.5 447.5,851.1 447.9,855.7 448.3,855.2 448.7,852.8 449.1,849.5 449.5,852.0 449.9,854.3 450.3,853.0 450.7,851.9 451.1,851.1 451.5,854.0 451.9,852.2 452.3,853.1 452.7,853.5 453.1,855.3 453.5,852.8 453.9,852.9 454.3,849.4 454.7,854.5 455.1,854.2 455.5,852.5 455.9,848.5 456.3,851.6 456.7,852.9 457.1,856.4 457.5,853.8 457.9,854.2 458.3,854.4 458.7,855.4 459.1,851.2 459.5,851.6 459.9,850.9 460.3,852.4 460.7,852.4 461.1,853.4 461.5,851.3 461.9,853.2 462.3,851.5 462.7,857.0 463.1,852.4 463.5,857.8 463.9,856.1 464.3,851.0 464.7,854.8 465.1,854.4 465.5,850.5 465.9,854.1 466.3,852.9 466.7,853.5 467.1,851.3 467.5,852.6 467.9,853.4 468.3,852.2 468.7,851.6 469.1,852.3 469.5,850.7 469.9,853.1 470.3,848.1 470.7,855.3 471.1,852.9 471.5,853.5 471.9,854.1 472.3,850.5 472.7,856.8 473.1,851.0 473.5,853.8 473.9,853.3 474.3,855.0 474.7,852.8 475.1,850.3 475.5,853.2 475.9,848.2 476.3,851.9 476.7,851.4 477.1,855.0 477.5,851.6 477.9,851.2 478.3,850.5 478.7,850.0 479.1,850.2 479.5,851.8 479.9,848.4 480.3,849.2 480.7,845.9 481.1,844.7 481.5,840.8 481.9,834.5 482.3,829.2 482.7,825.3 482.9,825.0 483.1,825.6 483.5,829.3 483.9,834.6 484.3,839.4 484.7,845.7 485.1,849.4 485.5,850.1 485.9,853.1 486.3,850.5 486.7,851.0 487.1,854.8 487.5,850.3 487.9,853.3 488.3,853.2 488.7,852.8 489.1,855.6 489.5,851.0 489.9,851.8 490.3,848.8 490.7,850.9 491.1,851.7 491.5,851.9 491.9,852.2 492.3,853.2 492.7,851.5 493.1,849.1 493.5,852.8 493.9,853.3 494.3,850.6 494.7,851.2 495.1,855.8 495.5,854.5 495.9,854.6 496.3,854.0 496.7,853.2 497.1,851.9 497.5,853.8 497.9,852.6 498.3,852.1 498.7,852.6 499.1,852.2 499.5,853.8 499.9,850.5 500.3,856.8 500.7,850.6 501.1,851.6 501.5,853.8 501.9,850.9 502.3,851.8 502.7,852.8 503.1,847.4 503.5,851.7 503.9,850.9 504.3,852.1 504.7,853.6 505.1,853.8 505.5,855.3 505.9,855.1 506.3,854.4 506.7,852.5 507.1,854.5 507.5,851.0 507.9,852.5 508.3,855.4 508.7,854.3 509.1,850.5 509.5,852.0 509.9,854.5 510.3,853.9 510.7,854.6 511.1,849.6 511.5,850.4 511.9,852.3 512.3,850.9 512.7,852.6 513.1,852.9 513.5,853.4 513.9,852.6 514.3,853.9 514.7,854.4 515.1,853.2 515.5,850.8 515.9,855.2 516.3,853.1 516.7,853.6 517.1,853.2 517.5,849.9 517.9,853.7 518.3,851.7 518.7,850.5 519.1,854.9 519.5,852.2 519.9,853.1 520.3,854.1 520.7,855.4 521.1,849.1 521.5,850.9 521.9,853.3 522.3,850.8 522.7,846.2 523.1,852.2 523.5,852.3 523.9,853.1 524.3,852.0 524.7,850.7 525.1,851.7 525.5,851.1 525.9,849.8 526.3,850.7 526.7,850.4 527.1,847.7 527.5,851.1 527.9,850.2 528.3,849.9 528.7,843.4 529.1,848.3 529.5,847.9 529.5,846.4 529.9,849.1 530.3,845.6 530.7,850.9 531.1,849.6 531.5,848.3 531.9,852.1 532.3,850.6 532.7,850.7 533.1,848.2 533.5,851.6 533.9,853.3 534.3,852.9 534.7,849.0 535.1,853.8 535.5,854.3 535.9,853.1 536.3,851.1 536.7,849.3 537.1,850.5 537.5,851.0 537.9,852.6 538.3,853.2 538.7,851.0 539.1,849.4 539.5,851.4 539.9,849.8 540.3,854.4 540.7,849.9 541.1,852.8 541.5,853.6 541.9,850.2 542.3,853.8 542.7,851.8 543.1,850.6 543.5,850.3 543.9,852.1 544.3,854.0 544.7,848.6 545.1,853.3 545.5,851.8 545.9,850.8 546.3,852.0 546.7,852.3 547.1,852.1 547.5,853.4 547.9,850.1 548.3,855.2 548.7,853.4 549.1,850.7 549.5,848.2 549.9,851.4 550.3,850.9 550.7,852.8 551.1,853.1 551.5,855.1 551.9,851.3 552.3,852.6 552.7,850.1 553.1,849.7 553.5,852.3 553.9,848.7 554.3,848.0 554.6,847.3 554.7,848.5 555.1,849.2 555.5,848.5 555.9,847.3 556.3,850.6 556.7,849.0 557.1,850.2 557.5,851.5 557.9,851.7 558.3,847.3 558.7,854.6 559.1,852.9 559.5,855.0 559.9,856.1 560.3,850.0 560.7,850.6 561.1,852.0 561.5,853.2 561.9,850.6 562.3,851.1 562.7,853.6 563.1,850.3 563.5,852.3 563.9,853.6 564.3,851.2 564.7,853.0 565.1,851.4 565.5,848.8 565.9,850.6 566.3,850.9 566.7,850.7 567.1,851.6 567.5,852.2 567.9,852.0 568.3,851.7 568.7,850.5 569.1,850.8 569.5,850.4 569.9,850.0 570.3,853.5 570.7,847.6 571.1,851.4 571.5,848.2 571.9,850.0 572.3,852.4 572.7,850.6 573.1,853.4 573.5,849.1 573.9,850.2 574.3,849.5 574.7,850.4 575.1,849.7 575.5,849.7 575.9,850.2 576.3,851.9 576.7,850.4 577.1,849.8 577.5,849.1 577.9,848.1 578.3,846.6 578.7,846.3 579.1,846.5 579.5,843.1 579.9,843.8 580.3,841.0 580.7,838.5 581.1,836.6 581.5,835.1 581.9,833.3 582.3,832.3 582.5,832.7 582.7,833.0 583.1,832.5 583.5,835.0 583.9,836.2 584.3,837.9 584.7,840.4 585.1,843.5 585.5,844.0 585.9,845.2 586.3,848.4 586.7,848.1 587.1,847.6 587.5,850.7 587.9,849.0 588.3,847.1 588.7,846.5 589.1,847.3 589.5,847.9 589.9,848.9 590.3,848.1 590.7,845.8 591.1,842.0 591.5,841.1 591.9,834.8 592.3,826.7 592.7,818.0 593.1,810.0 593.5,804.0 593.7,803.3 593.9,803.4 594.3,810.7 594.7,817.7 595.1,827.6 595.5,836.1 595.9,841.3 596.3,842.5 596.7,846.8 597.1,849.2 597.5,849.2 597.9,846.8 598.3,851.5 598.7,846.1 599.1,849.2 599.5,847.4 599.9,848.5 600.3,848.7 600.7,850.2 601.1,847.4 601.5,850.2 601.9,852.1 602.3,850.0 602.7,851.0 603.1,850.7 603.5,848.7 603.9,849.3 604.3,849.8 604.7,850.7 605.1,853.5 605.5,852.7 605.9,849.1 606.3,849.1 606.7,848.1 607.1,845.9 607.5,852.5 607.9,851.0 608.3,846.7 608.7,850.2 609.1,854.4 609.5,851.0 609.9,851.0 610.3,850.5 610.7,848.7 611.1,848.0 611.5,848.5 611.9,850.2 612.3,849.4 612.7,851.2 613.1,853.2 613.5,851.2 613.9,851.6 614.3,849.6 614.7,848.1 615.1,854.0 615.5,851.4 615.9,852.3 616.3,849.5 616.7,847.1 617.1,852.5 617.5,846.1 617.9,849.5 618.3,849.0 618.7,850.2 619.1,851.0 619.5,851.1 619.9,845.9 620.3,851.2 620.7,846.1 621.1,850.7 621.5,848.9 621.9,847.7 622.3,848.9 622.7,847.4 623.1,849.7 623.5,851.2 623.9,850.9 624.3,849.5 624.7,851.1 625.1,849.9 625.5,852.8 625.9,849.8 626.3,847.9 626.7,848.4 627.1,847.5 627.5,848.1 627.9,848.3 628.3,849.6 628.7,849.6 629.1,847.7 629.5,847.9 629.9,845.4 630.3,845.0 630.7,841.0 631.1,842.8 631.5,842.2 631.9,846.6 632.3,838.5 632.7,839.8 633.1,837.8 633.5,834.8 633.9,837.3 634.3,836.8 634.3,834.1 634.7,832.6 635.1,837.3 635.5,835.8 635.9,840.7 636.3,840.1 636.7,842.7 637.1,842.3 637.5,846.6 637.9,845.9 638.3,848.1 638.7,846.4 639.1,845.0 639.5,844.5 639.9,846.4 640.3,848.0 640.7,846.7 641.1,852.3 641.5,848.0 641.9,848.7 642.3,847.9 642.7,845.7 643.1,850.0 643.5,849.3 643.9,849.7 644.3,846.5 644.7,848.2 645.1,848.1 645.5,849.9 645.9,845.3 646.3,848.2 646.7,848.4 647.1,844.9 647.5,842.8 647.9,843.0 648.3,838.3 648.7,834.4 649.1,828.5 649.5,822.8 649.9,818.0 650.2,816.2 650.3,817.3 650.7,819.6 651.1,825.5 651.5,830.5 651.9,837.4 652.3,839.7 652.7,843.8 653.1,846.2 653.5,845.6 653.9,846.9 654.3,846.7 654.7,845.5 655.1,849.9 655.5,845.9 655.9,844.8 656.3,846.6 656.7,847.6 657.1,847.6 657.5,846.8 657.9,846.4 658.3,843.3 658.7,848.0 659.1,849.9 659.5,845.3 659.9,843.2 660.3,847.6 660.7,845.7 661.1,838.7 661.5,843.8 661.9,842.1 662.3,841.7 662.7,844.6 663.1,840.3 663.5,834.5 663.9,828.5 664.3,821.4 664.7,810.1 665.1,801.7 665.5,794.9 665.7,794.6 665.9,795.2 666.3,800.9 666.7,811.0 667.1,820.4 667.5,829.7 667.9,833.7 668.3,838.4 668.7,839.8 669.1,844.2 669.5,842.0 669.9,843.4 670.3,845.3 670.7,843.9 671.1,843.0 671.5,842.1 671.9,841.0 672.3,839.8 672.7,837.0 673.1,833.3 673.5,833.3 673.9,828.8 674.3,827.5 674.7,823.8 675.1,822.6 675.5,820.1 675.9,819.3 675.9,819.4 676.3,819.2 676.7,821.5 677.1,823.6 677.5,826.7 677.9,828.4 678.3,831.1 678.7,835.9 679.1,837.7 679.5,839.0 679.9,841.1 680.3,841.7 680.7,842.9 681.1,845.2 681.5,844.4 681.9,846.3 682.3,844.3 682.7,842.7 683.1,844.4 683.5,845.1 683.9,843.2 684.3,844.0 684.7,843.3 685.1,845.4 685.5,844.7 685.9,844.4 686.3,840.3 686.7,841.5 687.1,842.3 687.5,839.7 687.9,838.5 688.3,836.6 688.7,839.2 689.1,837.8 689.2,839.2 689.5,837.3 689.9,841.6 690.3,838.3 690.7,836.9 691.1,840.5 691.5,841.8 691.9,844.1 692.3,841.9 692.7,842.4 693.1,843.6 693.5,844.0 693.9,841.3 694.3,846.8 694.7,847.9 695.1,844.5 695.5,844.2 695.9,846.0 696.3,845.1 696.7,848.0 697.1,845.4 697.5,847.8 697.9,844.5 698.3,844.3 698.7,844.1 699.1,844.4 699.5,847.7 699.9,848.5 700.3,847.3 700.7,847.1 701.1,842.8 701.5,848.7 701.9,844.5 702.3,849.2 702.7,851.1 703.1,846.8 703.5,847.9 703.9,848.2 704.3,844.8 704.7,845.2 705.1,846.0 705.5,847.4 705.9,848.7 706.3,847.5 706.7,849.2 707.1,846.1 707.5,844.6 707.9,847.1 708.3,847.0 708.7,844.5 709.1,848.9 709.5,845.3 709.9,845.8 710.3,847.4 710.7,845.0 711.1,847.9 711.5,847.3 711.9,847.4 712.3,846.6 712.7,845.6 713.1,845.0 713.5,846.8 713.9,848.6 714.3,847.5 714.7,846.4 715.1,847.2 715.5,847.2 715.9,841.9 716.3,843.3 716.7,844.9 717.1,840.8 717.5,840.4 717.9,841.9 718.3,840.0 718.7,842.1 719.1,839.3 719.4,841.0 719.5,844.5 719.9,842.2 720.3,838.2 720.7,839.1 721.1,839.8 721.5,842.2 721.9,840.4 722.3,844.7 722.7,847.5 723.1,847.8 723.5,843.9 723.9,845.1 724.3,845.2 724.7,844.6 725.1,849.4 725.5,845.2 725.9,844.5 726.3,847.3 726.7,847.2 727.1,849.6 727.5,849.7 727.9,846.6 728.3,843.0 728.7,848.0 729.1,848.3 729.5,850.0 729.9,844.0 730.3,844.7 730.7,849.4 731.1,849.6 731.5,849.1 731.9,846.6 732.3,848.9 732.7,845.6 733.1,844.5 733.5,846.6 733.9,847.1 734.3,848.4 734.7,848.8 735.1,843.8 735.5,847.4 735.9,847.7 736.3,844.5 736.7,846.4 737.1,846.9 737.5,847.5 737.9,845.3 738.3,845.6 738.7,844.6 739.1,847.2 739.5,846.0 739.9,845.4 740.3,847.6 740.7,846.0 741.1,844.1 741.5,848.4 741.9,848.3 742.3,847.3 742.7,844.7 743.1,848.6 743.5,845.5 743.9,843.3 744.3,846.6 744.7,850.0 745.1,845.9 745.5,847.5 745.9,848.9 746.3,846.8 746.7,845.9 747.1,846.3 747.5,847.3 747.9,845.3 748.3,846.9 748.7,847.4 749.1,845.8 749.5,847.6 749.9,847.4 750.3,845.9 750.7,846.0 751.1,846.4 751.5,845.8 751.9,845.7 752.3,843.9 752.7,845.6 753.1,845.9 753.5,844.9 753.9,841.4 754.3,842.5 754.7,842.3 754.7,839.3 755.1,842.4 755.5,842.4 755.9,843.4 756.3,845.2 756.7,844.9 757.1,841.8 757.5,846.2 757.9,844.1 758.3,846.2 758.7,847.6 759.1,845.9 759.5,845.6 759.9,846.7 760.3,847.2 760.7,844.8 761.1,845.2 761.5,847.0 761.9,849.0 762.3,846.3 762.7,847.8 763.1,844.9 763.5,846.4 763.9,846.6 764.3,844.3 764.7,846.4 765.1,845.9 765.5,841.7 765.9,846.0 766.3,846.7 766.7,846.3 767.1,846.4 767.5,843.8 767.9,844.5 768.3,845.6 768.7,844.3 769.1,845.0 769.5,848.0 769.9,844.4 770.3,845.3 770.7,849.1 771.1,845.7 771.5,844.3 771.9,846.6 772.3,846.6 772.7,846.5 773.1,843.4 773.5,846.6 773.9,847.0 774.3,849.8 774.7,847.3 775.1,845.3 775.5,846.5 775.9,847.0 776.3,845.6 776.7,845.9 777.1,848.2 777.5,846.9 777.9,846.8 778.3,844.1 778.7,846.6 779.1,842.8 779.5,848.2 779.9,845.2 780.3,847.1 780.7,848.2 781.1,843.9 781.5,847.9 781.9,846.2 782.3,847.7 782.7,844.9 783.1,844.6 783.5,848.0 783.9,846.6 784.3,846.1 784.7,843.9 785.1,848.3 785.5,845.4 785.9,845.6 786.3,844.6 786.7,846.0 787.1,847.0 787.5,845.8 787.9,845.6 788.3,844.6 788.7,848.1 789.1,848.3 789.5,844.9 789.9,843.6 790.3,845.4 790.7,842.0 791.1,845.3 791.5,845.3 791.9,845.1 792.3,847.4 792.7,847.7 793.1,845.3 793.5,843.8 793.9,846.0 794.3,845.6 794.7,841.5 795.1,841.0 795.5,839.6 795.9,835.5 796.3,832.2 796.7,829.4 797.1,825.8 797.2,826.4 797.5,826.8 797.9,831.0 798.3,834.9 798.7,839.1 799.1,839.2 799.5,842.5 799.9,842.3 800.3,844.7 800.7,845.1 801.1,844.4 801.5,844.0 801.9,844.3 802.3,844.6 802.7,843.4 803.1,843.4 803.5,843.1 803.9,842.1 804.3,845.7 804.7,841.4 805.1,845.7 805.5,844.4 805.9,840.0 806.3,839.4 806.7,842.1 807.1,840.0 807.5,841.4 807.9,842.2 808.3,840.5 808.7,838.6 809.1,837.6 809.5,839.0 809.9,834.1 810.3,835.3 810.7,832.9 811.1,824.9 811.5,819.6 811.9,809.7 812.3,783.3 812.7,741.9 813.1,709.0 813.1,708.3 813.5,736.5 813.9,771.0 814.3,780.9 814.7,771.2 815.1,759.6 815.1,760.4 815.5,779.7 815.9,802.6 816.3,817.4 816.7,823.1 817.1,829.9 817.5,832.6 817.9,831.8 818.3,834.9 818.7,837.9 819.1,838.6 819.5,837.9 819.9,842.2 820.3,843.5 820.7,839.3 821.1,845.0 821.5,839.4 821.9,843.0 822.3,842.5 822.7,842.8 823.1,844.2 823.5,841.9 823.9,844.0 824.3,847.2 824.7,845.2 825.1,847.1 825.5,846.0 825.9,841.8 826.3,847.8 826.7,846.1 827.1,845.9 827.5,844.2 827.9,844.0 828.3,843.1 828.7,844.7 829.1,845.2 829.5,844.6 829.9,844.7 830.3,841.5 830.7,843.5 831.1,843.5 831.5,845.5 831.9,844.1 832.3,844.0 832.7,845.0 833.1,844.0 833.5,844.4 833.9,846.9 834.3,844.7 834.7,843.4 835.1,846.1 835.5,846.5 835.9,846.4 836.3,843.1 836.7,847.0 837.1,845.5 837.5,845.6 837.9,845.5 838.3,846.2 838.7,846.3 839.1,848.0 839.5,846.0 839.9,845.3 840.3,846.6 840.7,845.4 841.1,847.4 841.5,845.7 841.9,846.7 842.3,844.6 842.7,847.1 843.1,846.4 843.5,843.9 843.9,844.9 844.3,845.7 844.7,843.3 845.1,843.7 845.5,846.3 845.9,846.6 846.3,848.0 846.7,843.7 847.1,845.1 847.5,842.3 847.9,848.8 848.3,843.6 848.7,845.5 849.1,848.9 849.5,848.0 849.9,844.1 850.3,849.4 850.7,846.2 851.1,843.6 851.5,845.8 851.9,846.4 852.3,846.4 852.7,841.7 853.1,848.3 853.5,842.6 853.9,845.0 854.3,847.8 854.7,846.0 855.1,845.2 855.5,844.1 855.9,846.1 856.3,847.1 856.7,842.7 857.1,842.9 857.5,840.0 857.8,839.3 857.9,836.6 858.3,841.6 858.7,844.3 859.1,843.5 859.5,846.2 859.9,845.0 860.3,847.0 860.7,845.2 861.1,844.3 861.5,844.1 861.9,844.9 862.3,845.2 862.7,843.5 863.1,844.6 863.5,842.5 863.9,842.6 864.3,846.0 864.7,845.4 865.1,846.3 865.5,845.1 865.9,845.3 866.3,847.9 866.7,843.5 867.1,845.5 867.5,847.6 867.9,848.5 868.3,846.1 868.7,845.1 869.1,843.4 869.5,845.0 869.9,845.5 870.3,845.2 870.7,846.0 871.1,846.0 871.5,844.1 871.9,843.3 872.3,844.5 872.7,845.6 873.1,847.7 873.5,842.1 873.9,846.7 874.3,844.6 874.7,847.0 875.1,848.3 875.5,845.8 875.9,843.2 876.3,844.4 876.7,845.8 877.1,844.6 877.5,845.0 877.9,844.0 878.3,844.9 878.7,844.2 879.1,846.6 879.5,845.8 879.9,846.4 880.3,842.5 880.7,844.4 881.1,843.9 881.5,844.5 881.9,843.8 882.3,844.1 882.7,847.6 883.1,844.6 883.5,842.8 883.9,844.5 884.3,848.6 884.7,845.9 885.1,843.2 885.5,844.3 885.9,844.7 886.3,844.7 886.7,841.7 887.1,843.1 887.5,844.4 887.9,841.7 888.3,844.4 888.7,844.7 889.1,845.9 889.5,846.4 889.9,844.3 890.3,845.0 890.7,845.7 891.1,846.3 891.5,844.7 891.9,843.4 892.3,845.7 892.7,846.3 893.1,845.1 893.5,845.8 893.9,847.5 894.3,844.1 894.7,843.9 895.1,843.3 895.5,845.6 895.9,846.5 896.3,844.0 896.7,847.7 897.1,843.7 897.5,845.0 897.9,844.3 898.3,846.6 898.7,843.3 899.1,847.1 899.5,844.1 899.9,842.3 900.3,843.6 900.7,844.3 901.1,847.3 901.5,843.8 901.9,844.3 902.3,847.9 902.7,844.7 903.1,843.1 903.5,843.0 903.9,841.6 904.3,844.8 904.7,846.3 905.1,843.8 905.5,842.6 905.9,844.7 906.3,844.3 906.7,844.1 907.1,845.3 907.5,844.6 907.9,843.8 908.3,846.2 908.7,841.5 909.1,842.8 909.5,844.2 909.9,842.1 910.3,846.8 910.7,840.6 911.1,845.3 911.5,845.0 911.9,844.5 912.3,844.7 912.7,843.2 913.1,843.2 913.5,846.9 913.9,844.1 914.3,842.0 914.7,842.3 915.1,841.9 915.5,844.7 915.9,845.9 916.3,843.1 916.7,843.7 917.1,842.5 917.5,844.5 917.9,843.9 918.3,843.2 918.7,843.9 919.1,838.0 919.4,841.2 919.5,837.3 919.9,841.6 920.3,842.5 920.7,842.9 921.1,843.5 921.5,842.0 921.9,841.3 922.3,843.2 922.7,840.6 923.1,841.8 923.5,838.6 923.9,838.2 924.3,835.2 924.7,830.5 925.1,826.0 925.5,821.2 925.9,816.2 926.3,814.2 926.3,813.9 926.7,815.2 927.1,817.8 927.5,821.5 927.9,825.2 928.3,825.1 928.7,823.4 929.1,821.0 929.5,818.4 929.8,818.8 929.9,818.5 930.3,821.2 930.7,826.0 931.1,829.8 931.5,833.8 931.9,837.2 932.3,839.6 932.7,842.4 933.1,839.3 933.5,841.6 933.9,843.5 934.3,842.0 934.7,842.3 935.1,841.8 935.5,842.8 935.9,844.5 936.3,845.5 936.7,844.1 937.1,845.8 937.5,843.7 937.9,840.9 938.3,845.1 938.7,840.6 939.1,844.0 939.5,844.2 939.9,842.4 940.3,844.0 940.7,843.4 941.1,844.6 941.5,843.8 941.9,845.4 942.3,843.7 942.7,845.3 943.1,844.4 943.5,844.8 943.9,844.6 944.3,843.5 944.7,846.2 945.1,845.3 945.5,840.6 945.9,842.2 946.3,847.0 946.7,843.9 947.1,849.0 947.5,845.2 947.9,845.2 948.3,843.6 948.7,844.0 949.1,844.7 949.5,845.8 949.9,844.6 950.3,844.4 950.7,842.8 951.1,843.6 951.5,843.9 951.9,844.3 952.3,843.3 952.7,842.9 953.1,844.0 953.5,840.4 953.9,841.8 954.3,843.1 954.7,845.0 955.1,843.3 955.5,842.7 955.9,845.5 956.3,844.3 956.7,846.6 957.1,844.3 957.5,843.3 957.9,843.9 958.3,847.4 958.7,847.0 959.1,844.8 959.5,846.2 959.9,842.2 960.3,846.5 960.7,844.9 961.1,844.2 961.5,844.4 961.9,844.6 962.3,843.3 962.7,843.4 963.1,842.0 963.5,846.5 963.9,842.7 964.3,843.9 964.7,845.9 965.1,846.3 965.5,846.6 965.9,843.4 966.3,843.7 966.7,844.3 967.1,841.3 967.5,845.7 967.9,841.3 968.3,843.6 968.7,845.4 969.1,845.2 969.5,843.1 969.9,845.1 970.3,845.3 970.7,840.6 971.1,843.2 971.5,844.7 971.9,844.4 972.3,843.3 972.7,843.5 973.1,847.7 973.5,843.5 973.9,845.9 974.3,842.1 974.7,845.0 975.1,845.8 975.5,843.4 975.9,843.0 976.3,847.1 976.7,843.7 977.1,845.7 977.5,841.7 977.9,846.8 978.3,840.7 978.7,842.4 979.1,843.0 979.5,843.9 979.9,844.3 980.3,846.8 980.7,847.7 981.1,847.5 981.5,845.8 981.9,844.8 982.3,841.0 982.7,844.2 983.1,843.3 983.5,845.2 983.9,842.5 984.3,843.0 984.7,843.3 985.1,845.5 985.5,844.8 985.9,843.0 986.3,841.9 986.7,843.9 987.1,843.5 987.5,843.6 987.9,844.5 988.3,845.7 988.7,845.8 989.1,843.3 989.5,843.1 989.9,846.8 990.3,844.1 990.7,845.8 991.1,844.8 991.5,844.9 991.9,847.1 992.3,844.0 992.7,846.3 993.1,845.3 993.5,844.2 993.9,843.6 994.3,843.6 994.7,846.5 995.1,846.3 995.5,843.3 995.9,845.5 996.3,841.8 996.7,844.9 997.1,848.1 997.5,842.6 997.9,845.0 998.3,843.3 998.7,844.4 999.1,842.3 999.5,844.5 999.9,840.2 1000.3,843.8 1000.7,843.8 1001.1,844.3 1001.5,847.8 1001.9,842.5 1002.3,843.2 1002.7,842.1 1003.1,845.4 1003.5,844.6 1003.9,842.6 1004.3,846.0 1004.7,844.9 1005.1,846.6 1005.5,845.7 1005.9,844.5 1006.3,842.9 1006.7,840.6 1007.1,843.2 1007.5,846.1 1007.9,843.9 1008.3,843.0 1008.7,844.8 1009.1,845.6 1009.5,849.1 1009.9,842.7 1010.3,843.7 1010.7,842.4 1011.1,843.1 1011.5,845.9 1011.9,844.3 1012.3,842.0 1012.7,846.7 1013.1,847.4 1013.5,845.9 1013.9,842.9 1014.3,842.5 1014.7,846.4 1015.1,842.5 1015.5,843.3 1015.9,841.7 1016.3,847.4 1016.7,843.1 1017.1,843.9 1017.5,842.9 1017.9,843.0 1018.3,842.1 1018.7,845.9 1019.1,843.0 1019.5,846.6 1019.9,842.1 1020.3,845.2 1020.7,846.2 1021.1,842.6 1021.5,845.0 1021.9,843.6 1022.3,842.7 1022.7,843.6 1023.1,841.0 1023.5,843.6 1023.9,841.5 1024.3,845.2 1024.7,846.6 1025.1,846.4 1025.5,843.0 1025.9,843.9 1026.3,847.6 1026.7,846.4 1027.1,845.3 1027.5,840.7 1027.9,843.7 1028.3,848.0 1028.7,844.9 1029.1,843.6 1029.5,844.2 1029.9,848.2 1030.3,846.3 1030.7,842.0 1031.1,842.4 1031.5,844.4 1031.9,846.7 1032.3,843.2 1032.7,843.7 1033.1,840.3 1033.5,843.6 1033.9,845.8 1034.3,845.6 1034.7,842.0 1035.1,845.9 1035.5,843.0 1035.9,841.8 1036.3,845.1 1036.7,841.5 1037.1,843.3 1037.5,842.9 1037.9,844.0 1038.3,844.6 1038.7,843.4 1039.1,842.8 1039.5,843.4 1039.9,840.0 1040.3,843.8 1040.7,847.4 1041.1,844.5 1041.5,846.0 1041.9,843.9 1042.3,844.0 1042.7,844.7 1043.1,845.1 1043.5,845.0 1043.9,842.4 1044.3,843.6 1044.7,840.7 1045.1,845.0 1045.5,842.9 1045.9,842.3 1046.3,840.4 1046.7,843.2 1047.1,843.9 1047.5,842.8 1047.9,843.5 1048.3,839.9 1048.7,842.5 1049.1,840.7 1049.5,835.8 1049.9,840.6 1050.3,838.3 1050.7,839.7 1050.8,838.9 1051.1,838.7 1051.5,842.0 1051.9,839.3 1052.3,840.8 1052.7,842.0 1053.1,840.5 1053.5,839.4 1053.9,842.0 1054.3,842.0 1054.7,841.0 1055.1,843.3 1055.5,845.5 1055.9,845.1 1056.3,846.3 1056.7,846.3 1057.1,844.3 1057.5,844.1 1057.9,842.4 1058.3,846.4 1058.7,843.6 1059.1,845.8 1059.5,847.6 1059.9,844.9 1060.3,842.1 1060.7,842.8 1061.1,844.0 1061.5,847.0 1061.9,844.0 1062.3,844.3 1062.7,842.7 1063.1,845.2 1063.5,845.0 1063.9,846.4 1064.3,843.3 1064.7,845.9 1065.1,842.4 1065.5,843.6 1065.9,843.8 1066.3,844.4 1066.7,845.1 1067.1,840.3 1067.5,844.2 1067.9,843.7 1068.3,842.2 1068.7,844.0 1069.1,845.4 1069.5,843.8 1069.9,843.9 1070.3,846.1 1070.7,843.7 1071.1,846.8 1071.5,845.5 1071.9,845.6 1072.3,845.8 1072.7,846.9 1073.1,843.6 1073.5,846.8 1073.9,843.3 1074.3,845.3 1074.7,845.8 1075.1,845.0 1075.5,842.8 1075.9,842.7 1076.3,842.7 1076.7,844.5 1077.1,844.8 1077.5,845.4 1077.9,841.7 1078.3,844.8 1078.7,846.0 1079.1,844.4 1079.5,844.2 1079.9,845.4 1080.3,846.9 1080.7,846.7 1081.1,846.7 1081.5,841.8 1081.9,846.5 1082.3,843.3 1082.7,845.1 1083.1,842.6 1083.5,843.9 1083.9,842.1 1084.3,842.4 1084.7,846.2 1085.1,840.7 1085.5,844.3 1085.9,842.6 1086.3,840.4 1086.7,844.5 1087.1,842.1 1087.5,841.1 1087.9,842.4 1088.3,840.3 1088.7,844.5 1089.1,838.9 1089.5,840.6 1089.9,837.9 1090.3,841.5 1090.7,842.4 1091.0,842.5 1091.1,843.5 1091.5,840.9 1091.9,840.1 1092.3,842.7 1092.7,840.1 1093.1,842.0 1093.5,840.8 1093.9,840.6 1094.3,841.9 1094.7,844.0 1095.1,843.9 1095.5,842.7 1095.9,838.1 1096.3,842.9 1096.7,843.7 1097.1,844.2 1097.5,842.3 1097.9,845.4 1098.3,844.2 1098.7,840.4 1099.1,845.1 1099.5,846.6 1099.9,844.2 1100.3,842.4 1100.7,847.1 1101.1,845.8 1101.5,841.2 1101.9,846.2 1102.3,845.4 1102.7,845.5 1103.1,842.0 1103.5,842.2 1103.9,845.4 1104.3,848.3 1104.7,845.1 1105.1,844.9 1105.5,843.6 1105.9,844.0 1106.3,846.5 1106.7,843.2 1107.1,847.8 1107.5,845.6 1107.9,845.4 1108.3,844.8 1108.7,843.6 1109.1,844.6 1109.5,842.6 1109.9,845.4 1110.3,842.0 1110.7,849.2 1111.1,845.2 1111.5,842.7 1111.9,845.8 1112.3,845.5 1112.7,844.3 1113.1,845.7 1113.5,843.8 1113.9,844.7 1114.3,844.7 1114.7,845.8 1115.1,844.1 1115.5,845.4 1115.9,839.8 1116.3,846.7 1116.7,845.2 1117.1,846.0 1117.5,844.8 1117.9,846.6 1118.3,845.2 1118.7,845.7 1119.1,845.5 1119.5,844.3 1119.9,843.8 1120.3,846.3 1120.7,846.4 1121.1,845.4 1121.5,847.5 1121.9,845.6 1122.3,846.3 1122.7,847.4 1123.1,846.6 1123.5,845.2 1123.9,843.4 1124.3,843.9 1124.7,843.4 1125.1,846.5 1125.5,838.8 1125.9,848.5 1126.3,843.5 1126.7,846.9 1127.1,845.6 1127.5,845.9 1127.9,842.7 1128.3,847.0 1128.7,845.2 1129.1,846.5 1129.5,843.8 1129.9,845.4 1130.3,844.3 1130.7,846.1 1131.1,846.7 1131.5,845.1 1131.9,846.2 1132.3,846.4 1132.7,845.4 1133.1,845.0 1133.5,842.1 1133.9,847.3 1134.3,845.9 1134.7,845.1 1135.1,845.8 1135.5,844.4 1135.9,844.5 1136.3,846.1 1136.7,842.7 1137.1,844.8 1137.5,845.8 1137.9,842.4 1138.3,843.3 1138.7,847.5 1139.1,849.2 1139.5,845.8 1139.9,846.2 1140.3,843.3 1140.7,846.9 1141.1,844.2 1141.5,844.2 1141.9,844.2 1142.3,842.1 1142.7,841.3 1143.1,841.9 1143.5,839.5 1143.9,839.4 1144.3,835.3 1144.7,837.2 1145.1,838.9 1145.5,839.5 1145.9,838.1 1146.3,835.2 1146.7,836.7 1146.7,835.0 1147.1,834.9 1147.5,838.9 1147.9,837.1 1148.3,837.9 1148.7,839.4 1149.1,841.4 1149.5,840.7 1149.9,841.0 1150.3,842.5 1150.7,842.3 1151.1,842.2 1151.5,839.2 1151.9,841.8 1152.3,843.2 1152.7,841.6 1153.1,846.4 1153.5,847.0 1153.9,845.6 1154.3,840.7 1154.7,842.3 1155.1,841.4 1155.5,840.5 1155.9,836.5 1156.3,840.1 1156.7,840.7 1157.1,838.6 1157.5,840.5 1157.8,836.1 1157.9,838.0 1158.3,839.2 1158.7,835.5 1159.1,837.4 1159.5,837.2 1159.9,840.8 1160.3,838.1 1160.7,841.5 1161.1,840.8 1161.5,843.9 1161.9,842.2 1162.3,843.4 1162.7,844.5 1163.1,843.1 1163.5,844.2 1163.9,844.9 1164.3,844.6 1164.7,846.2 1165.1,844.5 1165.5,846.0 1165.9,845.3 1166.3,844.8 1166.7,843.8 1167.1,842.4 1167.5,844.4 1167.9,846.4 1168.3,845.0 1168.7,848.3 1169.1,844.0 1169.5,845.1 1169.9,842.9 1170.3,847.5 1170.7,843.3 1171.1,846.6 1171.5,846.3 1171.9,850.1 1172.3,848.1 1172.7,847.1 1173.1,846.0 1173.5,849.1 1173.9,845.3 1174.3,843.6 1174.7,847.2 1175.1,845.6 1175.5,844.4 1175.9,846.1 1176.3,846.5 1176.7,842.8 1177.1,847.0 1177.5,848.6 1177.9,844.5 1178.3,842.8 1178.7,845.9 1179.1,845.4 1179.5,846.7 1179.9,847.0 1180.3,845.4 1180.7,848.2 1181.1,842.2 1181.5,844.1 1181.9,845.6 1182.3,845.9 1182.7,845.3 1183.1,846.4 1183.5,843.4 1183.9,841.9 1184.3,847.5 1184.7,848.5 1185.1,846.3 1185.5,844.3 1185.9,845.0 1186.3,847.2 1186.7,846.6 1187.1,848.5 1187.5,849.1 1187.9,848.3 1188.3,845.8 1188.7,848.0 1189.1,847.2 1189.5,846.8 1189.9,846.6 1190.3,846.1 1190.7,844.4 1191.1,846.9 1191.5,844.7 1191.9,846.1 1192.3,847.5 1192.7,847.3 1193.1,842.8 1193.5,844.8 1193.9,844.2 1194.3,846.4 1194.7,844.8 1195.1,847.7 1195.5,845.3 1195.9,846.9 1196.3,844.4 1196.7,844.7 1197.1,845.5 1197.5,846.8 1197.9,842.4 1198.3,846.1 1198.7,843.5 1199.1,846.4 1199.5,843.0 1199.9,845.4 1200.3,848.2 1200.7,848.5 1201.1,844.2 1201.5,849.0 1201.9,845.2 1202.3,845.9 1202.7,846.7 1203.1,845.9 1203.5,846.4 1203.9,846.2 1204.3,847.4 1204.7,846.2 1205.1,845.1 1205.5,844.0 1205.9,843.9 1206.3,845.8 1206.7,847.2 1207.1,846.4 1207.5,845.2 1207.9,846.4 1208.3,844.6 1208.7,845.8 1209.1,846.3 1209.5,844.7 1209.9,847.4 1210.3,846.8 1210.7,844.0 1211.1,845.4 1211.5,844.5 1211.9,844.6 1212.3,844.4 1212.7,846.1 1213.1,844.3 1213.3,844.2 1213.5,845.4 1213.9,845.3 1214.3,846.9 1214.7,842.8 1215.1,845.6 1215.5,841.4 1215.9,844.8 1216.3,842.9 1216.7,843.0 1217.1,845.2 1217.5,843.8 1217.9,845.2 1218.3,841.0 1218.7,848.1 1219.1,841.5 1219.5,845.1 1219.9,849.4 1220.3,844.1 1220.7,849.4 1221.1,848.2 1221.5,846.4 1221.9,846.0 1222.3,846.1 1222.7,847.0 1223.1,848.1 1223.5,848.7 1223.9,842.8 1224.3,848.0 1224.7,847.4 1225.1,844.1 1225.5,847.6 1225.9,847.7 1226.3,847.5 1226.7,845.9 1227.1,847.4 1227.5,848.2 1227.9,845.1 1228.3,845.4 1228.7,845.2 1229.1,848.4 1229.5,846.5 1229.9,845.3 1230.3,844.6 1230.7,844.2 1231.1,846.6 1231.5,847.9 1231.9,848.5 1232.3,844.5 1232.7,844.6 1233.1,844.6 1233.5,844.9 1233.9,843.8 1234.3,849.0 1234.7,847.1 1235.1,845.4 1235.5,841.9 1235.9,848.8 1236.3,847.7 1236.7,846.5 1237.1,847.4 1237.5,845.1 1237.9,847.2 1238.3,845.1 1238.7,846.4 1239.1,845.0 1239.5,842.8 1239.9,843.0 1240.3,846.4 1240.7,845.8 1241.1,843.5 1241.5,842.4 1241.9,842.6 1242.3,843.8 1242.7,840.7 1243.1,844.5 1243.3,841.4 1243.5,841.0 1243.9,842.9 1244.3,846.4 1244.7,842.2 1245.1,843.2 1245.5,841.9 1245.9,844.7 1246.3,845.1 1246.7,844.7 1247.1,844.5 1247.5,846.0 1247.9,847.0 1248.3,844.9 1248.7,845.5 1249.1,844.7 1249.5,844.9 1249.9,848.1 1250.3,844.4 1250.7,846.4 1251.1,847.9 1251.5,845.3 1251.9,847.2 1252.3,847.8 1252.7,844.2 1253.1,848.4 1253.5,844.8 1253.9,846.7 1254.3,843.8 1254.7,843.6 1255.1,845.9 1255.5,849.0 1255.9,850.5 1256.3,850.7 1256.7,848.5 1257.1,848.2 1257.5,847.6 1257.9,847.6 1258.3,845.8 1258.7,845.6 1259.1,847.1 1259.5,847.2 1259.9,845.4 1260.3,844.4 1260.7,845.0 1261.1,851.8 1261.5,844.9 1261.9,848.7 1262.3,848.3 1262.7,848.1 1263.1,845.1 1263.5,849.8 1263.9,846.9 1264.3,845.5 1264.7,845.3 1265.1,846.4 1265.5,850.3 1265.9,844.4 1266.3,845.3 1266.7,846.4 1267.1,847.2 1267.5,844.4 1267.9,844.5 1268.3,845.2 1268.7,847.4 1269.1,846.0 1269.5,846.0 1269.9,846.6 1270.3,846.5 1270.7,848.2 1271.1,845.2 1271.5,846.6 1271.9,845.5 1272.3,847.9 1272.7,848.1 1273.1,846.4 1273.5,848.9 1273.9,846.4 1274.3,849.2 1274.7,846.1 1275.1,846.0 1275.5,844.1 1275.9,844.9 1276.3,845.8 1276.7,842.7 1277.1,846.3 1277.5,848.1 1277.9,847.6 1278.3,846.9 1278.7,847.8 1279.1,845.6 1279.5,845.9 1279.9,848.2 1280.3,846.7 1280.7,848.5 1281.1,845.8 1281.5,847.8 1281.9,848.8 1282.3,846.5 1282.7,849.5 1283.1,849.2 1283.5,842.1 1283.9,851.0 1284.3,843.6 1284.7,850.8 1285.1,845.0 1285.5,842.9 1285.9,844.4 1286.3,847.6 1286.7,845.1 1287.1,845.7 1287.5,848.9 1287.9,845.0 1288.3,847.6 1288.7,848.9 1289.1,843.2 1289.5,844.4 1289.9,846.9 1290.3,846.5 1290.7,846.9 1291.1,843.0 1291.5,844.9 1291.9,847.0 1292.3,847.5 1292.7,848.6 1293.1,845.8 1293.5,845.2 1293.9,844.7 1294.3,844.7 1294.7,842.9 1295.1,849.5 1295.5,845.6 1295.9,845.3 1296.3,845.4 1296.7,847.5 1297.1,846.6 1297.5,845.1 1297.9,848.1 1298.3,846.9 1298.7,846.1 1299.1,846.4 1299.5,848.2 1299.9,847.4 1300.3,846.0 1300.7,848.0 1301.1,842.5 1301.5,847.5 1301.9,845.0 1302.3,845.3 1302.7,846.1 1303.1,849.8 1303.5,846.2 1303.9,846.2 1304.3,847.5 1304.7,842.9 1305.1,845.9 1305.5,847.4 1305.9,844.5 1306.3,847.2 1306.7,845.0 1307.1,843.7 1307.5,847.8 1307.9,846.3 1308.3,847.7 1308.7,846.7 1309.1,844.6 1309.5,848.2 1309.9,847.2 1310.3,847.1 1310.7,845.8 1311.1,844.6 1311.5,848.9 1311.9,847.7 1312.3,846.7 1312.7,845.5 1313.1,848.9 1313.5,845.4 1313.9,845.4 1314.3,850.5 1314.7,847.9 1315.1,848.6 1315.5,848.2 1315.9,850.8 1316.3,847.7 1316.7,847.8 1317.1,845.5 1317.5,847.1 1317.9,844.5 1318.3,846.4 1318.7,847.0 1319.1,848.1 1319.5,849.2 1319.9,845.6 1320.3,844.9 1320.7,847.2 1321.1,845.0 1321.5,849.5 1321.9,848.8 1322.3,844.9 1322.7,846.9 1323.1,848.8 1323.5,844.9 1323.9,845.7 1324.3,846.3 1324.7,848.8 1325.1,847.4 1325.5,846.3 1325.9,847.4 1326.3,846.9 1326.7,847.1 1327.1,847.6 1327.5,847.3 1327.9,848.1 1328.3,846.8 1328.7,846.2 1329.1,846.1 1329.5,844.1 1329.9,845.9 1330.3,849.8 1330.7,846.7 1331.1,847.6 1331.5,848.1 1331.9,845.8 1332.3,846.0 1332.7,847.3 1333.1,844.8 1333.5,848.1 1333.9,847.7 1334.3,847.0 1334.7,847.1 1335.1,847.7 1335.5,846.7 1335.9,842.2 1336.3,847.5 1336.7,845.0 1337.1,845.8 1337.5,845.7 1337.9,845.7 1338.3,843.7 1338.7,843.2 1339.1,846.5 1339.5,846.7 1339.9,847.3 1340.3,844.3 1340.7,846.2 1341.1,848.0 1341.5,846.0 1341.9,845.7 1342.3,850.1 1342.7,843.8 1343.1,845.5 1343.5,844.9 1343.9,845.8 1344.3,852.3 1344.7,845.1 1345.1,846.4 1345.5,846.1 1345.9,845.5 1346.3,848.2 1346.7,846.0 1347.1,848.6 1347.5,849.2 1347.9,845.9 1348.3,849.0 1348.7,844.4 1349.1,847.2 1349.5,848.5 1349.9,844.8 1350.3,846.7 1350.7,847.7 1351.1,847.8 1351.5,847.6 1351.9,850.7 1352.3,846.8 1352.7,849.2 1353.1,850.8 1353.5,846.0 1353.9,846.4 1354.3,845.4 1354.7,848.3 1355.1,849.3 1355.5,843.9 1355.9,845.3 1356.3,845.9 1356.7,850.9 1357.1,846.3 1357.5,847.7 1357.9,845.0 1358.3,848.8 1358.7,845.5 1359.1,847.4 1359.5,845.5 1359.9,847.0 1360.3,847.0 1360.7,847.6 1361.1,847.5 1361.5,850.4 1361.9,845.9 1362.3,849.5 1362.7,847.9 1363.1,847.0 1363.5,847.6 1363.9,847.3 1364.3,848.3 1364.7,848.2 1365.1,847.8 1365.5,847.0 1365.9,843.7 1366.3,848.2 1366.7,848.9 1367.1,847.8 1367.5,847.7 1367.9,845.6 1368.3,847.7 1368.7,848.8 1369.1,845.1 1369.5,846.4 1369.9,846.2 1370.3,849.2 1370.7,846.3 1371.1,843.9 1371.5,847.1 1371.9,849.1 1372.3,846.5 1372.7,846.0 1373.1,847.2 1373.5,849.8 1373.9,846.4 1374.3,846.6 1374.7,847.8 1375.1,845.8 1375.5,844.3 1375.9,847.6 1376.3,846.8 1376.7,848.0 1377.1,847.7 1377.5,848.3 1377.9,845.4 1378.3,847.8 1378.7,845.5 1379.1,847.8 1379.5,846.3 1379.9,849.9 1380.3,845.4 1380.7,842.9 1381.1,847.0 1381.5,846.2 1381.9,845.3 1382.3,847.1 1382.7,849.7 1383.1,846.6 1383.5,845.8 1383.9,849.5 1384.3,849.1 1384.7,847.0 1385.1,846.2 1385.5,848.4 1385.9,845.8 1386.3,845.9 1386.7,845.4 1387.1,847.7 1387.5,849.3 1387.9,846.9 1388.3,850.0 1388.7,843.6 1389.1,846.9 1389.5,844.1 1389.9,848.7 1390.3,849.3 1390.7,844.0 1391.1,845.6 1391.5,847.0 1391.9,844.3 1392.3,845.3 1392.7,845.1 1393.1,847.0 1393.5,845.5 1393.9,844.8 1394.3,845.4 1394.7,846.6 1395.1,846.8 1395.5,846.4 1395.9,848.7 1396.3,845.8 1396.7,846.8 1397.1,847.7 1397.5,846.2 1397.9,849.1 1398.3,848.2 1398.7,848.2 1399.1,845.3 1399.5,846.6 1399.9,847.7 1400.3,848.4 1400.7,845.5 1401.1,845.6 1401.5,844.2 1401.9,843.9 1402.3,848.4 1402.7,846.6 1403.1,847.7 1403.5,848.7 1403.9,846.8 1404.3,847.2 1404.7,845.3 1405.1,846.1"/>
</g>
<g fill="none" stroke="#231f20" stroke-width="3">
<rect x="222.5" y="4.5" width="1181" height="867"/>
<path d="M391.5,871 V855.5 M560.3,871 V855.5 M729.2,871 V855.5 M898.0,871 V855.5 M1066.8,871 V855.5 M1235.6,871 V855.5" stroke-width="2.7"/>
</g>
<g fill="#231f20">
<g transform="translate(479.0,171.5) scale(1.0)"><circle cx="0" cy="-5.2" r="4.45"/><ellipse cx="-5.4" cy="2.5" rx="4.6" ry="4.3"/><ellipse cx="5.4" cy="2.5" rx="4.6" ry="4.3"/><path d="M-1.5,-1.6 L1.5,-1.6 L2.6,1.5 L2,4 L-2,4 L-2.6,1.5Z M-1,3 L1,3 C1,6 1.3,8.3 2.2,9.4 L-2.2,9.4 C-1.3,8.3 -1,6 -1,3Z"/></g>
<g transform="translate(589.7,158.4) scale(1.0)"><circle cx="0" cy="-5.2" r="4.45"/><ellipse cx="-5.4" cy="2.5" rx="4.6" ry="4.3"/><ellipse cx="5.4" cy="2.5" rx="4.6" ry="4.3"/><path d="M-1.5,-1.6 L1.5,-1.6 L2.6,1.5 L2,4 L-2,4 L-2.6,1.5Z M-1,3 L1,3 C1,6 1.3,8.3 2.2,9.4 L-2.2,9.4 C-1.3,8.3 -1,6 -1,3Z"/></g>
<g transform="translate(645.4,173.4) scale(1.0)"><circle cx="0" cy="-5.2" r="4.45"/><ellipse cx="-5.4" cy="2.5" rx="4.6" ry="4.3"/><ellipse cx="5.4" cy="2.5" rx="4.6" ry="4.3"/><path d="M-1.5,-1.6 L1.5,-1.6 L2.6,1.5 L2,4 L-2,4 L-2.6,1.5Z M-1,3 L1,3 C1,6 1.3,8.3 2.2,9.4 L-2.2,9.4 C-1.3,8.3 -1,6 -1,3Z"/></g>
<g transform="translate(660.4,157.6) scale(1.0)"><circle cx="0" cy="-5.2" r="4.45"/><ellipse cx="-5.4" cy="2.5" rx="4.6" ry="4.3"/><ellipse cx="5.4" cy="2.5" rx="4.6" ry="4.3"/><path d="M-1.5,-1.6 L1.5,-1.6 L2.6,1.5 L2,4 L-2,4 L-2.6,1.5Z M-1,3 L1,3 C1,6 1.3,8.3 2.2,9.4 L-2.2,9.4 C-1.3,8.3 -1,6 -1,3Z"/></g>
<g transform="translate(790.3,184.6) scale(1.0)"><circle cx="0" cy="-5.2" r="4.45"/><ellipse cx="-5.4" cy="2.5" rx="4.6" ry="4.3"/><ellipse cx="5.4" cy="2.5" rx="4.6" ry="4.3"/><path d="M-1.5,-1.6 L1.5,-1.6 L2.6,1.5 L2,4 L-2,4 L-2.6,1.5Z M-1,3 L1,3 C1,6 1.3,8.3 2.2,9.4 L-2.2,9.4 C-1.3,8.3 -1,6 -1,3Z"/></g>
<g transform="translate(923.5,168.4) scale(1.0)"><circle cx="0" cy="-5.2" r="4.45"/><ellipse cx="-5.4" cy="2.5" rx="4.6" ry="4.3"/><ellipse cx="5.4" cy="2.5" rx="4.6" ry="4.3"/><path d="M-1.5,-1.6 L1.5,-1.6 L2.6,1.5 L2,4 L-2,4 L-2.6,1.5Z M-1,3 L1,3 C1,6 1.3,8.3 2.2,9.4 L-2.2,9.4 C-1.3,8.3 -1,6 -1,3Z"/></g>
<g transform="translate(485.0,383.6) scale(1.0)"><circle cx="0" cy="-5.2" r="4.45"/><ellipse cx="-5.4" cy="2.5" rx="4.6" ry="4.3"/><ellipse cx="5.4" cy="2.5" rx="4.6" ry="4.3"/><path d="M-1.5,-1.6 L1.5,-1.6 L2.6,1.5 L2,4 L-2,4 L-2.6,1.5Z M-1,3 L1,3 C1,6 1.3,8.3 2.2,9.4 L-2.2,9.4 C-1.3,8.3 -1,6 -1,3Z"/></g>
<g transform="translate(593.6,369.5) scale(1.0)"><circle cx="0" cy="-5.2" r="4.45"/><ellipse cx="-5.4" cy="2.5" rx="4.6" ry="4.3"/><ellipse cx="5.4" cy="2.5" rx="4.6" ry="4.3"/><path d="M-1.5,-1.6 L1.5,-1.6 L2.6,1.5 L2,4 L-2,4 L-2.6,1.5Z M-1,3 L1,3 C1,6 1.3,8.3 2.2,9.4 L-2.2,9.4 C-1.3,8.3 -1,6 -1,3Z"/></g>
<g transform="translate(649.8,382.5) scale(1.0)"><circle cx="0" cy="-5.2" r="4.45"/><ellipse cx="-5.4" cy="2.5" rx="4.6" ry="4.3"/><ellipse cx="5.4" cy="2.5" rx="4.6" ry="4.3"/><path d="M-1.5,-1.6 L1.5,-1.6 L2.6,1.5 L2,4 L-2,4 L-2.6,1.5Z M-1,3 L1,3 C1,6 1.3,8.3 2.2,9.4 L-2.2,9.4 C-1.3,8.3 -1,6 -1,3Z"/></g>
<g transform="translate(669.3,361.3) scale(1.0)"><circle cx="0" cy="-5.2" r="4.45"/><ellipse cx="-5.4" cy="2.5" rx="4.6" ry="4.3"/><ellipse cx="5.4" cy="2.5" rx="4.6" ry="4.3"/><path d="M-1.5,-1.6 L1.5,-1.6 L2.6,1.5 L2,4 L-2,4 L-2.6,1.5Z M-1,3 L1,3 C1,6 1.3,8.3 2.2,9.4 L-2.2,9.4 C-1.3,8.3 -1,6 -1,3Z"/></g>
<g transform="translate(799.2,358.7) scale(1.0)"><circle cx="0" cy="-5.2" r="4.45"/><ellipse cx="-5.4" cy="2.5" rx="4.6" ry="4.3"/><ellipse cx="5.4" cy="2.5" rx="4.6" ry="4.3"/><path d="M-1.5,-1.6 L1.5,-1.6 L2.6,1.5 L2,4 L-2,4 L-2.6,1.5Z M-1,3 L1,3 C1,6 1.3,8.3 2.2,9.4 L-2.2,9.4 C-1.3,8.3 -1,6 -1,3Z"/></g>
<g transform="translate(929.7,374.6) scale(1.0)"><circle cx="0" cy="-5.2" r="4.45"/><ellipse cx="-5.4" cy="2.5" rx="4.6" ry="4.3"/><ellipse cx="5.4" cy="2.5" rx="4.6" ry="4.3"/><path d="M-1.5,-1.6 L1.5,-1.6 L2.6,1.5 L2,4 L-2,4 L-2.6,1.5Z M-1,3 L1,3 C1,6 1.3,8.3 2.2,9.4 L-2.2,9.4 C-1.3,8.3 -1,6 -1,3Z"/></g>
<g transform="translate(484.3,640.7) scale(1.0)"><circle cx="0" cy="-5.2" r="4.45"/><ellipse cx="-5.4" cy="2.5" rx="4.6" ry="4.3"/><ellipse cx="5.4" cy="2.5" rx="4.6" ry="4.3"/><path d="M-1.5,-1.6 L1.5,-1.6 L2.6,1.5 L2,4 L-2,4 L-2.6,1.5Z M-1,3 L1,3 C1,6 1.3,8.3 2.2,9.4 L-2.2,9.4 C-1.3,8.3 -1,6 -1,3Z"/></g>
<g transform="translate(598.7,630.4) scale(1.0)"><circle cx="0" cy="-5.2" r="4.45"/><ellipse cx="-5.4" cy="2.5" rx="4.6" ry="4.3"/><ellipse cx="5.4" cy="2.5" rx="4.6" ry="4.3"/><path d="M-1.5,-1.6 L1.5,-1.6 L2.6,1.5 L2,4 L-2,4 L-2.6,1.5Z M-1,3 L1,3 C1,6 1.3,8.3 2.2,9.4 L-2.2,9.4 C-1.3,8.3 -1,6 -1,3Z"/></g>
<g transform="translate(652.6,627.4) scale(1.0)"><circle cx="0" cy="-5.2" r="4.45"/><ellipse cx="-5.4" cy="2.5" rx="4.6" ry="4.3"/><ellipse cx="5.4" cy="2.5" rx="4.6" ry="4.3"/><path d="M-1.5,-1.6 L1.5,-1.6 L2.6,1.5 L2,4 L-2,4 L-2.6,1.5Z M-1,3 L1,3 C1,6 1.3,8.3 2.2,9.4 L-2.2,9.4 C-1.3,8.3 -1,6 -1,3Z"/></g>
<g transform="translate(669.3,616.4) scale(1.0)"><circle cx="0" cy="-5.2" r="4.45"/><ellipse cx="-5.4" cy="2.5" rx="4.6" ry="4.3"/><ellipse cx="5.4" cy="2.5" rx="4.6" ry="4.3"/><path d="M-1.5,-1.6 L1.5,-1.6 L2.6,1.5 L2,4 L-2,4 L-2.6,1.5Z M-1,3 L1,3 C1,6 1.3,8.3 2.2,9.4 L-2.2,9.4 C-1.3,8.3 -1,6 -1,3Z"/></g>
<g transform="translate(798.2,616.4) scale(1.0)"><circle cx="0" cy="-5.2" r="4.45"/><ellipse cx="-5.4" cy="2.5" rx="4.6" ry="4.3"/><ellipse cx="5.4" cy="2.5" rx="4.6" ry="4.3"/><path d="M-1.5,-1.6 L1.5,-1.6 L2.6,1.5 L2,4 L-2,4 L-2.6,1.5Z M-1,3 L1,3 C1,6 1.3,8.3 2.2,9.4 L-2.2,9.4 C-1.3,8.3 -1,6 -1,3Z"/></g>
<g transform="translate(932.3,607.6) scale(1.0)"><circle cx="0" cy="-5.2" r="4.45"/><ellipse cx="-5.4" cy="2.5" rx="4.6" ry="4.3"/><ellipse cx="5.4" cy="2.5" rx="4.6" ry="4.3"/><path d="M-1.5,-1.6 L1.5,-1.6 L2.6,1.5 L2,4 L-2,4 L-2.6,1.5Z M-1,3 L1,3 C1,6 1.3,8.3 2.2,9.4 L-2.2,9.4 C-1.3,8.3 -1,6 -1,3Z"/></g>
<g transform="translate(484.0,795.7) scale(1.0)"><circle cx="0" cy="-5.2" r="4.45"/><ellipse cx="-5.4" cy="2.5" rx="4.6" ry="4.3"/><ellipse cx="5.4" cy="2.5" rx="4.6" ry="4.3"/><path d="M-1.5,-1.6 L1.5,-1.6 L2.6,1.5 L2,4 L-2,4 L-2.6,1.5Z M-1,3 L1,3 C1,6 1.3,8.3 2.2,9.4 L-2.2,9.4 C-1.3,8.3 -1,6 -1,3Z"/></g>
<g transform="translate(594.9,782.3) scale(1.0)"><circle cx="0" cy="-5.2" r="4.45"/><ellipse cx="-5.4" cy="2.5" rx="4.6" ry="4.3"/><ellipse cx="5.4" cy="2.5" rx="4.6" ry="4.3"/><path d="M-1.5,-1.6 L1.5,-1.6 L2.6,1.5 L2,4 L-2,4 L-2.6,1.5Z M-1,3 L1,3 C1,6 1.3,8.3 2.2,9.4 L-2.2,9.4 C-1.3,8.3 -1,6 -1,3Z"/></g>
<g transform="translate(650.9,798.7) scale(1.0)"><circle cx="0" cy="-5.2" r="4.45"/><ellipse cx="-5.4" cy="2.5" rx="4.6" ry="4.3"/><ellipse cx="5.4" cy="2.5" rx="4.6" ry="4.3"/><path d="M-1.5,-1.6 L1.5,-1.6 L2.6,1.5 L2,4 L-2,4 L-2.6,1.5Z M-1,3 L1,3 C1,6 1.3,8.3 2.2,9.4 L-2.2,9.4 C-1.3,8.3 -1,6 -1,3Z"/></g>
<g transform="translate(669.3,774.4) scale(1.0)"><circle cx="0" cy="-5.2" r="4.45"/><ellipse cx="-5.4" cy="2.5" rx="4.6" ry="4.3"/><ellipse cx="5.4" cy="2.5" rx="4.6" ry="4.3"/><path d="M-1.5,-1.6 L1.5,-1.6 L2.6,1.5 L2,4 L-2,4 L-2.6,1.5Z M-1,3 L1,3 C1,6 1.3,8.3 2.2,9.4 L-2.2,9.4 C-1.3,8.3 -1,6 -1,3Z"/></g>
<g transform="translate(800.9,803.6) scale(1.0)"><circle cx="0" cy="-5.2" r="4.45"/><ellipse cx="-5.4" cy="2.5" rx="4.6" ry="4.3"/><ellipse cx="5.4" cy="2.5" rx="4.6" ry="4.3"/><path d="M-1.5,-1.6 L1.5,-1.6 L2.6,1.5 L2,4 L-2,4 L-2.6,1.5Z M-1,3 L1,3 C1,6 1.3,8.3 2.2,9.4 L-2.2,9.4 C-1.3,8.3 -1,6 -1,3Z"/></g>
<g transform="translate(927.4,779.6) scale(1.0)"><circle cx="0" cy="-5.2" r="4.45"/><ellipse cx="-5.4" cy="2.5" rx="4.6" ry="4.3"/><ellipse cx="5.4" cy="2.5" rx="4.6" ry="4.3"/><path d="M-1.5,-1.6 L1.5,-1.6 L2.6,1.5 L2,4 L-2,4 L-2.6,1.5Z M-1,3 L1,3 C1,6 1.3,8.3 2.2,9.4 L-2.2,9.4 C-1.3,8.3 -1,6 -1,3Z"/></g>
<path transform="translate(1155.8,365.6) scale(1.0)" d="M0,0 L7.4,10.2 C8.5,11.8 9,13.3 8.7,14.9 C8.3,16.7 6.8,17.6 5.4,17.6 C3.7,17.6 2.4,16.2 1.4,13.9 C1.3,15.8 1.5,17.6 2.3,18.6 L2.6,19.2 L-2.6,19.2 L-2.3,18.6 C-1.5,17.6 -1.3,15.8 -1.4,13.9 C-2.4,16.2 -3.7,17.6 -5.4,17.6 C-6.8,17.6 -8.3,16.7 -8.7,14.9 C-9,13.3 -8.5,11.8 -7.4,10.2Z"/>
<path transform="translate(1157.3,606.7) scale(1.0)" d="M0,0 L7.4,10.2 C8.5,11.8 9,13.3 8.7,14.9 C8.3,16.7 6.8,17.6 5.4,17.6 C3.7,17.6 2.4,16.2 1.4,13.9 C1.3,15.8 1.5,17.6 2.3,18.6 L2.6,19.2 L-2.6,19.2 L-2.3,18.6 C-1.5,17.6 -1.3,15.8 -1.4,13.9 C-2.4,16.2 -3.7,17.6 -5.4,17.6 C-6.8,17.6 -8.3,16.7 -8.7,14.9 C-9,13.3 -8.5,11.8 -7.4,10.2Z"/>
</g>
<g fill="none" stroke="#231f20" stroke-width="1.5"><circle cx="809.4" cy="71.7" r="11.0"/><path d="M803.4,65.7 L815.4,77.7 M815.4,65.7 L803.4,77.7"/></g>
<g fill="none" stroke="#231f20" stroke-width="1.5"><circle cx="815.1" cy="244.2" r="11.0"/><path d="M809.1,238.2 L821.1,250.2 M821.1,238.2 L809.1,250.2"/></g>
<g fill="none" stroke="#231f20" stroke-width="1.5"><circle cx="818.7" cy="437.8" r="11.0"/><path d="M812.7,431.8 L824.7,443.8 M824.7,431.8 L812.7,443.8"/></g>
<g fill="none" stroke="#231f20" stroke-width="1.5"><circle cx="813.7" cy="689.7" r="11.0"/><path d="M807.7,683.7 L819.7,695.7 M819.7,683.7 L807.7,695.7"/></g>
<text transform="translate(223.3,929) scale(1,1.033)" font-size="55.5" text-anchor="middle">10</text>
<text transform="translate(392.1,929) scale(1,1.033)" font-size="55.5" text-anchor="middle">20</text>
<text transform="translate(560.9,929) scale(1,1.033)" font-size="55.5" text-anchor="middle">30</text>
<text transform="translate(729.8,929) scale(1,1.033)" font-size="55.5" text-anchor="middle">40</text>
<text transform="translate(898.6,929) scale(1,1.033)" font-size="55.5" text-anchor="middle">50</text>
<text transform="translate(1067.4,929) scale(1,1.033)" font-size="55.5" text-anchor="middle">60</text>
<text transform="translate(1236.2,929) scale(1,1.033)" font-size="55.5" text-anchor="middle">70</text>
<text transform="translate(1405.0,929) scale(1,1.033)" font-size="55.5" text-anchor="middle">80</text>
<text transform="translate(812,1006) scale(1,1.033)" font-size="55.5" text-anchor="middle">2<tspan font-style="italic">θ</tspan>/(°)</text>
<text transform="translate(190.2,438.5) rotate(-90)" font-size="54.5" text-anchor="middle" >强度</text>
<g fill="none" stroke="#231f20" stroke-width="1.85"><circle cx="256.9" cy="53.3" r="13.3"/><path d="M249.5,45.9 L264.3,60.7 M264.3,45.9 L249.5,60.7"/></g>
<text x="291" y="63.2" font-size="55.5"><tspan font-style="italic">α</tspan><tspan font-size="61.8" dy="1.7">−</tspan><tspan dy="-1.7" dx="-2.5">Fe</tspan></text>
<g fill="#231f20"><g transform="translate(464.5,51.9) scale(1.18)"><circle cx="0" cy="-5.2" r="4.45"/><ellipse cx="-5.4" cy="2.5" rx="4.6" ry="4.3"/><ellipse cx="5.4" cy="2.5" rx="4.6" ry="4.3"/><path d="M-1.5,-1.6 L1.5,-1.6 L2.6,1.5 L2,4 L-2,4 L-2.6,1.5Z M-1,3 L1,3 C1,6 1.3,8.3 2.2,9.4 L-2.2,9.4 C-1.3,8.3 -1,6 -1,3Z"/></g><path transform="translate(256.4,91.0) scale(1.2)" d="M0,0 L7.4,10.2 C8.5,11.8 9,13.3 8.7,14.9 C8.3,16.7 6.8,17.6 5.4,17.6 C3.7,17.6 2.4,16.2 1.4,13.9 C1.3,15.8 1.5,17.6 2.3,18.6 L2.6,19.2 L-2.6,19.2 L-2.3,18.6 C-1.5,17.6 -1.3,15.8 -1.4,13.9 C-2.4,16.2 -3.7,17.6 -5.4,17.6 C-6.8,17.6 -8.3,16.7 -8.7,14.9 C-9,13.3 -8.5,11.8 -7.4,10.2Z"/></g>
<text x="500" y="63.2" font-size="55.5">Fe<tspan font-size="32" dy="11.6">2</tspan><tspan dy="-11.6">SiO</tspan><tspan font-size="32" dy="11.6">4</tspan></text>
<text x="291" y="119" font-size="55.5">FeAl<tspan font-size="32" dy="11.6">2</tspan><tspan dy="-11.6">O</tspan><tspan font-size="32" dy="11.6">4</tspan></text>
<text transform="translate(1177,205.7) scale(1,1.033)" font-size="55.5" text-anchor="end">5%</text>
<text x="1191.3" y="206.9" font-size="55.8">高岭土</text>
<text transform="translate(1188,345.9) scale(1,1.033)" font-size="55.5" text-anchor="end">10%</text>
<text x="1202.7" y="347.1" font-size="55.8">高岭土</text>
<text transform="translate(1188,585) scale(1,1.033)" font-size="55.5" text-anchor="end">15%</text>
<text x="1202.7" y="586.2" font-size="55.8">高岭土</text>
<text transform="translate(1188,815) scale(1,1.033)" font-size="55.5" text-anchor="end">20%</text>
<text x="1202.7" y="816.2" font-size="55.8">高岭土</text>
</svg></body></html>
